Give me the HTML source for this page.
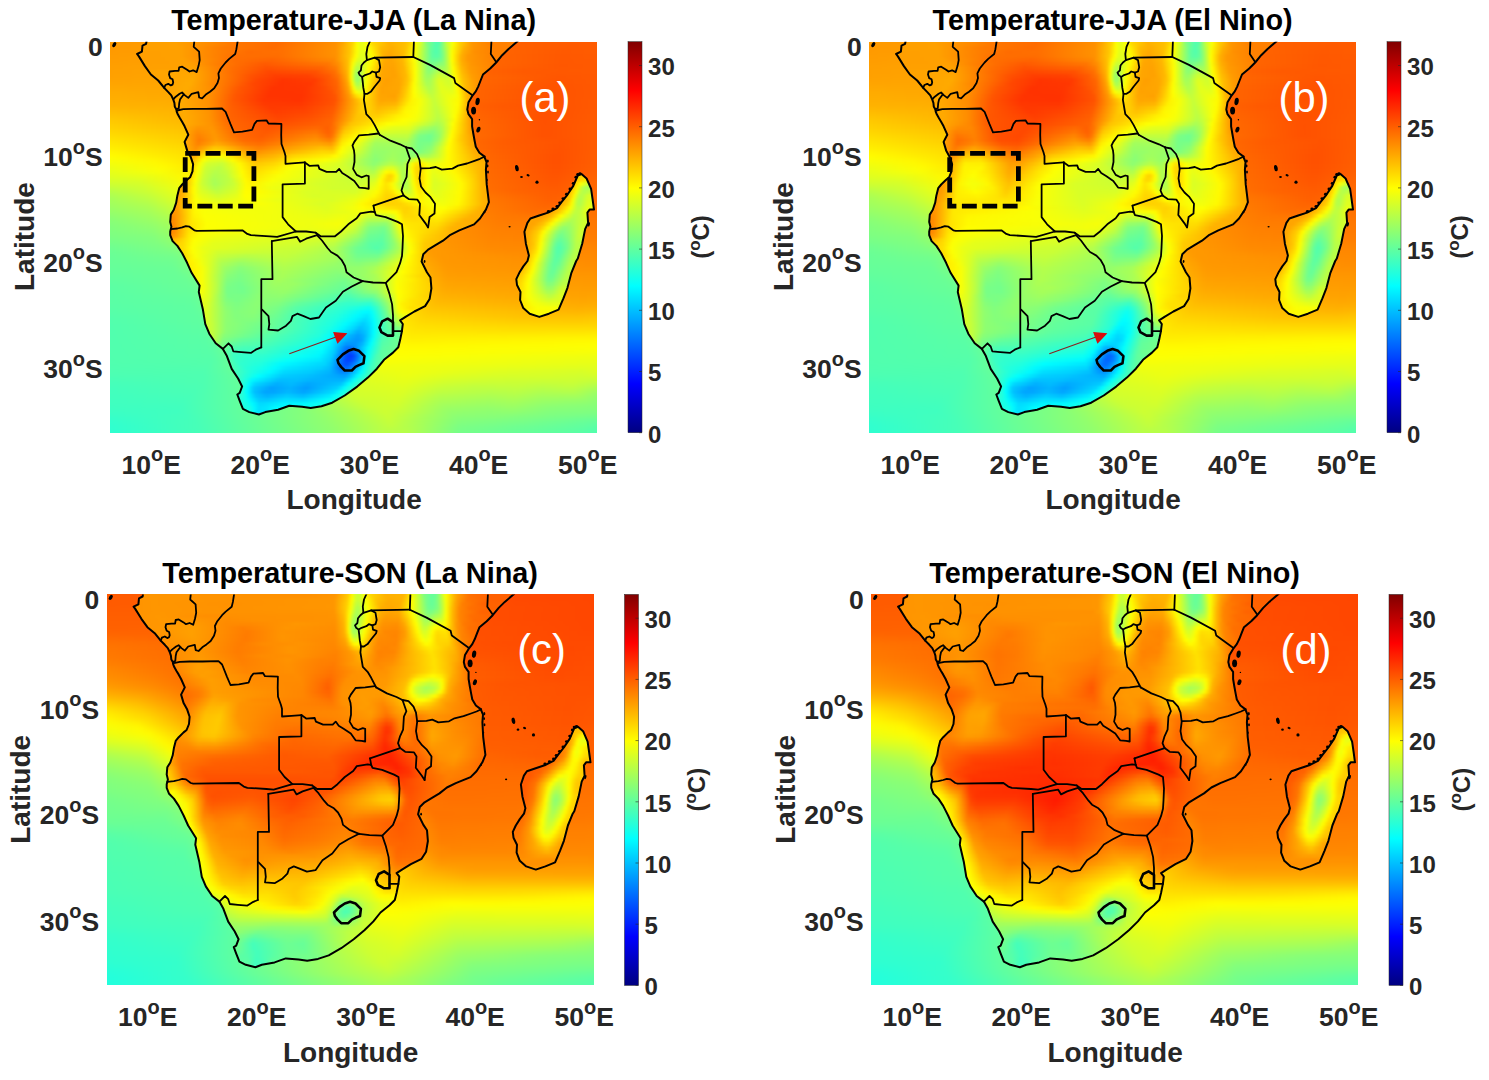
<!DOCTYPE html><html><head><meta charset="utf-8"><style>html,body{margin:0;padding:0;background:#fff}body{width:1489px;height:1080px;position:relative;overflow:hidden;font-family:"Liberation Sans",sans-serif}.p{position:absolute;width:487px;height:391px;overflow:hidden}.o,.l{position:absolute;left:0;top:0;width:487px;height:391px}.o{filter:blur(2px)}.l{filter:blur(0.8px)}.rw{position:absolute;left:-8px;top:-8px;width:503px}.rw i{display:block}svg{position:absolute;left:0;top:0}</style></head><body><div class="p" style="left:110.0px;top:41.7px"><div class="o"><div class="rw"><i style="height:5px;background:linear-gradient(90deg,#ff9900 0px,#ffa400 127px,#ffa600 208px,#ff8c00 219px,#ff6900 231px,#ff5c00 481px,#ff5c00 502px)"></i><i style="height:5px;background:linear-gradient(90deg,#ff9900 0px,#ff9c00 91px,#ff9e00 201px,#ff9100 216px,#ff6f00 232px,#ff5b00 474px,#ff5c00 502px)"></i><i style="height:5px;background:linear-gradient(90deg,#ff9900 0px,#ff9d00 76px,#ff8b00 215px,#ff7600 237px,#ff5a00 469px,#ff5c00 502px)"></i><i style="height:5px;background:linear-gradient(90deg,#ff9a00 0px,#ff9d00 71px,#ff8200 223px,#ff5900 462px,#ff5c00 502px)"></i><i style="height:5px;background:linear-gradient(90deg,#ff9c00 0px,#ff9e00 73px,#ff5800 461px,#ff5b00 502px)"></i><i style="height:5px;background:linear-gradient(90deg,#ff9d00 0px,#ff9f00 76px,#ff5800 460px,#ff5a00 502px)"></i><i style="height:5px;background:linear-gradient(90deg,#ff9f00 0px,#ffa100 78px,#ff5700 459px,#ff5a00 502px)"></i><i style="height:5px;background:linear-gradient(90deg,#ff9f00 0px,#ffa300 78px,#ff5900 421px,#ff5900 502px)"></i><i style="height:5px;background:linear-gradient(90deg,#ffa000 0px,#ffa400 79px,#ff5600 456px,#ff5900 502px)"></i><i style="height:5px;background:linear-gradient(90deg,#ffa300 0px,#ffa500 84px,#ff5500 453px,#ff5900 502px)"></i><i style="height:5px;background:linear-gradient(90deg,#ffa700 0px,#ffa500 95px,#ff5300 450px,#ff5900 502px)"></i><i style="height:5px;background:linear-gradient(90deg,#ffab00 0px,#ffa500 105px,#ff5200 447px,#ff5900 502px)"></i><i style="height:5px;background:linear-gradient(90deg,#ffae00 0px,#ffa600 104px,#ff5200 445px,#ff5900 502px)"></i><i style="height:5px;background:linear-gradient(90deg,#ffb000 0px,#ffab00 94px,#ff5100 443px,#ff5a00 502px)"></i><i style="height:5px;background:linear-gradient(90deg,#ffb400 0px,#ffaf00 88px,#ff5800 401px,#ff5400 465px,#ff5a00 502px)"></i><i style="height:5px;background:linear-gradient(90deg,#ffbb00 0px,#ffb200 93px,#ff6000 385px,#ff5100 448px,#ff5b00 502px)"></i><i style="height:5px;background:linear-gradient(90deg,#ffc400 0px,#ffaf00 123px,#ff6500 374px,#ff5000 444px,#ff5c00 502px)"></i><i style="height:5px;background:linear-gradient(90deg,#ffcb00 0px,#ffa000 205px,#ff5100 442px,#ff5c00 502px)"></i><i style="height:5px;background:linear-gradient(90deg,#ffd100 0px,#ffa900 187px,#ff5100 443px,#ff5d00 502px)"></i><i style="height:5px;background:linear-gradient(90deg,#ffd700 0px,#ffb500 158px,#ff5100 443px,#ff5d00 502px)"></i><i style="height:5px;background:linear-gradient(90deg,#ffdf00 0px,#ffba00 153px,#ff5100 443px,#ff5d00 502px)"></i><i style="height:5px;background:linear-gradient(90deg,#ffe700 0px,#ffc300 132px,#ff5b00 405px,#ff5300 461px,#ff5e00 502px)"></i><i style="height:5px;background:linear-gradient(90deg,#ffee00 0px,#ffd500 90px,#ff5f00 398px,#ff5200 458px,#ff5e00 502px)"></i><i style="height:5px;background:linear-gradient(90deg,#fff600 0px,#ffdf00 79px,#ff6100 395px,#ff5100 457px,#ff5f00 502px)"></i><i style="height:5px;background:linear-gradient(90deg,#ffff00 0px,#ffe700 73px,#ffb700 178px,#ff6500 389px,#ff5000 455px,#ff6000 502px)"></i><i style="height:5px;background:linear-gradient(90deg,#f6ff09 0px,#fff800 52px,#ffc000 158px,#ff6700 387px,#ff5000 454px,#ff6000 502px)"></i><i style="height:5px;background:linear-gradient(90deg,#ecff13 0px,#fffa00 62px,#ffc100 157px,#ff6900 385px,#ff5100 454px,#ff6100 502px)"></i><i style="height:5px;background:linear-gradient(90deg,#e4ff1b 0px,#faff05 57px,#ffbd00 172px,#ff6a00 385px,#ff5200 454px,#ff6300 502px)"></i><i style="height:5px;background:linear-gradient(90deg,#deff21 0px,#e7ff18 42px,#fff900 83px,#ffc000 169px,#ff6b00 385px,#ff5400 453px,#ff6600 502px)"></i><i style="height:5px;background:linear-gradient(90deg,#d4ff2b 0px,#d9ff26 37px,#fff900 91px,#ffbe00 177px,#ff6c00 386px,#ff5600 452px,#ff6900 502px)"></i><i style="height:5px;background:linear-gradient(90deg,#c5ff3a 0px,#d1ff2e 41px,#fffe00 95px,#ffbd00 184px,#ff6b00 391px,#ff5900 452px,#ff6b00 502px)"></i><i style="height:5px;background:linear-gradient(90deg,#b3ff4c 0px,#ccff33 46px,#e6ff19 74px,#fff900 109px,#ffbb00 195px,#ff6400 413px,#ff5c00 456px,#ff6c00 502px)"></i><i style="height:5px;background:linear-gradient(90deg,#a6ff59 0px,#c2ff3d 47px,#ddff22 72px,#fffa00 117px,#ffb900 203px,#ff5e00 449px,#ff6c00 502px)"></i><i style="height:5px;background:linear-gradient(90deg,#a0ff5f 0px,#b8ff47 47px,#d4ff2b 72px,#fffa00 126px,#ffb800 212px,#ff6100 449px,#ff6d00 502px)"></i><i style="height:5px;background:linear-gradient(90deg,#9bff64 0px,#adff52 46px,#ccff33 74px,#fffa00 135px,#ffb500 222px,#ff6600 442px,#ff7000 502px)"></i><i style="height:5px;background:linear-gradient(90deg,#94ff6b 0px,#a6ff59 48px,#c6ff39 78px,#fffa00 144px,#ffb300 232px,#ff6d00 429px,#ff7300 502px)"></i><i style="height:5px;background:linear-gradient(90deg,#8bff74 0px,#a0ff5f 50px,#e5ff1a 121px,#fff900 154px,#ffb000 243px,#ff7900 402px,#ff7300 486px,#ff7600 502px)"></i><i style="height:5px;background:linear-gradient(90deg,#84ff7b 0px,#99ff66 51px,#fffa00 162px,#ffae00 253px,#ff7c00 397px,#ff7800 502px)"></i><i style="height:5px;background:linear-gradient(90deg,#80ff7f 0px,#91ff6e 51px,#fffb00 171px,#ffab00 265px,#ff7f00 395px,#ff7900 502px)"></i><i style="height:5px;background:linear-gradient(90deg,#7eff81 0px,#8aff75 50px,#fffa00 181px,#ffa900 276px,#ff8200 393px,#ff7a00 502px)"></i><i style="height:5px;background:linear-gradient(90deg,#7bff84 0px,#83ff7c 50px,#fffa00 190px,#ffa500 288px,#ff8400 391px,#ff7c00 502px)"></i><i style="height:5px;background:linear-gradient(90deg,#75ff8a 0px,#80ff7f 53px,#d9ff26 154px,#fff900 200px,#ffa200 300px,#ff8700 390px,#ff7f00 502px)"></i><i style="height:5px;background:linear-gradient(90deg,#6eff91 0px,#7dff82 59px,#bcff43 133px,#fffa00 208px,#ff9f00 312px,#ff8900 390px,#ff8400 502px)"></i><i style="height:5px;background:linear-gradient(90deg,#69ff96 0px,#7aff85 68px,#fffa00 217px,#ff9c00 324px,#ff8c00 394px,#ff8700 502px)"></i><i style="height:5px;background:linear-gradient(90deg,#67ff98 0px,#74ff8b 71px,#fffa00 225px,#ff9900 335px,#ff8c00 437px,#ff8900 502px)"></i><i style="height:5px;background:linear-gradient(90deg,#66ff99 0px,#6fff90 71px,#fffa00 231px,#ff9800 341px,#ff8b00 502px)"></i><i style="height:5px;background:linear-gradient(90deg,#65ff9a 0px,#6bff94 70px,#c9ff36 175px,#fffa00 236px,#ff9900 344px,#ff8e00 502px)"></i><i style="height:5px;background:linear-gradient(90deg,#63ff9c 0px,#69ff96 73px,#fffa00 240px,#ff9b00 345px,#ff9200 502px)"></i><i style="height:5px;background:linear-gradient(90deg,#60ff9f 0px,#69ff96 79px,#fffa00 244px,#ff9e00 345px,#ff9600 502px)"></i><i style="height:5px;background:linear-gradient(90deg,#5dffa2 0px,#69ff96 85px,#fffb00 247px,#ffa200 345px,#ff9900 490px,#ff9900 502px)"></i><i style="height:5px;background:linear-gradient(90deg,#5affa5 0px,#68ff97 88px,#fffa00 251px,#ffa600 344px,#ff9c00 486px,#ff9c00 502px)"></i><i style="height:5px;background:linear-gradient(90deg,#5affa5 0px,#66ff99 89px,#fffb00 254px,#ffab00 343px,#ff9f00 484px,#ffa100 502px)"></i><i style="height:5px;background:linear-gradient(90deg,#59ffa6 0px,#63ff9c 89px,#fffa00 258px,#ffb100 341px,#ffa200 482px,#ffa500 502px)"></i><i style="height:5px;background:linear-gradient(90deg,#59ffa6 0px,#61ff9e 89px,#fffb00 261px,#ffb800 337px,#ffa700 481px,#ffa900 502px)"></i><i style="height:5px;background:linear-gradient(90deg,#58ffa7 0px,#5fffa0 90px,#fffa00 265px,#ffc000 333px,#ffad00 478px,#ffb000 502px)"></i><i style="height:5px;background:linear-gradient(90deg,#56ffa9 0px,#5fffa0 93px,#fffb00 268px,#ffc900 328px,#ffb500 475px,#ffba00 502px)"></i><i style="height:5px;background:linear-gradient(90deg,#53ffac 0px,#5fffa0 97px,#fffa00 272px,#ffd100 324px,#ffc200 420px,#ffc100 480px,#ffc600 502px)"></i><i style="height:5px;background:linear-gradient(90deg,#51ffae 0px,#5fffa0 100px,#fffb00 274px,#ffd900 319px,#ffcd00 415px,#ffcb00 478px,#ffcf00 502px)"></i><i style="height:5px;background:linear-gradient(90deg,#50ffaf 0px,#5dffa2 101px,#fffa00 277px,#ffe000 315px,#ffd800 413px,#ffd700 482px,#ffd800 502px)"></i><i style="height:5px;background:linear-gradient(90deg,#50ffaf 0px,#5cffa3 102px,#fffa00 279px,#ffe600 311px,#ffe200 413px,#ffe400 502px)"></i><i style="height:5px;background:linear-gradient(90deg,#50ffaf 0px,#5affa5 102px,#fffb00 280px,#ffec00 309px,#fff100 502px)"></i><i style="height:5px;background:linear-gradient(90deg,#50ffaf 0px,#59ffa6 104px,#fffb00 282px,#fff200 310px,#fffb00 502px)"></i><i style="height:5px;background:linear-gradient(90deg,#50ffaf 0px,#58ffa7 106px,#fffb00 284px,#fffa00 320px,#fdff02 502px)"></i><i style="height:5px;background:linear-gradient(90deg,#50ffaf 0px,#57ffa8 107px,#fffd00 286px,#f8ff07 501px,#f8ff07 502px)"></i><i style="height:5px;background:linear-gradient(90deg,#50ffaf 0px,#56ffa9 109px,#fdff02 286px,#efff10 497px,#f1ff0e 502px)"></i><i style="height:5px;background:linear-gradient(90deg,#50ffaf 0px,#54ffab 109px,#f8ff07 282px,#e9ff16 499px,#eaff15 502px)"></i><i style="height:5px;background:linear-gradient(90deg,#4fffb0 0px,#52ffad 106px,#79ff86 150px,#f2ff0d 277px,#eeff11 332px,#e2ff1d 496px,#e5ff1a 502px)"></i><i style="height:5px;background:linear-gradient(90deg,#4effb1 0px,#4fffb0 102px,#6dff92 143px,#e8ff17 265px,#efff10 309px,#dfff20 399px,#d8ff27 481px,#e2ff1d 502px)"></i><i style="height:5px;background:linear-gradient(90deg,#4bffb4 0px,#4effb1 102px,#6dff92 148px,#e0ff1f 258px,#ebff14 305px,#deff21 347px,#d7ff28 392px,#d5ff2a 447px,#d1ff2e 478px,#d3ff2c 494px,#daff25 502px)"></i><i style="height:5px;background:linear-gradient(90deg,#46ffb9 0px,#4effb1 102px,#70ff8f 155px,#dbff24 254px,#e6ff19 303px,#d4ff2b 342px,#cdff32 389px,#ccff33 420px,#caff35 444px,#cbff34 472px,#c3ff3c 493px,#c8ff37 502px)"></i><i style="height:5px;background:linear-gradient(90deg,#43ffbc 0px,#4cffb3 99px,#72ff8d 161px,#d7ff28 253px,#e0ff1f 302px,#caff35 339px,#c1ff3e 371px,#c4ff3b 416px,#bdff42 440px,#c2ff3d 470px,#adff52 500px,#adff52 502px)"></i><i style="height:5px;background:linear-gradient(90deg,#41ffbe 0px,#4affb5 94px,#74ff8b 168px,#d4ff2b 253px,#dcff23 300px,#c0ff3f 338px,#b7ff48 388px,#bbff44 414px,#b1ff4e 439px,#b5ff4a 471px,#97ff68 502px)"></i><i style="height:5px;background:linear-gradient(90deg,#40ffbf 0px,#47ffb8 88px,#78ff87 176px,#d0ff2f 254px,#d8ff27 298px,#b5ff4a 337px,#acff53 387px,#b1ff4e 413px,#a5ff5a 439px,#a4ff5b 476px,#8bff74 502px)"></i><i style="height:5px;background:linear-gradient(90deg,#3fffc0 0px,#44ffbb 82px,#7cff83 185px,#cbff34 257px,#d5ff2a 295px,#abff54 338px,#a1ff5e 386px,#a6ff59 412px,#99ff66 440px,#92ff6d 484px,#87ff78 502px)"></i><i style="height:5px;background:linear-gradient(90deg,#3effc1 0px,#41ffbe 78px,#82ff7d 195px,#cbff34 266px,#d0ff2f 295px,#a0ff5f 341px,#97ff68 385px,#9cff63 411px,#8dff72 443px,#84ff7b 502px)"></i><i style="height:5px;background:linear-gradient(90deg,#3bffc4 0px,#40ffbf 77px,#87ff78 205px,#ceff31 282px,#c3ff3c 303px,#95ff6a 346px,#8eff71 387px,#91ff6e 411px,#83ff7c 448px,#7fff80 502px)"></i><i style="height:5px;background:linear-gradient(90deg,#36ffc9 0px,#43ffbc 85px,#8dff72 215px,#cbff34 287px,#abff54 319px,#8bff74 354px,#88ff77 392px,#82ff7d 418px,#72ff8d 502px)"></i><i style="height:5px;background:linear-gradient(90deg,#31ffce 0px,#46ffb9 93px,#91ff6e 224px,#c6ff39 288px,#a7ff58 320px,#83ff7c 356px,#78ff87 420px,#62ff9d 502px)"></i><i style="height:5px;background:linear-gradient(90deg,#2effd1 0px,#47ffb8 96px,#92ff6d 229px,#c1ff3e 288px,#acff53 314px,#7cff83 357px,#60ff9f 484px,#55ffaa 502px)"></i><i style="height:5px;background:linear-gradient(90deg,#2dffd2 0px,#47ffb8 98px,#64ff9b 149px,#91ff6e 232px,#b9ff46 280px,#b6ff49 305px,#77ff88 357px,#5bffa4 476px,#4fffb0 502px)"></i><i style="height:5px;background:linear-gradient(90deg,#2dffd2 0px,#45ffba 98px,#5bffa4 122px,#7dff82 202px,#9bff64 244px,#b1ff4e 268px,#b7ff48 303px,#73ff8c 358px,#59ffa6 468px,#4dffb2 502px)"></i><i style="height:2px;background:linear-gradient(90deg,#2dffd2 0px,#42ffbd 97px,#5cffa3 119px,#78ff87 198px,#8aff75 225px,#9cff63 245px,#afff50 264px,#b6ff49 305px,#8dff72 335px,#71ff8e 359px,#59ffa6 466px,#4dffb2 502px)"></i></div></div><div class="l" style="clip-path:path('M36.5 -0.2 L36.1 2.1 L32.5 3.9 L31.9 9.9 L27.1 12.3 L28.9 14.7 L34.9 24.4 L40.9 32.8 L48.2 38.8 L54.2 46.2 L58.3 50.4 L61.3 53.7 L63.3 57.9 L64.4 61.2 L64.8 65.0 L66.3 67.5 L66.7 70.0 L67.9 72.9 L70.0 76.6 L72.1 80.0 L74.6 84.6 L78.3 93.0 L74.6 100.2 L77.1 108.7 L80.7 115.2 L83.1 122.4 L82.5 129.6 L80.1 135.6 L77.1 138.0 L72.2 142.8 L69.2 146.5 L67.4 153.7 L66.2 160.9 L63.8 168.1 L60.8 172.9 L60.2 180.2 L61.4 185.0 L60.2 189.8 L60.2 193.4 L62.6 199.4 L67.4 204.2 L72.2 211.5 L77.1 221.1 L81.6 231.1 L89.6 243.9 L88.8 250.3 L92.9 267.9 L95.3 282.4 L99.3 292.0 L105.7 301.6 L112.9 307.2 L116.9 314.4 L121.7 327.2 L128.1 336.8 L132.1 344.8 L129.7 351.2 L127.3 352.8 L129.7 359.2 L132.9 367.2 L139.3 370.4 L148.9 372.8 L155.3 370.4 L168.1 368.0 L179.3 364.0 L192.1 365.1 L200.7 366.3 L211.5 364.5 L222.2 361.0 L234.7 353.8 L247.2 344.9 L257.9 335.9 L266.9 327.0 L274.0 318.1 L283.0 310.9 L288.3 305.6 L290.1 298.4 L291.9 289.5 L292.8 282.3 L290.1 278.7 L295.5 275.2 L304.4 269.8 L315.1 264.4 L319.6 257.3 L321.4 246.6 L320.5 235.8 L316.9 230.5 L311.6 219.8 L313.3 212.6 L318.1 207.9 L325.5 203.5 L333.0 199.0 L340.4 193.1 L349.3 188.7 L356.7 185.7 L364.1 182.7 L370.0 176.8 L375.9 167.9 L378.9 160.5 L376.7 142.7 L375.9 127.9 L376.5 120.3 L374.2 114.7 L369.4 111.1 L365.8 105.1 L364.6 99.0 L363.3 91.8 L362.1 84.6 L362.1 77.4 L358.5 72.5 L357.3 67.7 L358.5 60.5 L362.1 54.5 L365.8 49.7 L368.2 44.9 L370.6 38.8 L373.0 32.8 L380.2 26.8 L386.2 20.8 L392.2 13.5 L398.3 7.5 L406.7 0.3 L407.5 -0.2 L407.5 -11.7 L36.5 -11.7Z M471.5 132.4 L476.6 136.8 L481.1 147.2 L482.6 157.6 L484.0 167.9 L479.6 167.9 L477.4 170.9 L478.1 181.3 L475.2 187.2 L472.2 202.0 L467.8 216.8 L466.2 219.3 L461.4 231.1 L457.4 246.4 L453.4 256.7 L448.6 268.0 L438.9 272.0 L429.3 275.2 L419.7 272.0 L413.3 266.4 L410.1 258.3 L410.5 250.3 L407.0 243.3 L406.3 237.5 L409.3 231.1 L413.3 224.7 L417.5 219.3 L418.9 213.8 L415.9 202.0 L414.4 190.1 L417.4 181.2 L420.4 176.8 L429.2 173.8 L438.1 170.9 L447.0 166.4 L451.5 160.5 L457.4 153.1 L463.3 144.2 L467.8 133.8Z')"><div class="rw"><i style="height:4px;background:linear-gradient(90deg,#ff9f00 0px,#ffa100 72px,#ff9900 92px,#ff8f00 104px,#ff8600 114px,#ff7900 122px,#ff6a00 176px,#ff7600 190px,#ff8600 223px,#ff9700 239px,#ffbb00 245px,#ffc700 250px,#ffe700 253px,#f9ff06 255px,#e3ff1c 258px,#e5ff1a 262px,#fffd00 265px,#ffd600 269px,#ffc600 279px,#ffb000 285px,#ffb600 297px,#ffc600 307px,#ffed00 311px,#fcff03 313px,#e5ff1a 318px,#b9ff46 321px,#84ff7b 324px,#6dff92 328px,#4affb5 335px,#52ffad 338px,#70ff8f 340px,#c7ff38 344px,#deff21 347px,#f5ff0a 351px,#fffd00 352px,#ffd500 356px,#ffc000 363px,#ff9a00 368px,#ff8900 379px,#ff8000 389px,#ff8000 502px)"></i><i style="height:4px;background:linear-gradient(90deg,#ff9f00 0px,#ffa100 72px,#ff9900 92px,#ff8f00 106px,#ff8300 115px,#ff7900 126px,#ff6a00 175px,#ff7600 191px,#ff8600 223px,#ff9800 239px,#ffbd00 246px,#ffcf00 251px,#faff05 255px,#e3ff1c 258px,#e6ff19 262px,#fffd00 265px,#ffd700 269px,#ffc100 280px,#ffb000 286px,#ffb800 298px,#ffc600 307px,#fcff03 313px,#daff25 319px,#85ff7a 324px,#6dff92 328px,#4bffb4 335px,#54ffab 338px,#71ff8e 340px,#c6ff39 344px,#deff21 347px,#f6ff09 351px,#fffd00 352px,#ffd600 356px,#ffbf00 363px,#ff9b00 368px,#ff8900 379px,#ff8000 390px,#ff8000 502px)"></i><i style="height:4px;background:linear-gradient(90deg,#ff9f00 0px,#ffa100 74px,#ff8700 113px,#ff7700 132px,#ff6b00 175px,#ff9100 234px,#ffab00 242px,#ffd500 251px,#fdff02 255px,#e6ff19 259px,#f0ff0f 263px,#ffff00 265px,#ffd800 271px,#ffb000 287px,#ffbf00 303px,#ffd200 308px,#fffe00 313px,#d2ff2d 319px,#82ff7d 325px,#50ffaf 334px,#55ffaa 337px,#77ff88 340px,#c8ff37 345px,#fbff04 351px,#ffcd00 358px,#ff9700 370px,#ff8000 389px,#ff8000 502px)"></i><i style="height:4px;background:linear-gradient(90deg,#ff9f00 0px,#ffa100 77px,#ff7a00 122px,#ff6b00 171px,#ff9200 234px,#ffc500 248px,#fdff02 255px,#e6ff19 259px,#f3ff0c 264px,#fffb00 267px,#ffbb00 279px,#ffad00 290px,#ffc200 304px,#fffe00 313px,#beff41 320px,#6cff93 328px,#51ffae 334px,#61ff9e 338px,#afff50 344px,#faff05 350px,#ffb000 362px,#ff9200 372px,#ff8000 393px,#ff8000 502px)"></i><i style="height:4px;background:linear-gradient(90deg,#ff9f00 0px,#ffa000 78px,#ff7e00 118px,#ff6c00 147px,#ff7000 180px,#ff9200 234px,#ffc600 248px,#faff05 255px,#e2ff1d 259px,#f0ff0f 265px,#fff900 269px,#ffb500 280px,#ffa900 288px,#ffbc00 302px,#fcff03 313px,#63ff9c 329px,#52ffad 334px,#5fffa0 338px,#8bff74 342px,#f3ff0c 349px,#fff700 351px,#ffac00 361px,#ff9000 372px,#ff8000 393px,#ff8000 502px)"></i><i style="height:4px;background:linear-gradient(90deg,#ff9f00 0px,#ffa000 78px,#ff8100 114px,#ff6e00 135px,#ff6d00 176px,#ff9100 234px,#ffc900 248px,#feff01 254px,#e0ff1f 258px,#e3ff1c 263px,#fffb00 270px,#ffac00 282px,#ffa600 289px,#ffb900 301px,#ffff00 312px,#a5ff5a 322px,#5effa1 330px,#58ffa7 335px,#67ff98 339px,#97ff68 343px,#f4ff0b 349px,#fffe00 350px,#ffb000 359px,#ff9800 366px,#ff8100 391px,#ff8000 502px)"></i><i style="height:4px;background:linear-gradient(90deg,#ff9f00 0px,#ffa000 81px,#ff8600 110px,#ff6e00 132px,#ff6400 170px,#ff8800 232px,#ffbe00 246px,#fffb00 252px,#d9ff26 257px,#dfff20 262px,#fffc00 270px,#ffaa00 282px,#ffa400 289px,#ffb800 301px,#ffff00 312px,#91ff6e 324px,#69ff96 329px,#68ff97 335px,#78ff87 340px,#a5ff5a 344px,#ffff00 350px,#ffaf00 359px,#ff9800 366px,#ff8200 391px,#ff8200 410px,#ff8000 502px)"></i><i style="height:4px;background:linear-gradient(90deg,#ff9f00 0px,#ffa000 88px,#ff7e00 115px,#ff6c00 136px,#ff5a00 163px,#ff7600 226px,#ff8d00 236px,#ffbe00 246px,#fbff04 251px,#cdff32 255px,#c9ff36 258px,#fffc00 269px,#ffa600 282px,#ffa400 291px,#ffb500 301px,#fbff04 313px,#7bff84 327px,#75ff8a 331px,#92ff6d 342px,#c2ff3d 346px,#faff05 350px,#ffae00 360px,#ff9600 369px,#ff8300 391px,#ff8600 410px,#ff8000 448px,#ff8000 502px)"></i><i style="height:4px;background:linear-gradient(90deg,#ff9f00 0px,#ffa100 92px,#ff6e00 130px,#ff5100 165px,#ff6400 220px,#ff7c00 234px,#ffbd00 246px,#ffeb00 249px,#feff01 250px,#c8ff37 253px,#b4ff4b 256px,#cfff30 260px,#fdff02 267px,#ffa600 281px,#ffa200 291px,#ffb500 302px,#fdff02 313px,#87ff78 326px,#83ff7c 330px,#9eff61 337px,#a4ff5b 343px,#cdff32 347px,#ffff00 351px,#ffba00 359px,#ff9c00 367px,#ff8400 390px,#ff8700 412px,#ff8000 430px,#ff8000 502px)"></i><i style="height:4px;background:linear-gradient(90deg,#ff9f00 0px,#ffa700 79px,#ffa000 96px,#ff6e00 129px,#ff4700 167px,#ff5100 213px,#ff6f00 233px,#ffb100 245px,#ffdb00 248px,#f5ff0a 250px,#b5ff4a 253px,#a3ff5c 255px,#b2ff4d 258px,#f0ff0f 264px,#fffb00 267px,#ffa600 280px,#ffa100 292px,#ffb700 303px,#ffee00 311px,#feff01 313px,#92ff6d 325px,#8dff72 328px,#b8ff47 337px,#b4ff4b 344px,#d6ff29 348px,#fffc00 352px,#ffba00 360px,#ff9b00 369px,#ff8500 388px,#ff8900 414px,#ff8000 427px,#ff8400 497px,#ff9000 502px)"></i><i style="height:4px;background:linear-gradient(90deg,#ff9f00 0px,#ffa500 66px,#ffa800 91px,#ff5000 150px,#ff3e00 173px,#ff4100 206px,#ff5a00 227px,#ff7300 236px,#ffac00 245px,#ffdb00 248px,#fff300 249px,#f0ff0f 250px,#a8ff57 253px,#96ff69 255px,#9eff61 257px,#f2ff0d 264px,#fff400 267px,#ffa600 279px,#ffa100 293px,#ffb800 304px,#ffed00 311px,#feff01 313px,#9eff61 324px,#9bff64 328px,#cfff30 337px,#c4ff3b 345px,#ddff22 349px,#fffa00 353px,#ffc100 360px,#ff9d00 370px,#ff8600 387px,#ff8d00 415px,#ff8000 426px,#ff8500 491px,#ffac00 499px,#ffbc00 502px)"></i><i style="height:4px;background:linear-gradient(90deg,#ff9f00 0px,#ffa400 63px,#ffaa00 90px,#ff4600 155px,#ff3400 181px,#ff3d00 213px,#ff6700 235px,#ffa600 245px,#ffd500 248px,#f6ff09 250px,#abff54 253px,#96ff69 255px,#9cff63 257px,#fffe00 265px,#ffaa00 277px,#ff9f00 285px,#ffa900 299px,#ffc400 306px,#fcff03 313px,#a5ff5a 324px,#a6ff59 328px,#ddff22 337px,#d8ff27 342px,#cfff30 347px,#f3ff0c 352px,#fff800 354px,#ffc100 361px,#ff9e00 371px,#ff8700 385px,#ff9000 417px,#ff8000 427px,#ff8500 484px,#ffb100 493px,#ffcc00 500px,#ffce00 502px)"></i><i style="height:4px;background:linear-gradient(90deg,#ff9f00 0px,#ffa200 59px,#ffab00 88px,#ff7f00 117px,#ff4700 151px,#ff3300 178px,#ff3800 209px,#ff6400 235px,#ff9f00 245px,#ffc700 248px,#fff500 250px,#f0ff0f 251px,#b3ff4c 254px,#a8ff57 256px,#bcff43 259px,#fcff03 264px,#ffb000 275px,#ffa000 282px,#ffa700 298px,#ffc200 305px,#fffd00 312px,#aaff55 325px,#afff50 329px,#e3ff1c 338px,#d7ff28 344px,#d4ff2b 348px,#f5ff0a 353px,#fff600 355px,#ffbe00 362px,#ff9e00 372px,#ff8800 383px,#ff9200 419px,#ff8000 429px,#ff8500 477px,#ffb100 486px,#ffcc00 493px,#ffcf00 502px)"></i><i style="height:4px;background:linear-gradient(90deg,#ff9f00 0px,#ffa200 59px,#ffab00 85px,#ff8e00 109px,#ff5700 137px,#ff3300 171px,#ff3500 202px,#ff4800 221px,#ff6100 235px,#ffa000 246px,#ffca00 249px,#fff400 251px,#f5ff0a 252px,#cbff34 255px,#c8ff37 258px,#fffa00 264px,#ffbd00 272px,#ffa200 279px,#ffa600 297px,#ffc900 305px,#feff01 312px,#c8ff37 322px,#b0ff4f 327px,#c0ff3f 332px,#e4ff1b 339px,#dbff24 349px,#fffe00 355px,#ffbb00 363px,#ff8b00 379px,#ff9300 422px,#ff8000 431px,#ff8500 470px,#ffb100 479px,#ffcc00 486px,#ffcf00 502px)"></i><i style="height:4px;background:linear-gradient(90deg,#ff9f00 0px,#ffa100 59px,#ffab00 82px,#ff9200 107px,#ff5900 134px,#ff3300 168px,#ff3400 201px,#ff5200 230px,#ff6c00 238px,#ffa000 247px,#fff700 253px,#f3ff0c 255px,#e8ff17 259px,#fffb00 263px,#ffc500 270px,#ffa200 279px,#ffa500 296px,#ffca00 304px,#feff01 312px,#d4ff2b 322px,#b9ff46 328px,#c6ff39 333px,#e4ff1b 340px,#e6ff19 351px,#fffb00 356px,#ffb800 364px,#ff8a00 379px,#ff9500 424px,#ff8000 433px,#ff8500 463px,#ffa400 470px,#ffc800 477px,#ffcf00 500px,#ffcf00 502px)"></i><i style="height:4px;background:linear-gradient(90deg,#ff9f00 0px,#ffa100 59px,#ffac00 79px,#ff9100 107px,#ff5700 133px,#ff3300 166px,#ff3300 200px,#ff5400 233px,#ff9700 247px,#ffe100 255px,#fff400 260px,#ffe000 265px,#ffa600 277px,#ffa100 293px,#ffba00 300px,#fffd00 312px,#e0ff1f 322px,#c1ff3e 330px,#d7ff28 337px,#e8ff17 344px,#f5ff0a 354px,#fff800 357px,#ffb500 365px,#ff8c00 377px,#ff9800 426px,#ff8000 435px,#ff8600 457px,#ffca00 471px,#ffcf00 502px)"></i><i style="height:4px;background:linear-gradient(90deg,#ff9f00 0px,#ffa100 60px,#ffab00 78px,#ff9000 107px,#ff5900 131px,#ff3600 162px,#ff3300 198px,#ff5200 233px,#ff9d00 249px,#ffd800 260px,#ffd800 265px,#ffa600 278px,#ffa800 294px,#fff500 310px,#f5ff0a 318px,#c6ff39 332px,#f1ff0e 348px,#fff900 357px,#ffab00 367px,#ff8d00 376px,#ff9a00 428px,#ff8000 437px,#ff8600 451px,#ffc700 463px,#ffcf00 480px,#ffcf00 502px)"></i><i style="height:4px;background:linear-gradient(90deg,#ff9f00 0px,#ffa000 52px,#ffa200 62px,#ffab00 79px,#ff9000 107px,#ff5e00 129px,#ff3900 163px,#ff3700 198px,#ff5300 232px,#ffa300 250px,#ffd600 262px,#ffcd00 268px,#ffae00 277px,#ffb500 294px,#fff100 307px,#f8ff07 317px,#c4ff3b 333px,#ddff22 341px,#f5ff0a 350px,#fffc00 356px,#ffd100 362px,#ffa300 368px,#ff8d00 376px,#ff9d00 430px,#ff8200 439px,#ff8b00 447px,#ffc700 457px,#ffcf00 473px,#ffcf00 502px)"></i><i style="height:4px;background:linear-gradient(90deg,#ff9f00 0px,#ffa500 43px,#ffa900 50px,#ff9c00 57px,#ffab00 80px,#ff9100 107px,#ff6100 128px,#ff3a00 169px,#ff3f00 201px,#ff5900 232px,#ffd100 260px,#ffd100 267px,#ffb800 276px,#ffc700 294px,#fff200 304px,#fbff04 315px,#c1ff3e 334px,#d6ff29 341px,#f4ff0b 350px,#fffa00 356px,#ffbd00 364px,#ff9700 370px,#ff8f00 379px,#ff9f00 433px,#ff8c00 441px,#ffa500 446px,#ffc900 452px,#ffcf00 482px,#ffcf00 502px)"></i><i style="height:4px;background:linear-gradient(90deg,#ff9f00 0px,#ffa500 38px,#ffad00 49px,#ff9c00 58px,#ffab00 81px,#ff9300 107px,#ff6200 128px,#ff3e00 174px,#ff4600 204px,#ff5c00 231px,#ffcc00 258px,#ffd000 267px,#ffc100 275px,#ffd900 294px,#fff700 303px,#f9ff06 315px,#beff41 335px,#d5ff2a 342px,#f6ff09 351px,#fffa00 355px,#ffc400 363px,#ff9900 369px,#ff8f00 377px,#ffa300 435px,#ff9c00 440px,#ffcb00 448px,#ffcf00 502px)"></i><i style="height:4px;background:linear-gradient(90deg,#ff9f00 0px,#ffa500 34px,#ffaf00 48px,#ff9b00 58px,#ffab00 83px,#ff9400 107px,#ff6300 128px,#ff4300 176px,#ff4d00 206px,#ff5f00 230px,#ffc500 255px,#ffce00 268px,#ffce00 276px,#fff000 296px,#fffc00 307px,#f6ff09 315px,#bbff44 336px,#cfff30 342px,#ffff00 353px,#ffc100 363px,#ff9800 369px,#ff9100 378px,#ffab00 439px,#ffce00 447px,#ffcf00 502px)"></i><i style="height:4px;background:linear-gradient(90deg,#ff9f00 0px,#ffa500 30px,#ffaf00 46px,#ffa300 54px,#ff9c00 60px,#ffac00 83px,#ff9300 108px,#ff6500 128px,#ff4800 177px,#ff5600 209px,#ff6400 230px,#ffc300 253px,#ffe100 278px,#feff01 301px,#f5ff0a 313px,#b6ff49 336px,#c8ff37 342px,#fffa00 353px,#ff9400 370px,#ffae00 439px,#ffce00 448px,#ffcf00 502px)"></i><i style="height:4px;background:linear-gradient(90deg,#ff9f00 0px,#ffa600 26px,#ffaf00 45px,#ffa600 54px,#ff9b00 60px,#ffac00 82px,#ff9200 110px,#ff6600 130px,#ff4f00 173px,#ff5b00 205px,#ff6400 229px,#ff8e00 238px,#ffc300 249px,#ffe800 272px,#fdff02 286px,#f4ff0b 305px,#e2ff1d 313px,#a9ff56 335px,#bbff44 341px,#feff01 351px,#ff9600 370px,#ffb000 441px,#ffce00 450px,#ffcf00 502px)"></i><i style="height:4px;background:linear-gradient(90deg,#ff9f00 0px,#ffa600 22px,#ffaf00 40px,#ffa800 54px,#ff9a00 60px,#ffab00 82px,#ff9400 96px,#ff9600 110px,#ff6700 132px,#ff5400 167px,#ff6400 203px,#ff6900 215px,#ff5f00 226px,#ff7500 233px,#ffbc00 243px,#ffd900 253px,#ffef00 267px,#fbff04 273px,#e3ff1c 292px,#e0ff1f 308px,#adff52 320px,#95ff6a 333px,#aeff51 340px,#fffb00 351px,#ff9800 370px,#ffb000 442px,#ffcf00 453px,#ffcf00 502px)"></i><i style="height:4px;background:linear-gradient(90deg,#ff9f00 0px,#ffa900 19px,#ffaf00 51px,#ff9a00 61px,#ffaa00 83px,#ff8b00 95px,#ff9100 104px,#ff9800 111px,#ff6900 134px,#ff5900 164px,#ff7300 205px,#ff7700 214px,#ff6100 226px,#ff6f00 231px,#ffc800 242px,#ffe600 253px,#fcff03 266px,#dbff24 276px,#d3ff2c 297px,#d0ff2f 307px,#94ff6b 318px,#82ff7d 331px,#a2ff5d 339px,#fffc00 350px,#ff9e00 369px,#ff9c00 391px,#ffb500 446px,#ffce00 455px,#ffcf00 502px)"></i><i style="height:4px;background:linear-gradient(90deg,#ff9f00 0px,#ffaf00 30px,#ffa900 55px,#ff9900 61px,#ffab00 83px,#ff8200 96px,#ff8e00 105px,#ff9800 113px,#ff6a00 137px,#ff5c00 160px,#ff8000 205px,#ff8500 214px,#ff6900 227px,#ff7900 231px,#ffd400 241px,#fff200 252px,#faff05 261px,#c4ff3b 275px,#c2ff3d 297px,#c1ff3e 306px,#7eff81 317px,#70ff8f 328px,#93ff6c 337px,#daff25 345px,#fffe00 349px,#ffca00 359px,#ff9e00 371px,#ffb400 446px,#ffcf00 458px,#ffcf00 502px)"></i><i style="height:4px;background:linear-gradient(90deg,#ffa100 0px,#ffaf00 22px,#ffab00 55px,#ff9900 62px,#ffaa00 84px,#ff7c00 97px,#ff9b00 114px,#ff6b00 141px,#ff6200 158px,#ff8b00 203px,#ff9300 214px,#ff7e00 228px,#ff9400 232px,#ffdf00 240px,#fffa00 249px,#edff12 259px,#afff50 274px,#b2ff4d 297px,#b3ff4c 305px,#76ff89 317px,#71ff8e 328px,#96ff69 336px,#ffff00 348px,#ffd100 357px,#ffa100 371px,#ffb200 439px,#ffc000 453px,#ffcf00 461px,#ffcf00 502px)"></i><i style="height:4px;background:linear-gradient(90deg,#ffaa00 0px,#ffae00 54px,#ff9900 63px,#ffab00 84px,#ff8200 96px,#ffab00 115px,#ff7600 144px,#ff6e00 158px,#ffa100 207px,#ffa400 218px,#ff9b00 229px,#ffbb00 234px,#ffee00 240px,#fcff03 247px,#dcff23 259px,#a1ff5e 273px,#a6ff59 297px,#a5ff5a 306px,#77ff88 317px,#7fff80 329px,#b1ff4e 337px,#fffe00 347px,#ffac00 368px,#ffa200 380px,#ffbc00 453px,#ffcf00 463px,#ffcf00 502px)"></i><i style="height:4px;background:linear-gradient(90deg,#ffaf00 0px,#ffac00 56px,#ff9800 63px,#ffaa00 85px,#ff8e00 94px,#ffc600 112px,#ffbf00 121px,#ff9100 142px,#ff7f00 157px,#ffbf00 219px,#ffb800 230px,#ffd900 235px,#fffd00 240px,#d4ff2b 258px,#9bff64 272px,#9cff63 286px,#a0ff5f 305px,#78ff87 317px,#8dff72 329px,#ffff00 346px,#ffaa00 371px,#ffa900 397px,#ffbf00 456px,#ffcf00 466px,#ffcf00 502px)"></i><i style="height:4px;background:linear-gradient(90deg,#ffaf00 0px,#ffab00 57px,#ff9800 64px,#ffaa00 85px,#ff9c00 93px,#ffd500 105px,#ffe600 116px,#ffc500 131px,#ff9100 154px,#ffa500 173px,#ffd700 220px,#ffd500 231px,#fdff02 238px,#c3ff3c 259px,#94ff6b 272px,#97ff68 283px,#a0ff5f 291px,#98ff67 305px,#7eff81 316px,#97ff68 328px,#fffd00 346px,#ffab00 373px,#ffbc00 454px,#ffcf00 470px,#ffcf00 502px)"></i><i style="height:4px;background:linear-gradient(90deg,#ffac00 0px,#ffac00 57px,#ff9800 64px,#ffaa00 86px,#ffab00 92px,#fff300 104px,#fcff03 113px,#fff800 124px,#ffc800 140px,#ffa500 154px,#ffb700 173px,#ffd400 192px,#ffef00 228px,#fffb00 234px,#d8ff27 247px,#b4ff4b 260px,#8dff72 273px,#99ff66 283px,#a2ff5d 291px,#90ff6f 309px,#a5ff5a 317px,#aaff55 326px,#ccff33 336px,#fffc00 346px,#ffab00 376px,#ffc200 460px,#ffcf00 473px,#ffcf00 502px)"></i><i style="height:4px;background:linear-gradient(90deg,#ffa700 0px,#ffac00 58px,#ff9800 65px,#ffb600 90px,#fbff04 101px,#e4ff1b 108px,#deff21 120px,#fffb00 131px,#ffb800 153px,#ffc700 172px,#ffec00 193px,#faff05 223px,#ecff13 235px,#9eff61 264px,#89ff76 274px,#a8ff57 290px,#96ff69 301px,#a5ff5a 306px,#e6ff19 314px,#e6ff19 318px,#d0ff2f 325px,#e3ff1c 338px,#fffb00 346px,#ffae00 377px,#ffc500 463px,#ffcf00 478px,#ffcf00 502px)"></i><i style="height:4px;background:linear-gradient(90deg,#ffa600 0px,#ffaa00 59px,#ff9800 66px,#ffb600 87px,#faff05 98px,#d3ff2c 105px,#c8ff37 120px,#fffa00 137px,#ffc800 153px,#ffd900 173px,#ffff00 194px,#daff25 238px,#8eff71 272px,#b9ff46 289px,#a0ff5f 300px,#b6ff49 304px,#faff05 310px,#ffdf00 315px,#fff000 320px,#f8ff07 324px,#eaff15 330px,#fffa00 347px,#ffbd00 372px,#ffb000 382px,#ffc900 467px,#ffcf00 502px)"></i><i style="height:4px;background:linear-gradient(90deg,#ffa600 0px,#ffa500 60px,#ff9700 66px,#ffb200 85px,#feff01 96px,#ccff33 104px,#bbff44 118px,#dbff24 129px,#fffa00 139px,#ffd300 152px,#ffe700 173px,#fcff03 187px,#d1ff2e 243px,#9fff60 272px,#daff25 285px,#ddff22 291px,#bcff43 297px,#a9ff56 301px,#bcff43 304px,#fffb00 310px,#ffd600 314px,#ffd800 318px,#fdff02 325px,#ecff13 331px,#fffa00 349px,#ffc200 372px,#ffb100 381px,#ffcd00 471px,#ffcf00 502px)"></i><i style="height:4px;background:linear-gradient(90deg,#ffa500 0px,#ffa100 61px,#ff9700 67px,#ffb000 84px,#feff01 95px,#caff35 103px,#b5ff4a 114px,#c4ff3b 125px,#fffc00 140px,#ffdb00 151px,#fff700 175px,#f7ff08 185px,#ccff33 247px,#bdff42 259px,#b1ff4e 272px,#d6ff29 278px,#ffff00 284px,#fff300 289px,#fffe00 292px,#afff50 300px,#afff50 303px,#fdff02 310px,#ffd900 314px,#ffd400 317px,#feff01 325px,#e7ff18 331px,#fff900 352px,#ffc700 372px,#ffb100 380px,#ffcf00 497px,#ffcf00 502px)"></i><i style="height:4px;background:linear-gradient(90deg,#ffa100 0px,#ffa300 61px,#ff9700 68px,#ffae00 83px,#fff000 92px,#feff01 94px,#caff35 102px,#b0ff4f 112px,#bcff43 124px,#f2ff0d 138px,#fff900 142px,#ffe300 150px,#faff05 176px,#deff21 220px,#c7ff38 251px,#c3ff3c 260px,#c6ff39 273px,#fffb00 281px,#ffd400 287px,#ffd900 290px,#feff01 294px,#b3ff4c 300px,#acff53 303px,#d1ff2e 307px,#fffb00 311px,#ffd700 315px,#ffdb00 319px,#ffff00 325px,#e2ff1d 331px,#ecff13 342px,#fff900 355px,#ffcf00 371px,#ffb200 380px,#ffda00 502px)"></i><i style="height:4px;background:linear-gradient(90deg,#ff9f00 0px,#ffa200 62px,#ff9700 69px,#ffb100 83px,#ffff00 93px,#caff35 101px,#aaff55 112px,#c1ff3e 128px,#fffb00 143px,#ffeb00 150px,#faff05 170px,#dbff24 213px,#c7ff38 260px,#d7ff28 273px,#fffd00 279px,#ffd700 285px,#ffdc00 289px,#f9ff06 294px,#afff50 301px,#aeff51 304px,#f0ff0f 310px,#fff600 312px,#ffd700 316px,#ffe000 320px,#ffff00 325px,#dcff23 332px,#ebff14 344px,#fffa00 357px,#ffd600 370px,#ffb200 380px,#ffd100 475px,#fff000 490px,#fbff04 495px,#e1ff1e 502px)"></i><i style="height:4px;background:linear-gradient(90deg,#ff9f00 0px,#ffa100 63px,#ff9600 69px,#ffaf00 82px,#faff05 93px,#cdff32 100px,#a8ff57 113px,#cbff34 132px,#fffb00 144px,#fff300 151px,#f6ff09 166px,#d7ff28 215px,#ccff33 259px,#e5ff1a 273px,#fffd00 278px,#ffe300 284px,#fff500 289px,#f4ff0b 292px,#aaff55 302px,#b1ff4e 305px,#fffd00 312px,#ffdb00 316px,#ffe100 320px,#ffff00 325px,#daff25 332px,#e2ff1d 341px,#fffa00 359px,#ffd400 371px,#ffb100 381px,#ffca00 471px,#ffe000 475px,#fffe00 478px,#cfff30 485px,#b4ff4b 495px,#bcff43 502px)"></i><i style="height:4px;background:linear-gradient(90deg,#ff9f00 0px,#ffa000 64px,#ff9600 70px,#ffb100 82px,#fffe00 92px,#d7ff28 99px,#b2ff4d 113px,#d2ff2d 133px,#fffc00 144px,#fff800 152px,#efff10 170px,#d2ff2d 231px,#d2ff2d 257px,#f3ff0c 274px,#fff700 278px,#ffe100 284px,#fff000 289px,#faff05 292px,#b7ff48 302px,#baff45 306px,#fffc00 313px,#ffdf00 317px,#ffea00 321px,#fbff04 325px,#dbff24 332px,#e7ff18 343px,#fffa00 359px,#ffd400 371px,#ffb100 381px,#ffc300 468px,#ffd400 472px,#fff900 475px,#b6ff49 481px,#a6ff59 485px,#b5ff4a 493px,#d7ff28 502px)"></i><i style="height:4px;background:linear-gradient(90deg,#ff9f00 0px,#ff9c00 65px,#ff9700 71px,#ffb400 82px,#fffd00 92px,#e1ff1e 98px,#c1ff3e 115px,#dcff23 134px,#fffe00 143px,#fffc00 154px,#dbff24 205px,#d6ff29 253px,#fffc00 275px,#ffda00 284px,#ffe200 290px,#feff01 295px,#cdff32 303px,#cdff32 308px,#fffd00 314px,#ffe800 317px,#ffef00 321px,#f8ff07 325px,#dfff20 333px,#fffb00 358px,#ffcf00 372px,#ffb000 382px,#ffb300 431px,#ffc200 468px,#ffe300 472px,#fcff03 474px,#c2ff3d 478px,#b3ff4c 482px,#c6ff39 489px,#ddff22 498px,#dfff20 502px)"></i><i style="height:4px;background:linear-gradient(90deg,#ff9f00 0px,#ff9c00 65px,#ff9500 71px,#ffb200 81px,#fbff04 93px,#e7ff18 99px,#d1ff2e 116px,#e6ff19 135px,#ffff00 143px,#f9ff06 160px,#d9ff26 211px,#dbff24 237px,#e2ff1d 254px,#fffa00 272px,#ffd500 284px,#ffda00 292px,#feff01 299px,#e2ff1d 306px,#e6ff19 311px,#fffd00 315px,#ffee00 319px,#fbff04 324px,#e4ff1b 335px,#fffa00 358px,#ffb000 382px,#ffad00 429px,#ffbc00 466px,#ffde00 470px,#fffb00 472px,#bbff44 477px,#b7ff48 480px,#d9ff26 487px,#dfff20 502px)"></i><i style="height:4px;background:linear-gradient(90deg,#ff9f00 0px,#ff9b00 66px,#ff9600 72px,#ffbc00 82px,#feff01 93px,#edff12 101px,#dfff20 117px,#efff10 136px,#fdff02 146px,#ebff14 176px,#d9ff26 230px,#ebff14 253px,#fffa00 265px,#ffd100 285px,#ffd500 295px,#fffe00 306px,#faff05 313px,#fff500 320px,#f7ff08 327px,#ecff13 339px,#fffa00 357px,#ffb100 382px,#ffa900 435px,#ffb400 463px,#ffcb00 467px,#fbff04 471px,#bfff40 475px,#aeff51 478px,#dcff23 486px,#dfff20 502px)"></i><i style="height:4px;background:linear-gradient(90deg,#ff9500 0px,#ff9f00 61px,#ff9700 73px,#ffcc00 84px,#fdff02 94px,#ebff14 119px,#f9ff06 157px,#daff25 220px,#eeff11 250px,#fffa00 260px,#ffd200 285px,#ffd300 299px,#fff200 316px,#f9ff06 330px,#f2ff0d 341px,#fff900 356px,#ffb000 383px,#ffa700 446px,#ffb100 460px,#ffd300 466px,#fcff03 470px,#baff45 475px,#b2ff4d 478px,#e0ff1f 486px,#e3ff1c 502px)"></i><i style="height:4px;background:linear-gradient(90deg,#ff8800 0px,#ff9f00 62px,#ff9600 73px,#ffe500 88px,#ffff00 95px,#f1ff0e 121px,#f4ff0b 165px,#deff21 225px,#f3ff0c 251px,#fffd00 261px,#ffe400 286px,#ffd700 298px,#ffd200 305px,#fdff02 332px,#fdff02 342px,#ffeb00 357px,#ffb200 379px,#ffa300 449px,#ffb300 457px,#ffef00 466px,#feff01 468px,#bdff42 475px,#bdff42 478px,#e9ff16 486px,#edff12 502px)"></i><i style="height:4px;background:linear-gradient(90deg,#ff8600 0px,#ff9300 48px,#ff9900 68px,#ff9700 74px,#fff600 92px,#faff05 102px,#f5ff0a 128px,#f3ff0c 169px,#e3ff1c 225px,#eaff15 245px,#f6ff09 259px,#eaff15 266px,#f6ff09 280px,#fffb00 294px,#ffd300 302px,#ffdd00 312px,#fffb00 337px,#ffd700 358px,#ffb100 375px,#ffa400 448px,#ffbf00 455px,#faff05 465px,#bfff40 473px,#c0ff3f 477px,#ecff13 486px,#efff10 502px)"></i><i style="height:4px;background:linear-gradient(90deg,#ff8600 0px,#ff8e00 71px,#ffa400 77px,#fff000 91px,#fcff03 102px,#f7ff08 134px,#f2ff0d 173px,#e8ff17 223px,#efff10 242px,#ebff14 251px,#ecff13 257px,#ceff31 266px,#d2ff2d 280px,#daff25 290px,#ffff00 296px,#ffda00 302px,#ffda00 311px,#fff200 336px,#ffb000 370px,#ffa300 442px,#ffbd00 450px,#ffff00 459px,#b6ff49 472px,#c1ff3e 477px,#e6ff19 486px,#efff10 502px)"></i><i style="height:4px;background:linear-gradient(90deg,#ff8600 0px,#ff8c00 72px,#ffea00 90px,#fcff03 104px,#eeff11 200px,#eeff11 224px,#f3ff0c 240px,#e0ff1f 256px,#b3ff4c 266px,#b1ff4e 286px,#d2ff2d 292px,#ffff00 297px,#ffe200 302px,#ffdd00 313px,#ffe700 336px,#ffb000 363px,#ffa400 437px,#ffc200 446px,#fffe00 454px,#c6ff39 463px,#aeff51 470px,#c2ff3d 477px,#d4ff2b 484px,#edff12 502px)"></i><i style="height:4px;background:linear-gradient(90deg,#ff8600 0px,#ff8b00 72px,#ffe500 89px,#fdff02 105px,#eeff11 207px,#f6ff09 238px,#d3ff2c 255px,#98ff67 267px,#8dff72 283px,#a5ff5a 288px,#ffff00 298px,#ffe800 303px,#ffe100 320px,#ffdc00 336px,#ffb200 355px,#ffa400 432px,#ffc100 441px,#fdff02 450px,#b2ff4d 460px,#a0ff5f 467px,#d0ff2f 481px,#dbff24 499px,#dfff20 502px)"></i><i style="height:4px;background:linear-gradient(90deg,#ff8600 0px,#ff8b00 72px,#ffe200 88px,#fdff02 104px,#edff12 208px,#f2ff0d 236px,#ccff33 253px,#83ff7c 267px,#75ff8a 282px,#8fff70 287px,#fdff02 299px,#ffea00 306px,#ffd400 335px,#ffb200 350px,#ffa400 428px,#ffc700 438px,#fbff04 446px,#9cff63 458px,#8dff72 463px,#a3ff5c 470px,#ceff31 479px,#d1ff2e 502px)"></i><i style="height:4px;background:linear-gradient(90deg,#ff8600 0px,#ff8b00 72px,#ffe400 87px,#fbff04 101px,#f0ff0f 160px,#e5ff1a 209px,#e7ff18 234px,#b7ff48 254px,#77ff88 267px,#6cff93 282px,#8cff73 288px,#feff01 301px,#ffeb00 310px,#ffd900 324px,#ffca00 335px,#ffb300 349px,#ffa400 425px,#ffce00 436px,#fffe00 442px,#92ff6d 455px,#7dff82 460px,#91ff6e 467px,#ccff33 478px,#cfff30 502px)"></i><i style="height:4px;background:linear-gradient(90deg,#ff8600 0px,#ff8b00 67px,#ffa000 74px,#ffed00 88px,#fbff04 97px,#edff12 122px,#e0ff1f 203px,#dcff23 226px,#d5ff2a 235px,#99ff66 257px,#6dff92 267px,#64ff9b 281px,#82ff7d 288px,#f8ff07 302px,#fff200 308px,#ffd400 323px,#ffb500 347px,#ffa400 424px,#ffd100 435px,#fffc00 440px,#7eff81 455px,#6fff90 459px,#8cff73 467px,#c9ff36 477px,#cfff30 502px)"></i><i style="height:4px;background:linear-gradient(90deg,#ff8600 0px,#ff8c00 55px,#ffc800 77px,#feff01 92px,#e9ff16 113px,#d8ff27 202px,#caff35 233px,#80ff7f 259px,#65ff9a 267px,#5dffa2 280px,#87ff78 290px,#f7ff08 304px,#fff800 308px,#ffcf00 323px,#ffb600 347px,#ffae00 375px,#ffa500 424px,#ffd500 435px,#fffb00 439px,#74ff8b 454px,#63ff9c 458px,#7bff84 465px,#bfff40 475px,#cdff32 488px,#cfff30 502px)"></i><i style="height:4px;background:linear-gradient(90deg,#ff8600 0px,#ff8c00 42px,#ffd100 67px,#ffda00 81px,#fcff03 91px,#e4ff1b 111px,#d1ff2e 200px,#bdff42 232px,#7cff83 255px,#5bffa4 268px,#58ffa7 280px,#8dff72 292px,#fbff04 307px,#ffca00 323px,#ffb900 351px,#ffb200 378px,#ffa200 422px,#ffc600 432px,#fcff03 439px,#65ff9a 454px,#58ffa7 458px,#7bff84 466px,#b8ff47 474px,#c5ff3a 490px,#caff35 502px)"></i><i style="height:4px;background:linear-gradient(90deg,#ff8600 0px,#ff8d00 30px,#ffcf00 53px,#ffdd00 81px,#fdff02 90px,#e6ff19 103px,#d9ff26 135px,#c9ff36 199px,#b1ff4e 232px,#6eff91 255px,#53ffac 275px,#65ff9a 283px,#a5ff5a 296px,#fcff03 308px,#ffc800 323px,#ffbb00 353px,#ffb500 382px,#ffa200 417px,#ffab00 425px,#ffd800 434px,#ffff00 438px,#62ff9d 453px,#51ffae 457px,#6dff92 464px,#b9ff46 474px,#c1ff3e 502px)"></i><i style="height:4px;background:linear-gradient(90deg,#ff8600 0px,#ff8f00 18px,#ffcf00 40px,#ffdb00 81px,#fcff03 91px,#d2ff2d 116px,#cbff34 150px,#c5ff3a 193px,#a8ff57 234px,#6dff92 255px,#61ff9e 277px,#b4ff4b 297px,#ffff00 308px,#ffca00 323px,#ffbd00 351px,#ffb800 387px,#ffa300 416px,#ffad00 424px,#ffe400 434px,#fdff02 437px,#78ff87 450px,#54ffab 455px,#5effa1 460px,#8dff72 467px,#b9ff46 473px,#bfff40 497px,#bfff40 502px)"></i><i style="height:4px;background:linear-gradient(90deg,#ff8900 0px,#ffa400 13px,#ffcd00 26px,#ffd600 52px,#ffdc00 82px,#faff05 93px,#d9ff26 109px,#c7ff38 117px,#b8ff47 143px,#c3ff3c 184px,#a1ff5e 237px,#72ff8d 255px,#73ff8c 276px,#c9ff36 298px,#fdff02 306px,#ffcc00 323px,#ffbf00 348px,#ffbb00 392px,#ffa400 418px,#ffb300 424px,#fff200 434px,#f9ff06 436px,#8cff73 447px,#59ffa6 454px,#5dffa2 458px,#91ff6e 466px,#baff45 472px,#bfff40 502px)"></i><i style="height:4px;background:linear-gradient(90deg,#ffaa00 0px,#ffd100 16px,#ffdc00 79px,#fff700 91px,#f1ff0e 99px,#d7ff28 109px,#bcff43 117px,#a6ff59 139px,#bdff42 182px,#a0ff5f 234px,#8bff74 245px,#7cff83 256px,#86ff79 275px,#d8ff27 298px,#fffe00 305px,#ffce00 323px,#ffc100 346px,#ffbe00 397px,#ffa700 419px,#ffbf00 425px,#fcff03 434px,#8aff75 446px,#5cffa3 453px,#61ff9e 457px,#96ff69 465px,#bbff44 471px,#bfff40 502px)"></i><i style="height:4px;background:linear-gradient(90deg,#ffd000 0px,#ffdc00 71px,#fff200 91px,#f7ff08 98px,#d5ff2a 109px,#afff50 119px,#96ff69 138px,#b6ff49 182px,#99ff66 232px,#8dff72 245px,#88ff77 256px,#99ff66 274px,#f1ff0e 300px,#fffc00 304px,#ffcd00 325px,#ffc300 345px,#ffc000 402px,#ffae00 420px,#ffce00 426px,#fffc00 432px,#7aff85 447px,#5fffa0 452px,#6aff95 457px,#baff45 469px,#bfff40 502px)"></i><i style="height:4px;background:linear-gradient(90deg,#ffd500 0px,#ffdb00 63px,#ffe900 82px,#fff600 94px,#f4ff0b 101px,#9fff60 122px,#88ff77 138px,#b0ff4f 182px,#91ff6e 233px,#93ff6c 257px,#a5ff5a 272px,#fffa00 303px,#ffcd00 326px,#ffc500 349px,#ffc300 407px,#ffb900 420px,#ffe000 427px,#fffe00 431px,#74ff8b 447px,#62ff9d 452px,#81ff7e 459px,#b7ff48 467px,#bfff40 480px,#bfff40 502px)"></i><i style="height:4px;background:linear-gradient(90deg,#ffd600 0px,#ffdc00 56px,#ffe900 76px,#fff300 93px,#f9ff06 100px,#92ff6d 124px,#80ff7f 138px,#abff54 181px,#88ff77 235px,#9bff64 264px,#beff41 279px,#ffff00 300px,#ffcc00 327px,#ffca00 394px,#ffc400 420px,#fdff02 430px,#a0ff5f 441px,#6aff95 448px,#68ff97 452px,#a2ff5d 462px,#bcff43 467px,#bfff40 502px)"></i><i style="height:4px;background:linear-gradient(90deg,#ffd600 0px,#ffdc00 48px,#ffe900 68px,#fff000 90px,#f9ff06 100px,#acff53 117px,#89ff76 125px,#7bff84 138px,#a8ff57 180px,#7fff80 238px,#8dff72 251px,#a8ff57 273px,#fbff04 297px,#ffd700 319px,#ffc900 337px,#ffcd00 419px,#ffff00 428px,#a5ff5a 440px,#6eff91 447px,#6eff91 451px,#bbff44 465px,#bfff40 502px)"></i><i style="height:4px;background:linear-gradient(90deg,#ffd600 0px,#ffdc00 40px,#ffe900 60px,#ffef00 88px,#f9ff06 100px,#b1ff4e 116px,#82ff7d 125px,#78ff87 138px,#a5ff5a 177px,#85ff7a 219px,#77ff88 243px,#96ff69 263px,#b0ff4f 277px,#f9ff06 295px,#ffed00 310px,#ffcb00 329px,#ffd300 418px,#fcff03 427px,#a4ff5b 440px,#76ff89 446px,#75ff8a 450px,#baff45 463px,#bfff40 502px)"></i><i style="height:4px;background:linear-gradient(90deg,#ffd600 0px,#ffdc00 33px,#ffe900 51px,#fff100 81px,#f9ff06 100px,#bcff43 114px,#7dff82 125px,#74ff8b 138px,#9fff60 173px,#9bff64 192px,#6eff91 241px,#7eff81 251px,#98ff67 267px,#b0ff4f 278px,#fbff04 295px,#ffe300 315px,#ffcd00 330px,#ffd800 418px,#ffff00 426px,#b2ff4d 439px,#83ff7c 446px,#89ff76 451px,#bdff42 461px,#bfff40 502px)"></i><i style="height:4px;background:linear-gradient(90deg,#ffd600 0px,#ffdd00 26px,#ffe900 47px,#fff200 72px,#feff01 93px,#f2ff0d 102px,#bbff44 114px,#79ff86 125px,#72ff8d 140px,#98ff67 168px,#9bff64 186px,#7aff85 218px,#67ff98 245px,#92ff6d 265px,#a7ff58 277px,#fcff03 295px,#ffe000 317px,#ffcf00 330px,#ffdc00 418px,#fdff02 426px,#c2ff3d 438px,#98ff67 445px,#97ff68 450px,#cbff34 460px,#bfff40 494px,#bfff40 502px)"></i><i style="height:4px;background:linear-gradient(90deg,#ffd600 0px,#ffe100 21px,#fff200 63px,#ffff00 84px,#f3ff0c 101px,#b9ff46 114px,#78ff87 125px,#74ff8b 141px,#90ff6f 162px,#97ff68 182px,#74ff8b 216px,#5dffa2 247px,#80ff7f 263px,#92ff6d 275px,#feff01 296px,#ffd200 327px,#ffe000 418px,#fbff04 426px,#a9ff56 446px,#aeff51 451px,#d9ff26 460px,#d0ff2f 473px,#bfff40 493px,#bfff40 502px)"></i><i style="height:4px;background:linear-gradient(90deg,#ffd600 0px,#ffe900 29px,#fff200 53px,#ffff00 74px,#f9ff06 96px,#daff25 107px,#98ff67 119px,#78ff87 126px,#7aff85 143px,#8dff72 158px,#90ff6f 179px,#4dffb2 246px,#65ff9a 261px,#6fff90 272px,#cfff30 290px,#fdff02 296px,#ffd500 323px,#ffe300 418px,#fbff04 426px,#bbff44 448px,#deff21 460px,#d6ff29 481px,#c0ff3f 500px,#c0ff3f 502px)"></i><i style="height:4px;background:linear-gradient(90deg,#ffda00 0px,#ffe900 20px,#fff300 44px,#ffff00 66px,#f5ff0a 95px,#dbff24 106px,#81ff7e 124px,#78ff87 135px,#8cff73 157px,#88ff77 178px,#70ff8f 198px,#40ffbf 249px,#4cffb3 259px,#4affb5 269px,#6fff90 277px,#bbff44 289px,#fbff04 296px,#ffe500 309px,#ffd800 323px,#ffe800 420px,#f9ff06 428px,#d1ff2e 446px,#d7ff28 452px,#dfff20 464px,#d6ff29 492px,#c9ff36 502px)"></i><i style="height:4px;background:linear-gradient(90deg,#ffe500 0px,#fff200 34px,#ffff00 55px,#ecff13 87px,#dfff20 104px,#86ff79 124px,#7cff83 135px,#8cff73 155px,#80ff7f 177px,#64ff9b 195px,#34ffcb 244px,#34ffcb 253px,#2bffd4 268px,#53ffac 276px,#9eff61 287px,#f9ff06 296px,#fff100 300px,#ffdb00 317px,#ffed00 423px,#f8ff07 431px,#e4ff1b 449px,#e8ff17 457px,#dfff20 477px,#dbff24 502px)"></i><i style="height:4px;background:linear-gradient(90deg,#ffe900 0px,#fff300 25px,#fdff02 46px,#e0ff1f 92px,#dcff23 104px,#8bff74 124px,#7fff80 134px,#8bff74 154px,#78ff87 176px,#57ffa8 195px,#2dffd2 241px,#0efff1 267px,#30ffcf 274px,#81ff7e 285px,#f5ff0a 296px,#fff700 299px,#ffe000 309px,#fff000 425px,#faff05 435px,#f7ff08 450px,#f7ff08 458px,#e0ff1f 472px,#dfff20 502px)"></i><i style="height:4px;background:linear-gradient(90deg,#ffe900 0px,#faff05 33px,#e0ff1f 72px,#daff25 104px,#91ff6e 123px,#82ff7d 133px,#8aff75 152px,#72ff8d 175px,#4effb1 195px,#27ffd8 238px,#00fbff 261px,#00f8ff 267px,#06fff9 270px,#6bff94 284px,#eaff15 296px,#fffd00 300px,#ffed00 309px,#fffb00 428px,#f9ff06 464px,#e0ff1f 479px,#dfff20 502px)"></i><i style="height:4px;background:linear-gradient(90deg,#ffee00 0px,#faff05 16px,#e0ff1f 50px,#daff25 104px,#91ff6e 123px,#82ff7d 134px,#87ff78 151px,#6cff93 175px,#4bffb4 194px,#23ffdc 235px,#00faff 255px,#00e8ff 265px,#04fffb 271px,#7aff85 287px,#d5ff2a 296px,#efff10 303px,#eeff11 393px,#f9ff06 420px,#fbff04 470px,#e0ff1f 486px,#dfff20 502px)"></i><i style="height:4px;background:linear-gradient(90deg,#fbff04 0px,#e1ff1e 25px,#d9ff26 104px,#8eff71 124px,#83ff7c 136px,#81ff7e 153px,#63ff9c 177px,#49ffb6 195px,#1fffe0 233px,#00faff 250px,#00daff 263px,#00f0ff 269px,#04fffb 272px,#52ffad 283px,#7cff83 289px,#bcff43 296px,#cdff32 303px,#cdff32 368px,#edff12 407px,#f2ff0d 422px,#fffa00 431px,#faff05 478px,#e0ff1f 494px,#dfff20 502px)"></i><i style="height:4px;background:linear-gradient(90deg,#e4ff1b 0px,#d7ff28 96px,#c9ff36 109px,#8dff72 124px,#83ff7c 138px,#6cff93 169px,#49ffb6 193px,#1effe1 230px,#00fbff 244px,#00deff 255px,#00cbff 261px,#00e4ff 268px,#00ffff 272px,#4cffb3 282px,#6cff93 289px,#a0ff5f 296px,#a8ff57 307px,#b0ff4f 348px,#e1ff1e 395px,#e7ff18 411px,#fffb00 421px,#fff200 431px,#ffff00 442px,#f9ff06 486px,#e0ff1f 501px,#e0ff1f 502px)"></i><i style="height:4px;background:linear-gradient(90deg,#dfff20 0px,#d8ff27 80px,#c9ff36 109px,#8dff72 124px,#66ff99 169px,#46ffb9 195px,#18ffe7 229px,#00f9ff 240px,#00d7ff 252px,#00bdff 258px,#00d4ff 266px,#00fdff 272px,#4cffb3 282px,#6cff93 291px,#84ff7b 297px,#99ff66 333px,#d5ff2a 383px,#dbff24 400px,#fffa00 413px,#ffef00 428px,#ffff00 442px,#f9ff06 493px,#e7ff18 502px)"></i><i style="height:4px;background:linear-gradient(90deg,#dfff20 0px,#d8ff27 64px,#c9ff36 109px,#8bff74 124px,#5cffa3 171px,#24ffdb 220px,#00faff 235px,#00cbff 249px,#00acff 256px,#00c4ff 264px,#00feff 272px,#48ffb7 281px,#70ff8f 299px,#c9ff36 372px,#cfff30 390px,#fffd00 403px,#ffef00 416px,#fff600 433px,#ffff00 445px,#f9ff06 501px,#f8ff07 502px)"></i><i style="height:4px;background:linear-gradient(90deg,#dfff20 0px,#d6ff29 52px,#caff35 109px,#87ff78 122px,#70ff8f 143px,#50ffaf 173px,#22ffdd 217px,#03fffc 228px,#00afff 249px,#009dff 256px,#00b2ff 262px,#05fffa 272px,#4dffb2 281px,#77ff88 306px,#bdff42 361px,#c5ff3a 380px,#fffe00 394px,#ffef00 405px,#fff300 432px,#ffff00 442px,#ffff00 502px)"></i><i style="height:4px;background:linear-gradient(90deg,#dfff20 0px,#d2ff2d 43px,#cbff34 109px,#acff53 114px,#80ff7f 121px,#63ff9c 139px,#54ffab 163px,#2effd1 201px,#0dfff2 223px,#00f9ff 228px,#00acff 245px,#0097ff 255px,#00a5ff 260px,#00fdff 270px,#4effb1 280px,#68ff97 293px,#b0ff4f 350px,#bbff44 370px,#f4ff0b 382px,#fff800 387px,#ffef00 408px,#fff300 432px,#ffff00 442px,#ffff00 502px)"></i><i style="height:4px;background:linear-gradient(90deg,#dfff20 0px,#cfff30 56px,#caff35 106px,#adff52 111px,#88ff77 117px,#68ff97 126px,#55ffaa 140px,#4effb1 160px,#25ffda 201px,#07fff8 222px,#00f1ff 228px,#00b9ff 238px,#0097ff 244px,#0096ff 253px,#00b3ff 260px,#02fffd 269px,#54ffab 280px,#89ff76 314px,#a7ff58 348px,#b1ff4e 360px,#fffd00 376px,#ffef00 388px,#fff300 432px,#ffff00 442px,#ffff00 502px)"></i><i style="height:4px;background:linear-gradient(90deg,#daff25 0px,#cfff30 45px,#caff35 100px,#adff52 105px,#6fff90 111px,#68ff97 114px,#75ff8a 119px,#50ffaf 131px,#46ffb9 142px,#44ffbb 160px,#04fffb 220px,#00dcff 231px,#00a8ff 238px,#0078ff 244px,#0072ff 248px,#008eff 253px,#00fdff 267px,#5affa5 280px,#93ff6c 324px,#a0ff5f 349px,#c4ff3b 356px,#feff01 364px,#ffef00 378px,#fff300 432px,#ffff00 442px,#ffff00 502px)"></i><i style="height:4px;background:linear-gradient(90deg,#d1ff2e 0px,#cbff34 94px,#b0ff4f 99px,#66ff99 106px,#53ffac 111px,#5dffa2 116px,#6bff94 120px,#43ffbc 131px,#39ffc6 142px,#39ffc6 161px,#00faff 220px,#00ccff 232px,#0058ff 245px,#0050ff 249px,#006eff 253px,#00f8ff 265px,#12ffed 268px,#5bffa4 279px,#8dff72 322px,#90ff6f 347px,#adff52 350px,#f5ff0a 355px,#fff700 357px,#ffe400 362px,#ffef00 379px,#fff300 432px,#ffff00 442px,#ffff00 502px)"></i><i style="height:4px;background:linear-gradient(90deg,#cfff30 0px,#cbff34 88px,#b1ff4e 93px,#61ff9e 101px,#50ffaf 107px,#56ffa9 117px,#64ff9b 122px,#3cffc3 132px,#31ffce 143px,#2fffd0 161px,#0afff5 197px,#00f6ff 217px,#00ceff 230px,#009aff 236px,#004cff 244px,#003aff 248px,#004cff 252px,#0087ff 257px,#00f4ff 264px,#01fffe 265px,#4effb1 275px,#63ff9c 282px,#85ff7a 321px,#82ff7d 337px,#6eff91 347px,#80ff7f 350px,#f8ff07 358px,#ffed00 361px,#ffe700 366px,#ffef00 381px,#fff300 432px,#ffff00 442px,#ffff00 502px)"></i><i style="height:4px;background:linear-gradient(90deg,#cfff30 0px,#cbff34 82px,#b1ff4e 87px,#62ff9d 95px,#51ffae 101px,#55ffaa 119px,#5effa1 124px,#38ffc7 134px,#2dffd2 145px,#29ffd6 159px,#05fffa 187px,#00e8ff 218px,#00caff 229px,#0097ff 235px,#004bff 243px,#003fff 247px,#005bff 252px,#0093ff 257px,#00f4ff 263px,#02fffd 264px,#49ffb6 273px,#60ff9f 280px,#7cff83 316px,#77ff88 330px,#60ff9f 346px,#6aff95 353px,#8cff73 357px,#fbff04 365px,#ffef00 371px,#fff300 432px,#ffff00 442px,#ffff00 502px)"></i><i style="height:4px;background:linear-gradient(90deg,#cfff30 0px,#cbff34 76px,#b1ff4e 81px,#62ff9d 89px,#51ffae 95px,#55ffaa 122px,#55ffaa 127px,#31ffce 138px,#20ffdf 159px,#00faff 179px,#00d5ff 223px,#00baff 230px,#005aff 241px,#004fff 245px,#006bff 250px,#00aeff 257px,#00f8ff 262px,#19ffe6 265px,#53ffac 274px,#6dff92 297px,#72ff8d 320px,#60ff9f 339px,#65ff9a 358px,#7eff81 362px,#afff50 365px,#eeff11 368px,#fcff03 369px,#fff000 373px,#fff300 432px,#ffff00 442px,#ffff00 502px)"></i><i style="height:4px;background:linear-gradient(90deg,#cfff30 0px,#cbff34 70px,#b1ff4e 75px,#62ff9d 83px,#51ffae 89px,#4cffb3 124px,#4effb1 129px,#28ffd7 144px,#15ffea 160px,#00fbff 173px,#00e7ff 184px,#00ceff 219px,#00bcff 228px,#0072ff 239px,#0068ff 244px,#0082ff 249px,#00d7ff 258px,#00fdff 261px,#3fffc0 269px,#58ffa7 276px,#6cff93 311px,#60ff9f 336px,#64ff9b 362px,#75ff8a 364px,#9cff63 366px,#e8ff17 369px,#f9ff06 370px,#fff000 374px,#fff300 432px,#ffff00 442px,#ffff00 502px)"></i><i style="height:4px;background:linear-gradient(90deg,#cfff30 0px,#cbff34 64px,#b1ff4e 69px,#62ff9d 77px,#51ffae 83px,#47ffb8 113px,#44ffbb 125px,#49ffb6 131px,#1fffe0 149px,#00f9ff 168px,#00d9ff 182px,#00cbff 208px,#00b3ff 228px,#0089ff 239px,#0088ff 245px,#00bbff 252px,#00fdff 259px,#41ffbe 268px,#56ffa9 276px,#63ff9c 308px,#62ff9d 362px,#78ff87 365px,#bfff40 368px,#eeff11 370px,#feff01 371px,#ffef00 375px,#fff300 432px,#ffff00 442px,#ffff00 502px)"></i><i style="height:4px;background:linear-gradient(90deg,#cfff30 0px,#cbff34 58px,#b1ff4e 63px,#62ff9d 71px,#51ffae 77px,#47ffb8 105px,#42ffbd 126px,#44ffbb 133px,#00ffff 157px,#00ccff 180px,#00c2ff 203px,#00a8ff 234px,#009fff 243px,#00bbff 248px,#01fffe 256px,#3dffc2 265px,#51ffae 274px,#58ffa7 294px,#62ff9d 363px,#6fff90 365px,#93ff6c 367px,#e1ff1e 370px,#fffc00 372px,#ffef00 376px,#fff300 432px,#ffff00 442px,#ffff00 502px)"></i><i style="height:4px;background:linear-gradient(90deg,#cfff30 0px,#cbff34 52px,#b1ff4e 57px,#62ff9d 65px,#51ffae 71px,#47ffb8 98px,#41ffbe 129px,#3bffc4 136px,#19ffe6 145px,#00f9ff 150px,#00beff 177px,#00bfff 194px,#00b3ff 210px,#00b2ff 235px,#00b2ff 241px,#00d9ff 247px,#05fffa 252px,#37ffc8 260px,#4fffb0 273px,#51ffae 293px,#60ff9f 343px,#64ff9b 364px,#75ff8a 366px,#9eff61 368px,#ebff14 371px,#fbff04 372px,#ffef00 376px,#fff300 432px,#ffff00 442px,#ffff00 502px)"></i><i style="height:4px;background:linear-gradient(90deg,#cfff30 0px,#cbff34 46px,#b1ff4e 51px,#62ff9d 59px,#51ffae 65px,#45ffba 92px,#38ffc7 137px,#16ffe9 144px,#00fbff 147px,#00d7ff 153px,#00aeff 174px,#00baff 189px,#00a6ff 206px,#00b3ff 222px,#00c5ff 239px,#01fffe 247px,#33ffcc 255px,#50ffaf 275px,#56ffa9 321px,#60ff9f 354px,#66ff99 365px,#7bff84 367px,#f1ff0e 372px,#fffe00 373px,#fff000 376px,#fff300 432px,#ffff00 442px,#ffff00 502px)"></i><i style="height:4px;background:linear-gradient(90deg,#cfff30 0px,#caff35 41px,#a9ff56 46px,#62ff9d 53px,#51ffae 59px,#44ffbb 85px,#34ffcb 134px,#2fffd0 139px,#01fffe 145px,#00c7ff 152px,#00a1ff 169px,#00b2ff 188px,#009dff 204px,#00d0ff 235px,#05fffa 243px,#2fffd0 250px,#3cffc3 259px,#43ffbc 265px,#50ffaf 273px,#56ffa9 330px,#60ff9f 359px,#68ff97 366px,#81ff7e 368px,#e4ff1b 372px,#f7ff08 373px,#fff400 375px,#fff200 431px,#ffff00 442px,#ffff00 502px)"></i><i style="height:4px;background:linear-gradient(90deg,#cfff30 0px,#caff35 35px,#adff52 40px,#64ff9b 47px,#52ffad 52px,#43ffbc 78px,#31ffce 134px,#28ffd7 140px,#00fdff 145px,#00c2ff 152px,#00a5ff 163px,#00a5ff 172px,#00b8ff 186px,#00a4ff 202px,#00dbff 231px,#05fffa 238px,#2fffd0 246px,#35ffca 257px,#34ffcb 263px,#4fffb0 270px,#56ffa9 340px,#65ff9a 366px,#78ff87 368px,#beff41 371px,#eeff11 373px,#fdff02 374px,#ffef00 378px,#fff300 432px,#ffff00 442px,#ffff00 502px)"></i><i style="height:4px;background:linear-gradient(90deg,#cfff30 0px,#caff35 29px,#adff52 34px,#66ff99 41px,#51ffae 47px,#30ffcf 121px,#2cffd3 139px,#0efff1 144px,#00f3ff 147px,#00c6ff 154px,#00b2ff 165px,#00ccff 185px,#00bdff 201px,#00eeff 228px,#07fff8 233px,#30ffcf 244px,#36ffc9 264px,#4fffb0 272px,#56ffa9 349px,#67ff98 367px,#7dff82 369px,#f4ff0b 374px,#fffd00 375px,#ffef00 379px,#fff300 432px,#ffff00 442px,#ffff00 502px)"></i><i style="height:4px;background:linear-gradient(90deg,#cfff30 0px,#caff35 23px,#adff52 28px,#66ff99 35px,#51ffae 41px,#30ffcf 107px,#25ffda 139px,#0efff1 145px,#00f7ff 148px,#00ccff 157px,#00c8ff 165px,#00e1ff 183px,#00dbff 201px,#03fffc 225px,#14ffeb 231px,#03fffc 237px,#2effd1 244px,#35ffca 266px,#4fffb0 275px,#56ffa9 359px,#61ff9e 367px,#71ff8e 369px,#98ff67 371px,#e5ff1a 374px,#f7ff08 375px,#fff400 377px,#fff200 431px,#ffff00 442px,#ffff00 502px)"></i><i style="height:4px;background:linear-gradient(90deg,#cfff30 0px,#caff35 17px,#adff52 22px,#66ff99 29px,#51ffae 35px,#30ffcf 94px,#26ffd9 127px,#1affe5 144px,#00fcff 150px,#00d9ff 158px,#00e2ff 167px,#00f3ff 181px,#00f8ff 201px,#0dfff2 218px,#1cffe3 230px,#00fbff 236px,#05fffa 239px,#29ffd6 243px,#30ffcf 258px,#36ffc9 269px,#4fffb0 277px,#56ffa9 367px,#6aff95 370px,#92ff6d 372px,#e1ff1e 375px,#fffd00 377px,#ffef00 381px,#fff300 432px,#ffff00 442px,#ffff00 502px)"></i><i style="height:4px;background:linear-gradient(90deg,#cfff30 0px,#c7ff38 12px,#a3ff5c 17px,#66ff99 23px,#51ffae 29px,#30ffcf 80px,#26ffd9 116px,#1affe5 147px,#00f9ff 152px,#00e1ff 157px,#00e7ff 165px,#00fcff 173px,#05fffa 198px,#20ffdf 227px,#1affe5 239px,#2fffd0 246px,#34ffcb 271px,#4fffb0 280px,#54ffab 369px,#62ff9d 371px,#86ff79 373px,#edff12 377px,#fcff03 378px,#fff000 382px,#fff300 432px,#ffff00 442px,#ffff00 502px)"></i><i style="height:4px;background:linear-gradient(90deg,#cfff30 0px,#c2ff3d 7px,#98ff67 12px,#5fffa0 18px,#50ffaf 25px,#30ffcf 67px,#27ffd8 103px,#1bffe4 148px,#00faff 152px,#00e1ff 156px,#00e4ff 164px,#00feff 171px,#04fffb 197px,#10ffef 208px,#20ffdf 224px,#27ffd8 242px,#30ffcf 256px,#35ffca 274px,#4fffb0 283px,#52ffad 370px,#67ff98 373px,#91ff6e 375px,#e1ff1e 378px,#fffd00 380px,#ffef00 384px,#fff300 432px,#ffff00 442px,#ffff00 502px)"></i><i style="height:4px;background:linear-gradient(90deg,#c5ff3a 0px,#a3ff5c 5px,#66ff99 11px,#51ffae 17px,#31ffce 52px,#27ffd8 91px,#1bffe4 148px,#00faff 152px,#00e1ff 156px,#00e4ff 164px,#00feff 171px,#04fffb 197px,#10ffef 207px,#20ffdf 225px,#26ffd9 244px,#30ffcf 257px,#36ffc9 277px,#4fffb0 285px,#53ffac 372px,#60ff9f 374px,#82ff7d 376px,#e9ff16 380px,#faff05 381px,#fff000 385px,#fff300 432px,#ffff00 442px,#ffff00 502px)"></i><i style="height:4px;background:linear-gradient(90deg,#8dff72 0px,#5affa5 7px,#32ffcd 36px,#27ffd8 80px,#1bffe4 148px,#00faff 152px,#00e1ff 156px,#00e4ff 164px,#00feff 171px,#04fffb 197px,#10ffef 207px,#20ffdf 225px,#27ffd8 247px,#30ffcf 262px,#34ffcb 279px,#4fffb0 288px,#54ffab 374px,#65ff9a 376px,#8cff73 378px,#f1ff0e 382px,#ffff00 383px,#ffef00 387px,#fff300 432px,#ffff00 442px,#ffff00 502px)"></i><i style="height:4px;background:linear-gradient(90deg,#56ffa9 0px,#31ffce 26px,#27ffd8 68px,#20ffdf 132px,#1bffe4 148px,#00faff 152px,#00e1ff 156px,#00e4ff 164px,#00feff 171px,#04fffb 197px,#10ffef 207px,#20ffdf 225px,#25ffda 249px,#30ffcf 262px,#35ffca 282px,#4fffb0 291px,#52ffad 375px,#6bff94 378px,#b2ff4d 381px,#e5ff1a 383px,#fffb00 385px,#ffef00 389px,#fff300 432px,#ffff00 442px,#ffff00 502px)"></i><i style="height:4px;background:linear-gradient(90deg,#46ffb9 0px,#30ffcf 19px,#27ffd8 57px,#20ffdf 121px,#1bffe4 148px,#00faff 152px,#00e1ff 156px,#00e4ff 164px,#00feff 171px,#04fffb 197px,#10ffef 207px,#20ffdf 225px,#26ffd9 252px,#30ffcf 266px,#36ffc9 285px,#4fffb0 293px,#54ffab 377px,#62ff9d 379px,#87ff78 381px,#edff12 385px,#fdff02 386px,#fff000 390px,#fff300 432px,#ffff00 442px,#ffff00 502px)"></i><i style="height:4px;background:linear-gradient(90deg,#34ffcb 0px,#26ffd9 46px,#1bffe4 148px,#00faff 152px,#00e1ff 156px,#00e4ff 164px,#00feff 171px,#04fffb 197px,#10ffef 207px,#20ffdf 225px,#25ffda 254px,#30ffcf 267px,#35ffca 287px,#4fffb0 296px,#52ffad 378px,#67ff98 381px,#91ff6e 383px,#e1ff1e 386px,#fffd00 388px,#ffef00 392px,#fff300 432px,#ffff00 442px,#ffff00 502px)"></i><i style="height:4px;background:linear-gradient(90deg,#30ffcf 0px,#27ffd8 34px,#20ffdf 101px,#1bffe4 148px,#00faff 152px,#00e1ff 156px,#00e4ff 164px,#00feff 171px,#04fffb 197px,#10ffef 207px,#20ffdf 225px,#25ffda 257px,#30ffcf 270px,#36ffc9 290px,#4fffb0 298px,#53ffac 380px,#60ff9f 382px,#82ff7d 384px,#eaff15 388px,#faff05 389px,#fff000 393px,#fff300 432px,#ffff00 442px,#ffff00 502px)"></i><i style="height:3px;background:linear-gradient(90deg,#30ffcf 0px,#2affd5 21px,#20ffdf 48px,#1bffe4 148px,#00faff 152px,#00e1ff 156px,#00e4ff 164px,#00feff 171px,#04fffb 197px,#10ffef 207px,#20ffdf 225px,#25ffda 259px,#30ffcf 270px,#35ffca 292px,#4fffb0 300px,#55ffaa 382px,#67ff98 384px,#92ff6d 386px,#e5ff1a 389px,#f8ff07 390px,#fff100 393px,#fff300 432px,#ffff00 442px,#ffff00 502px)"></i></div></div></div><div class="p" style="left:869.0px;top:41.7px"><div class="o"><div class="rw"><i style="height:5px;background:linear-gradient(90deg,#ff9900 0px,#ffa400 127px,#ffa600 208px,#ff8c00 219px,#ff6900 231px,#ff5c00 481px,#ff5c00 502px)"></i><i style="height:5px;background:linear-gradient(90deg,#ff9900 0px,#ff9c00 91px,#ff9e00 201px,#ff9100 216px,#ff6f00 232px,#ff5b00 474px,#ff5c00 502px)"></i><i style="height:5px;background:linear-gradient(90deg,#ff9900 0px,#ff9d00 76px,#ff8b00 215px,#ff7600 237px,#ff5a00 469px,#ff5c00 502px)"></i><i style="height:5px;background:linear-gradient(90deg,#ff9a00 0px,#ff9d00 71px,#ff8200 223px,#ff5900 462px,#ff5c00 502px)"></i><i style="height:5px;background:linear-gradient(90deg,#ff9c00 0px,#ff9e00 73px,#ff5800 461px,#ff5b00 502px)"></i><i style="height:5px;background:linear-gradient(90deg,#ff9d00 0px,#ff9f00 76px,#ff5800 460px,#ff5a00 502px)"></i><i style="height:5px;background:linear-gradient(90deg,#ff9f00 0px,#ffa100 78px,#ff5700 459px,#ff5a00 502px)"></i><i style="height:5px;background:linear-gradient(90deg,#ff9f00 0px,#ffa300 78px,#ff5900 421px,#ff5900 502px)"></i><i style="height:5px;background:linear-gradient(90deg,#ffa000 0px,#ffa400 79px,#ff5600 456px,#ff5900 502px)"></i><i style="height:5px;background:linear-gradient(90deg,#ffa300 0px,#ffa500 84px,#ff5500 453px,#ff5900 502px)"></i><i style="height:5px;background:linear-gradient(90deg,#ffa700 0px,#ffa500 95px,#ff5300 450px,#ff5900 502px)"></i><i style="height:5px;background:linear-gradient(90deg,#ffab00 0px,#ffa500 105px,#ff5200 447px,#ff5900 502px)"></i><i style="height:5px;background:linear-gradient(90deg,#ffae00 0px,#ffa600 104px,#ff5200 445px,#ff5900 502px)"></i><i style="height:5px;background:linear-gradient(90deg,#ffb000 0px,#ffab00 94px,#ff5100 443px,#ff5a00 502px)"></i><i style="height:5px;background:linear-gradient(90deg,#ffb400 0px,#ffaf00 88px,#ff5800 401px,#ff5400 465px,#ff5a00 502px)"></i><i style="height:5px;background:linear-gradient(90deg,#ffbb00 0px,#ffb200 93px,#ff6000 385px,#ff5100 448px,#ff5b00 502px)"></i><i style="height:5px;background:linear-gradient(90deg,#ffc400 0px,#ffaf00 123px,#ff6500 374px,#ff5000 444px,#ff5c00 502px)"></i><i style="height:5px;background:linear-gradient(90deg,#ffcb00 0px,#ffa000 205px,#ff5100 442px,#ff5c00 502px)"></i><i style="height:5px;background:linear-gradient(90deg,#ffd100 0px,#ffa900 187px,#ff5100 443px,#ff5d00 502px)"></i><i style="height:5px;background:linear-gradient(90deg,#ffd700 0px,#ffb500 158px,#ff5100 443px,#ff5d00 502px)"></i><i style="height:5px;background:linear-gradient(90deg,#ffdf00 0px,#ffba00 153px,#ff5100 443px,#ff5d00 502px)"></i><i style="height:5px;background:linear-gradient(90deg,#ffe700 0px,#ffc300 132px,#ff5b00 405px,#ff5300 461px,#ff5e00 502px)"></i><i style="height:5px;background:linear-gradient(90deg,#ffee00 0px,#ffd500 90px,#ff5f00 398px,#ff5200 458px,#ff5e00 502px)"></i><i style="height:5px;background:linear-gradient(90deg,#fff600 0px,#ffdf00 79px,#ff6100 395px,#ff5100 457px,#ff5f00 502px)"></i><i style="height:5px;background:linear-gradient(90deg,#ffff00 0px,#ffe700 73px,#ffb700 178px,#ff6500 389px,#ff5000 455px,#ff6000 502px)"></i><i style="height:5px;background:linear-gradient(90deg,#f6ff09 0px,#fff800 52px,#ffc000 158px,#ff6700 387px,#ff5000 454px,#ff6000 502px)"></i><i style="height:5px;background:linear-gradient(90deg,#ecff13 0px,#fffa00 62px,#ffc100 157px,#ff6900 385px,#ff5100 454px,#ff6100 502px)"></i><i style="height:5px;background:linear-gradient(90deg,#e4ff1b 0px,#faff05 57px,#ffbd00 172px,#ff6a00 385px,#ff5200 454px,#ff6300 502px)"></i><i style="height:5px;background:linear-gradient(90deg,#deff21 0px,#e7ff18 42px,#fff900 83px,#ffc000 169px,#ff6b00 385px,#ff5400 453px,#ff6600 502px)"></i><i style="height:5px;background:linear-gradient(90deg,#d4ff2b 0px,#d9ff26 37px,#fff900 91px,#ffbe00 177px,#ff6c00 386px,#ff5600 452px,#ff6900 502px)"></i><i style="height:5px;background:linear-gradient(90deg,#c5ff3a 0px,#d1ff2e 41px,#fffe00 95px,#ffbd00 184px,#ff6b00 391px,#ff5900 452px,#ff6b00 502px)"></i><i style="height:5px;background:linear-gradient(90deg,#b3ff4c 0px,#ccff33 46px,#e6ff19 74px,#fff900 109px,#ffbb00 195px,#ff6400 413px,#ff5c00 456px,#ff6c00 502px)"></i><i style="height:5px;background:linear-gradient(90deg,#a6ff59 0px,#c2ff3d 47px,#ddff22 72px,#fffa00 117px,#ffb900 203px,#ff5e00 449px,#ff6c00 502px)"></i><i style="height:5px;background:linear-gradient(90deg,#a0ff5f 0px,#b8ff47 47px,#d4ff2b 72px,#fffa00 126px,#ffb800 212px,#ff6100 449px,#ff6d00 502px)"></i><i style="height:5px;background:linear-gradient(90deg,#9bff64 0px,#adff52 46px,#ccff33 74px,#fffa00 135px,#ffb500 222px,#ff6600 442px,#ff7000 502px)"></i><i style="height:5px;background:linear-gradient(90deg,#94ff6b 0px,#a6ff59 48px,#c6ff39 78px,#fffa00 144px,#ffb300 232px,#ff6d00 429px,#ff7300 502px)"></i><i style="height:5px;background:linear-gradient(90deg,#8bff74 0px,#a0ff5f 50px,#e5ff1a 121px,#fff900 154px,#ffb000 243px,#ff7900 402px,#ff7300 486px,#ff7600 502px)"></i><i style="height:5px;background:linear-gradient(90deg,#84ff7b 0px,#99ff66 51px,#fffa00 162px,#ffae00 253px,#ff7c00 397px,#ff7800 502px)"></i><i style="height:5px;background:linear-gradient(90deg,#80ff7f 0px,#91ff6e 51px,#fffb00 171px,#ffab00 265px,#ff7f00 395px,#ff7900 502px)"></i><i style="height:5px;background:linear-gradient(90deg,#7eff81 0px,#8aff75 50px,#fffa00 181px,#ffa900 276px,#ff8200 393px,#ff7a00 502px)"></i><i style="height:5px;background:linear-gradient(90deg,#7bff84 0px,#83ff7c 50px,#fffa00 190px,#ffa500 288px,#ff8400 391px,#ff7c00 502px)"></i><i style="height:5px;background:linear-gradient(90deg,#75ff8a 0px,#80ff7f 53px,#d9ff26 154px,#fff900 200px,#ffa200 300px,#ff8700 390px,#ff7f00 502px)"></i><i style="height:5px;background:linear-gradient(90deg,#6eff91 0px,#7dff82 59px,#bcff43 133px,#fffa00 208px,#ff9f00 312px,#ff8900 390px,#ff8400 502px)"></i><i style="height:5px;background:linear-gradient(90deg,#69ff96 0px,#7aff85 68px,#fffa00 217px,#ff9c00 324px,#ff8c00 394px,#ff8700 502px)"></i><i style="height:5px;background:linear-gradient(90deg,#67ff98 0px,#74ff8b 71px,#fffa00 225px,#ff9900 335px,#ff8c00 437px,#ff8900 502px)"></i><i style="height:5px;background:linear-gradient(90deg,#66ff99 0px,#6fff90 71px,#fffa00 231px,#ff9800 341px,#ff8b00 502px)"></i><i style="height:5px;background:linear-gradient(90deg,#65ff9a 0px,#6bff94 70px,#c9ff36 175px,#fffa00 236px,#ff9900 344px,#ff8e00 502px)"></i><i style="height:5px;background:linear-gradient(90deg,#63ff9c 0px,#69ff96 73px,#fffa00 240px,#ff9b00 345px,#ff9200 502px)"></i><i style="height:5px;background:linear-gradient(90deg,#60ff9f 0px,#69ff96 79px,#fffa00 244px,#ff9e00 345px,#ff9600 502px)"></i><i style="height:5px;background:linear-gradient(90deg,#5dffa2 0px,#69ff96 85px,#fffb00 247px,#ffa200 345px,#ff9900 490px,#ff9900 502px)"></i><i style="height:5px;background:linear-gradient(90deg,#5affa5 0px,#68ff97 88px,#fffa00 251px,#ffa600 344px,#ff9c00 486px,#ff9c00 502px)"></i><i style="height:5px;background:linear-gradient(90deg,#5affa5 0px,#66ff99 89px,#fffb00 254px,#ffab00 343px,#ff9f00 484px,#ffa100 502px)"></i><i style="height:5px;background:linear-gradient(90deg,#59ffa6 0px,#63ff9c 89px,#fffa00 258px,#ffb100 341px,#ffa200 482px,#ffa500 502px)"></i><i style="height:5px;background:linear-gradient(90deg,#59ffa6 0px,#61ff9e 89px,#fffb00 261px,#ffb800 337px,#ffa700 481px,#ffa900 502px)"></i><i style="height:5px;background:linear-gradient(90deg,#58ffa7 0px,#5fffa0 90px,#fffa00 265px,#ffc000 333px,#ffad00 478px,#ffb000 502px)"></i><i style="height:5px;background:linear-gradient(90deg,#56ffa9 0px,#5fffa0 93px,#fffb00 268px,#ffc900 328px,#ffb500 475px,#ffba00 502px)"></i><i style="height:5px;background:linear-gradient(90deg,#53ffac 0px,#5fffa0 97px,#fffa00 272px,#ffd100 324px,#ffc200 420px,#ffc100 480px,#ffc600 502px)"></i><i style="height:5px;background:linear-gradient(90deg,#51ffae 0px,#5fffa0 100px,#fffb00 274px,#ffd900 319px,#ffcd00 415px,#ffcb00 478px,#ffcf00 502px)"></i><i style="height:5px;background:linear-gradient(90deg,#50ffaf 0px,#5dffa2 101px,#fffa00 277px,#ffe000 315px,#ffd800 413px,#ffd700 482px,#ffd800 502px)"></i><i style="height:5px;background:linear-gradient(90deg,#50ffaf 0px,#5cffa3 102px,#fffa00 279px,#ffe600 311px,#ffe200 413px,#ffe400 502px)"></i><i style="height:5px;background:linear-gradient(90deg,#50ffaf 0px,#5affa5 102px,#fffb00 280px,#ffec00 309px,#fff100 502px)"></i><i style="height:5px;background:linear-gradient(90deg,#50ffaf 0px,#59ffa6 104px,#fffb00 282px,#fff200 310px,#fffb00 502px)"></i><i style="height:5px;background:linear-gradient(90deg,#50ffaf 0px,#58ffa7 106px,#fffb00 284px,#fffa00 320px,#fdff02 502px)"></i><i style="height:5px;background:linear-gradient(90deg,#50ffaf 0px,#57ffa8 107px,#fffd00 286px,#f8ff07 501px,#f8ff07 502px)"></i><i style="height:5px;background:linear-gradient(90deg,#50ffaf 0px,#56ffa9 109px,#fdff02 286px,#efff10 497px,#f1ff0e 502px)"></i><i style="height:5px;background:linear-gradient(90deg,#50ffaf 0px,#54ffab 109px,#f8ff07 282px,#e9ff16 499px,#eaff15 502px)"></i><i style="height:5px;background:linear-gradient(90deg,#4fffb0 0px,#52ffad 106px,#79ff86 150px,#f2ff0d 277px,#eeff11 332px,#e2ff1d 496px,#e5ff1a 502px)"></i><i style="height:5px;background:linear-gradient(90deg,#4effb1 0px,#4fffb0 102px,#6dff92 143px,#e8ff17 265px,#efff10 309px,#dfff20 399px,#d8ff27 481px,#e2ff1d 502px)"></i><i style="height:5px;background:linear-gradient(90deg,#4bffb4 0px,#4effb1 102px,#6dff92 148px,#e0ff1f 258px,#ebff14 305px,#deff21 347px,#d7ff28 392px,#d5ff2a 447px,#d1ff2e 478px,#d3ff2c 494px,#daff25 502px)"></i><i style="height:5px;background:linear-gradient(90deg,#46ffb9 0px,#4effb1 102px,#70ff8f 155px,#dbff24 254px,#e6ff19 303px,#d4ff2b 342px,#cdff32 389px,#ccff33 420px,#caff35 444px,#cbff34 472px,#c3ff3c 493px,#c8ff37 502px)"></i><i style="height:5px;background:linear-gradient(90deg,#43ffbc 0px,#4cffb3 99px,#72ff8d 161px,#d7ff28 253px,#e0ff1f 302px,#caff35 339px,#c1ff3e 371px,#c4ff3b 416px,#bdff42 440px,#c2ff3d 470px,#adff52 500px,#adff52 502px)"></i><i style="height:5px;background:linear-gradient(90deg,#41ffbe 0px,#4affb5 94px,#74ff8b 168px,#d4ff2b 253px,#dcff23 300px,#c0ff3f 338px,#b7ff48 388px,#bbff44 414px,#b1ff4e 439px,#b5ff4a 471px,#97ff68 502px)"></i><i style="height:5px;background:linear-gradient(90deg,#40ffbf 0px,#47ffb8 88px,#78ff87 176px,#d0ff2f 254px,#d8ff27 298px,#b5ff4a 337px,#acff53 387px,#b1ff4e 413px,#a5ff5a 439px,#a4ff5b 476px,#8bff74 502px)"></i><i style="height:5px;background:linear-gradient(90deg,#3fffc0 0px,#44ffbb 82px,#7cff83 185px,#cbff34 257px,#d5ff2a 295px,#abff54 338px,#a1ff5e 386px,#a6ff59 412px,#99ff66 440px,#92ff6d 484px,#87ff78 502px)"></i><i style="height:5px;background:linear-gradient(90deg,#3effc1 0px,#41ffbe 78px,#82ff7d 195px,#cbff34 266px,#d0ff2f 295px,#a0ff5f 341px,#97ff68 385px,#9cff63 411px,#8dff72 443px,#84ff7b 502px)"></i><i style="height:5px;background:linear-gradient(90deg,#3bffc4 0px,#40ffbf 77px,#87ff78 205px,#ceff31 282px,#c3ff3c 303px,#95ff6a 346px,#8eff71 387px,#91ff6e 411px,#83ff7c 448px,#7fff80 502px)"></i><i style="height:5px;background:linear-gradient(90deg,#36ffc9 0px,#43ffbc 85px,#8dff72 215px,#cbff34 287px,#abff54 319px,#8bff74 354px,#88ff77 392px,#82ff7d 418px,#72ff8d 502px)"></i><i style="height:5px;background:linear-gradient(90deg,#31ffce 0px,#46ffb9 93px,#91ff6e 224px,#c6ff39 288px,#a7ff58 320px,#83ff7c 356px,#78ff87 420px,#62ff9d 502px)"></i><i style="height:5px;background:linear-gradient(90deg,#2effd1 0px,#47ffb8 96px,#92ff6d 229px,#c1ff3e 288px,#acff53 314px,#7cff83 357px,#60ff9f 484px,#55ffaa 502px)"></i><i style="height:5px;background:linear-gradient(90deg,#2dffd2 0px,#47ffb8 98px,#64ff9b 149px,#91ff6e 232px,#b9ff46 280px,#b6ff49 305px,#77ff88 357px,#5bffa4 476px,#4fffb0 502px)"></i><i style="height:5px;background:linear-gradient(90deg,#2dffd2 0px,#45ffba 98px,#5bffa4 122px,#7dff82 202px,#9bff64 244px,#b1ff4e 268px,#b7ff48 303px,#73ff8c 358px,#59ffa6 468px,#4dffb2 502px)"></i><i style="height:2px;background:linear-gradient(90deg,#2dffd2 0px,#42ffbd 97px,#5cffa3 119px,#78ff87 198px,#8aff75 225px,#9cff63 245px,#afff50 264px,#b6ff49 305px,#8dff72 335px,#71ff8e 359px,#59ffa6 466px,#4dffb2 502px)"></i></div></div><div class="l" style="clip-path:path('M36.5 -0.2 L36.1 2.1 L32.5 3.9 L31.9 9.9 L27.1 12.3 L28.9 14.7 L34.9 24.4 L40.9 32.8 L48.2 38.8 L54.2 46.2 L58.3 50.4 L61.3 53.7 L63.3 57.9 L64.4 61.2 L64.8 65.0 L66.3 67.5 L66.7 70.0 L67.9 72.9 L70.0 76.6 L72.1 80.0 L74.6 84.6 L78.3 93.0 L74.6 100.2 L77.1 108.7 L80.7 115.2 L83.1 122.4 L82.5 129.6 L80.1 135.6 L77.1 138.0 L72.2 142.8 L69.2 146.5 L67.4 153.7 L66.2 160.9 L63.8 168.1 L60.8 172.9 L60.2 180.2 L61.4 185.0 L60.2 189.8 L60.2 193.4 L62.6 199.4 L67.4 204.2 L72.2 211.5 L77.1 221.1 L81.6 231.1 L89.6 243.9 L88.8 250.3 L92.9 267.9 L95.3 282.4 L99.3 292.0 L105.7 301.6 L112.9 307.2 L116.9 314.4 L121.7 327.2 L128.1 336.8 L132.1 344.8 L129.7 351.2 L127.3 352.8 L129.7 359.2 L132.9 367.2 L139.3 370.4 L148.9 372.8 L155.3 370.4 L168.1 368.0 L179.3 364.0 L192.1 365.1 L200.7 366.3 L211.5 364.5 L222.2 361.0 L234.7 353.8 L247.2 344.9 L257.9 335.9 L266.9 327.0 L274.0 318.1 L283.0 310.9 L288.3 305.6 L290.1 298.4 L291.9 289.5 L292.8 282.3 L290.1 278.7 L295.5 275.2 L304.4 269.8 L315.1 264.4 L319.6 257.3 L321.4 246.6 L320.5 235.8 L316.9 230.5 L311.6 219.8 L313.3 212.6 L318.1 207.9 L325.5 203.5 L333.0 199.0 L340.4 193.1 L349.3 188.7 L356.7 185.7 L364.1 182.7 L370.0 176.8 L375.9 167.9 L378.9 160.5 L376.7 142.7 L375.9 127.9 L376.5 120.3 L374.2 114.7 L369.4 111.1 L365.8 105.1 L364.6 99.0 L363.3 91.8 L362.1 84.6 L362.1 77.4 L358.5 72.5 L357.3 67.7 L358.5 60.5 L362.1 54.5 L365.8 49.7 L368.2 44.9 L370.6 38.8 L373.0 32.8 L380.2 26.8 L386.2 20.8 L392.2 13.5 L398.3 7.5 L406.7 0.3 L407.5 -0.2 L407.5 -11.7 L36.5 -11.7Z M471.5 132.4 L476.6 136.8 L481.1 147.2 L482.6 157.6 L484.0 167.9 L479.6 167.9 L477.4 170.9 L478.1 181.3 L475.2 187.2 L472.2 202.0 L467.8 216.8 L466.2 219.3 L461.4 231.1 L457.4 246.4 L453.4 256.7 L448.6 268.0 L438.9 272.0 L429.3 275.2 L419.7 272.0 L413.3 266.4 L410.1 258.3 L410.5 250.3 L407.0 243.3 L406.3 237.5 L409.3 231.1 L413.3 224.7 L417.5 219.3 L418.9 213.8 L415.9 202.0 L414.4 190.1 L417.4 181.2 L420.4 176.8 L429.2 173.8 L438.1 170.9 L447.0 166.4 L451.5 160.5 L457.4 153.1 L463.3 144.2 L467.8 133.8Z')"><div class="rw"><i style="height:4px;background:linear-gradient(90deg,#ff9f00 0px,#ffa100 72px,#ff9900 92px,#ff8f00 104px,#ff8600 114px,#ff7900 122px,#ff6a00 176px,#ff7600 190px,#ff8600 223px,#ff9700 239px,#ffbb00 245px,#ffc700 250px,#ffe700 253px,#f9ff06 255px,#e3ff1c 258px,#e5ff1a 262px,#fffd00 265px,#ffd600 269px,#ffc600 279px,#ffb000 285px,#ffb600 297px,#ffc600 307px,#ffed00 311px,#fcff03 313px,#e5ff1a 318px,#b9ff46 321px,#84ff7b 324px,#6dff92 328px,#4affb5 335px,#52ffad 338px,#70ff8f 340px,#c7ff38 344px,#deff21 347px,#f5ff0a 351px,#fffd00 352px,#ffd500 356px,#ffc000 363px,#ff9a00 368px,#ff8900 379px,#ff8000 389px,#ff8000 502px)"></i><i style="height:4px;background:linear-gradient(90deg,#ff9f00 0px,#ffa100 72px,#ff9900 92px,#ff8f00 106px,#ff8300 115px,#ff7900 126px,#ff6a00 175px,#ff7600 191px,#ff8600 223px,#ff9800 239px,#ffbd00 246px,#ffcf00 251px,#faff05 255px,#e3ff1c 258px,#e6ff19 262px,#fffd00 265px,#ffd700 269px,#ffc100 280px,#ffb000 286px,#ffb800 298px,#ffc600 307px,#fcff03 313px,#daff25 319px,#85ff7a 324px,#6dff92 328px,#4bffb4 335px,#54ffab 338px,#71ff8e 340px,#c6ff39 344px,#deff21 347px,#f6ff09 351px,#fffd00 352px,#ffd600 356px,#ffbf00 363px,#ff9b00 368px,#ff8900 379px,#ff8000 390px,#ff8000 502px)"></i><i style="height:4px;background:linear-gradient(90deg,#ff9f00 0px,#ffa100 74px,#ff8700 113px,#ff7700 132px,#ff6b00 175px,#ff9100 234px,#ffab00 242px,#ffd500 251px,#fdff02 255px,#e6ff19 259px,#f0ff0f 263px,#ffff00 265px,#ffd800 271px,#ffb000 287px,#ffbf00 303px,#ffd200 308px,#fffe00 313px,#d2ff2d 319px,#82ff7d 325px,#50ffaf 334px,#55ffaa 337px,#77ff88 340px,#c8ff37 345px,#fbff04 351px,#ffcd00 358px,#ff9700 370px,#ff8000 389px,#ff8000 502px)"></i><i style="height:4px;background:linear-gradient(90deg,#ff9f00 0px,#ffa100 77px,#ff7a00 122px,#ff6b00 171px,#ff9200 234px,#ffc500 248px,#fdff02 255px,#e6ff19 259px,#f3ff0c 264px,#fffb00 267px,#ffbb00 279px,#ffad00 290px,#ffc200 304px,#fffe00 313px,#beff41 320px,#6cff93 328px,#51ffae 334px,#61ff9e 338px,#afff50 344px,#faff05 350px,#ffb000 362px,#ff9200 372px,#ff8000 393px,#ff8000 502px)"></i><i style="height:4px;background:linear-gradient(90deg,#ff9f00 0px,#ffa000 78px,#ff7e00 118px,#ff6c00 147px,#ff7000 180px,#ff9200 234px,#ffc600 248px,#faff05 255px,#e2ff1d 259px,#f0ff0f 265px,#fff900 269px,#ffb500 280px,#ffa900 288px,#ffbc00 302px,#fcff03 313px,#63ff9c 329px,#52ffad 334px,#5fffa0 338px,#8bff74 342px,#f3ff0c 349px,#fff700 351px,#ffac00 361px,#ff9000 372px,#ff8000 393px,#ff8000 502px)"></i><i style="height:4px;background:linear-gradient(90deg,#ff9f00 0px,#ffa000 78px,#ff8100 114px,#ff6e00 135px,#ff6d00 176px,#ff9100 234px,#ffc900 248px,#feff01 254px,#e0ff1f 258px,#e3ff1c 263px,#fffb00 270px,#ffac00 282px,#ffa600 289px,#ffb900 301px,#ffff00 312px,#a5ff5a 322px,#5effa1 330px,#58ffa7 335px,#67ff98 339px,#97ff68 343px,#f4ff0b 349px,#fffe00 350px,#ffb000 359px,#ff9800 366px,#ff8100 391px,#ff8000 502px)"></i><i style="height:4px;background:linear-gradient(90deg,#ff9f00 0px,#ffa000 81px,#ff8600 110px,#ff6e00 132px,#ff6400 170px,#ff8800 232px,#ffbe00 246px,#fffb00 252px,#d9ff26 257px,#dfff20 262px,#fffc00 270px,#ffaa00 282px,#ffa400 289px,#ffb800 301px,#ffff00 312px,#91ff6e 324px,#69ff96 329px,#68ff97 335px,#78ff87 340px,#a5ff5a 344px,#ffff00 350px,#ffaf00 359px,#ff9800 366px,#ff8200 391px,#ff8200 410px,#ff8000 502px)"></i><i style="height:4px;background:linear-gradient(90deg,#ff9f00 0px,#ffa000 88px,#ff7e00 115px,#ff6c00 136px,#ff5a00 163px,#ff7600 226px,#ff8d00 236px,#ffbe00 246px,#fbff04 251px,#cdff32 255px,#c9ff36 258px,#fffc00 269px,#ffa600 282px,#ffa400 291px,#ffb500 301px,#fbff04 313px,#7bff84 327px,#75ff8a 331px,#92ff6d 342px,#c2ff3d 346px,#faff05 350px,#ffae00 360px,#ff9600 369px,#ff8300 391px,#ff8600 410px,#ff8000 448px,#ff8000 502px)"></i><i style="height:4px;background:linear-gradient(90deg,#ff9f00 0px,#ffa100 92px,#ff6e00 130px,#ff5100 164px,#ff6400 220px,#ff7c00 234px,#ffbd00 246px,#ffeb00 249px,#feff01 250px,#c8ff37 253px,#b4ff4b 256px,#cfff30 260px,#fdff02 267px,#ffa600 281px,#ffa200 291px,#ffb500 302px,#fdff02 313px,#87ff78 326px,#83ff7c 330px,#9eff61 337px,#a4ff5b 343px,#cdff32 347px,#ffff00 351px,#ffba00 359px,#ff9c00 367px,#ff8400 390px,#ff8700 412px,#ff8000 430px,#ff8000 502px)"></i><i style="height:4px;background:linear-gradient(90deg,#ff9f00 0px,#ffa600 79px,#ff9f00 96px,#ff6d00 129px,#ff4700 166px,#ff5100 213px,#ff6f00 233px,#ffb100 245px,#ffdb00 248px,#f5ff0a 250px,#b5ff4a 253px,#a3ff5c 255px,#b2ff4d 258px,#f0ff0f 264px,#fffb00 267px,#ffa600 280px,#ffa100 292px,#ffb700 303px,#ffee00 311px,#feff01 313px,#92ff6d 325px,#8dff72 328px,#b8ff47 337px,#b4ff4b 344px,#d6ff29 348px,#fffc00 352px,#ffba00 360px,#ff9b00 369px,#ff8500 388px,#ff8900 414px,#ff8000 427px,#ff8400 497px,#ff9000 502px)"></i><i style="height:4px;background:linear-gradient(90deg,#ff9f00 0px,#ffa400 66px,#ffa800 91px,#ff5100 148px,#ff3e00 172px,#ff4100 206px,#ff5a00 227px,#ff7300 236px,#ffac00 245px,#ffdb00 248px,#fff300 249px,#f0ff0f 250px,#a8ff57 253px,#96ff69 255px,#9eff61 257px,#f2ff0d 264px,#fff400 267px,#ffa600 279px,#ffa100 293px,#ffb800 304px,#ffed00 311px,#feff01 313px,#9eff61 324px,#9bff64 328px,#cfff30 337px,#c4ff3b 345px,#ddff22 349px,#fffa00 353px,#ffc100 360px,#ff9d00 370px,#ff8600 387px,#ff8d00 415px,#ff8000 426px,#ff8500 491px,#ffac00 499px,#ffbc00 502px)"></i><i style="height:4px;background:linear-gradient(90deg,#ff9f00 0px,#ffa400 63px,#ffaa00 90px,#ff4700 153px,#ff3400 179px,#ff3b00 211px,#ff6700 235px,#ffa600 245px,#ffd500 248px,#f6ff09 250px,#abff54 253px,#96ff69 255px,#9cff63 257px,#fffe00 265px,#ffaa00 277px,#ff9f00 285px,#ffa900 299px,#ffc400 306px,#fcff03 313px,#a5ff5a 324px,#a6ff59 328px,#ddff22 337px,#d8ff27 342px,#cfff30 347px,#f3ff0c 352px,#fff800 354px,#ffc100 361px,#ff9e00 371px,#ff8700 385px,#ff9000 417px,#ff8000 427px,#ff8500 484px,#ffb100 493px,#ffcc00 500px,#ffce00 502px)"></i><i style="height:4px;background:linear-gradient(90deg,#ff9f00 0px,#ffa200 59px,#ffaa00 88px,#ff7d00 117px,#ff4800 149px,#ff3300 177px,#ff3700 208px,#ff6400 235px,#ff9f00 245px,#ffc700 248px,#fff500 250px,#f0ff0f 251px,#b3ff4c 254px,#a8ff57 256px,#bcff43 259px,#fcff03 264px,#ffb000 275px,#ffa000 282px,#ffa700 298px,#ffc200 305px,#fffd00 312px,#aaff55 325px,#afff50 329px,#e3ff1c 338px,#d7ff28 344px,#d4ff2b 348px,#f5ff0a 353px,#fff600 355px,#ffbe00 362px,#ff9e00 372px,#ff8800 383px,#ff9200 419px,#ff8000 429px,#ff8500 477px,#ffb100 486px,#ffcc00 493px,#ffcf00 502px)"></i><i style="height:4px;background:linear-gradient(90deg,#ff9f00 0px,#ffa200 59px,#ffaa00 85px,#ff8c00 109px,#ff5500 137px,#ff3200 171px,#ff3500 202px,#ff4800 221px,#ff6100 235px,#ffa000 246px,#ffca00 249px,#fff400 251px,#f5ff0a 252px,#cbff34 255px,#c8ff37 258px,#fffa00 264px,#ffbd00 272px,#ffa200 279px,#ffa600 297px,#ffc900 305px,#feff01 312px,#c8ff37 322px,#b0ff4f 327px,#c0ff3f 332px,#e4ff1b 339px,#dbff24 349px,#fffe00 355px,#ffbb00 363px,#ff8b00 379px,#ff9300 422px,#ff8000 431px,#ff8500 470px,#ffb100 479px,#ffcc00 486px,#ffcf00 502px)"></i><i style="height:4px;background:linear-gradient(90deg,#ff9f00 0px,#ffa100 59px,#ffaa00 82px,#ff9000 107px,#ff5600 134px,#ff3200 168px,#ff3400 201px,#ff5200 230px,#ff6c00 238px,#ffa000 247px,#fff700 253px,#f3ff0c 255px,#e8ff17 259px,#fffb00 263px,#ffc500 270px,#ffa200 279px,#ffa500 296px,#ffca00 304px,#feff01 312px,#d4ff2b 322px,#b9ff46 328px,#c6ff39 333px,#e4ff1b 340px,#e6ff19 351px,#fffb00 356px,#ffb800 364px,#ff8a00 379px,#ff9500 424px,#ff8000 433px,#ff8500 463px,#ffa400 470px,#ffc800 477px,#ffcf00 500px,#ffcf00 502px)"></i><i style="height:4px;background:linear-gradient(90deg,#ff9f00 0px,#ffa000 59px,#ffab00 79px,#ff8e00 107px,#ff5500 132px,#ff3300 163px,#ff3200 199px,#ff5400 233px,#ff9700 247px,#ffe100 255px,#fff400 260px,#ffe000 265px,#ffa600 277px,#ffa100 293px,#ffba00 300px,#fffd00 312px,#e0ff1f 322px,#c1ff3e 330px,#d7ff28 337px,#e8ff17 344px,#f5ff0a 354px,#fff800 357px,#ffb500 365px,#ff8c00 377px,#ff9800 426px,#ff8000 435px,#ff8600 457px,#ffca00 471px,#ffcf00 502px)"></i><i style="height:4px;background:linear-gradient(90deg,#ff9f00 0px,#ffa100 60px,#ffaa00 78px,#ff8c00 107px,#ff5400 131px,#ff3400 160px,#ff3200 198px,#ff5200 233px,#ff9d00 249px,#ffd800 260px,#ffd800 265px,#ffa600 278px,#ffa800 294px,#fff500 310px,#f5ff0a 318px,#c6ff39 332px,#f1ff0e 348px,#fff900 357px,#ffab00 367px,#ff8d00 376px,#ff9a00 428px,#ff8000 437px,#ff8600 451px,#ffc700 463px,#ffcf00 480px,#ffcf00 502px)"></i><i style="height:4px;background:linear-gradient(90deg,#ff9f00 0px,#ffa000 52px,#ffa300 63px,#ffa900 79px,#ff8c00 107px,#ff5700 129px,#ff3700 160px,#ff3600 198px,#ff5600 233px,#ffd600 262px,#ffcd00 268px,#ffae00 277px,#ffb500 294px,#fff100 307px,#f8ff07 317px,#c4ff3b 333px,#ddff22 341px,#f5ff0a 350px,#fffc00 356px,#ffd100 362px,#ffa300 368px,#ff8d00 376px,#ff9d00 430px,#ff8200 439px,#ff8b00 447px,#ffc700 457px,#ffcf00 473px,#ffcf00 502px)"></i><i style="height:4px;background:linear-gradient(90deg,#ff9f00 0px,#ffa500 43px,#ffa900 50px,#ff9c00 57px,#ffaa00 80px,#ff8c00 107px,#ff5800 128px,#ff3800 165px,#ff3d00 200px,#ff5900 232px,#ffd100 260px,#ffd100 267px,#ffb800 276px,#ffc700 294px,#fff200 304px,#fbff04 315px,#c1ff3e 334px,#d6ff29 341px,#f4ff0b 350px,#fffa00 356px,#ffbd00 364px,#ff9700 370px,#ff8f00 379px,#ff9f00 433px,#ff8c00 441px,#ffa500 446px,#ffc900 452px,#ffcf00 482px,#ffcf00 502px)"></i><i style="height:4px;background:linear-gradient(90deg,#ff9f00 0px,#ffa500 38px,#ffad00 49px,#ff9b00 58px,#ffaa00 81px,#ff8c00 107px,#ff5800 128px,#ff3a00 170px,#ff4600 204px,#ff5c00 231px,#ffcc00 258px,#ffd000 267px,#ffc100 275px,#ffd900 294px,#fff700 303px,#f9ff06 315px,#beff41 335px,#d5ff2a 342px,#f6ff09 351px,#fffa00 355px,#ffc400 363px,#ff9900 369px,#ff8f00 377px,#ffa300 435px,#ff9c00 440px,#ffcb00 448px,#ffcf00 502px)"></i><i style="height:4px;background:linear-gradient(90deg,#ff9f00 0px,#ffa500 34px,#ffaf00 48px,#ff9b00 58px,#ffaa00 82px,#ff8c00 107px,#ff5700 128px,#ff3e00 174px,#ff4f00 209px,#ff5f00 230px,#ffc500 255px,#ffce00 268px,#ffce00 276px,#fff000 296px,#fffc00 307px,#f6ff09 315px,#bbff44 336px,#cfff30 342px,#ffff00 353px,#ffc100 363px,#ff9800 369px,#ff9100 378px,#ffab00 439px,#ffce00 447px,#ffcf00 502px)"></i><i style="height:4px;background:linear-gradient(90deg,#ff9f00 0px,#ffa500 30px,#ffaf00 46px,#ffa300 54px,#ff9b00 60px,#ffa900 83px,#ff8c00 107px,#ff5700 128px,#ff4300 175px,#ff6100 229px,#ffc300 253px,#ffe100 278px,#feff01 301px,#f5ff0a 313px,#b6ff49 336px,#c8ff37 342px,#fffa00 353px,#ff9400 370px,#ffae00 439px,#ffce00 448px,#ffcf00 502px)"></i><i style="height:4px;background:linear-gradient(90deg,#ff9f00 0px,#ffa600 26px,#ffaf00 45px,#ffa500 54px,#ff9a00 60px,#ffa800 82px,#ff8500 110px,#ff5600 129px,#ff4600 170px,#ff5d00 216px,#ff6400 229px,#ff8e00 238px,#ffc300 249px,#ffe800 272px,#fdff02 286px,#f4ff0b 305px,#e2ff1d 313px,#a9ff56 335px,#bbff44 341px,#feff01 351px,#ff9600 370px,#ffb000 441px,#ffce00 450px,#ffcf00 502px)"></i><i style="height:4px;background:linear-gradient(90deg,#ff9f00 0px,#ffa600 22px,#ffaf00 40px,#ffa800 54px,#ff9900 60px,#ffa700 82px,#ff8a00 97px,#ff8800 110px,#ff5500 131px,#ff4800 166px,#ff6a00 214px,#ff5f00 226px,#ff7500 233px,#ffbc00 243px,#ffd900 253px,#ffef00 267px,#fbff04 273px,#e3ff1c 292px,#e0ff1f 308px,#adff52 320px,#95ff6a 333px,#aeff51 340px,#fffb00 351px,#ff9800 370px,#ffb000 442px,#ffcf00 453px,#ffcf00 502px)"></i><i style="height:4px;background:linear-gradient(90deg,#ff9f00 0px,#ffa900 19px,#ffaf00 50px,#ff9900 61px,#ffa700 82px,#ff8100 95px,#ff8300 104px,#ff8400 112px,#ff5300 133px,#ff4800 162px,#ff7600 214px,#ff6100 226px,#ff6f00 231px,#ffc800 242px,#ffe600 253px,#fcff03 266px,#dbff24 276px,#d3ff2c 297px,#d0ff2f 307px,#94ff6b 318px,#82ff7d 331px,#a2ff5d 339px,#fffc00 350px,#ff9e00 369px,#ff9c00 391px,#ffb500 446px,#ffce00 455px,#ffcf00 502px)"></i><i style="height:4px;background:linear-gradient(90deg,#ff9f00 0px,#ffaf00 30px,#ffab00 54px,#ff9800 61px,#ffa500 83px,#ff7500 96px,#ff7c00 105px,#ff8200 113px,#ff5000 136px,#ff4800 159px,#ff8500 213px,#ff6900 227px,#ff7900 231px,#ffd400 241px,#fff200 252px,#faff05 261px,#c4ff3b 275px,#c2ff3d 297px,#c1ff3e 306px,#7eff81 317px,#70ff8f 328px,#93ff6c 337px,#daff25 345px,#fffe00 349px,#ffca00 359px,#ff9e00 371px,#ffb400 446px,#ffcf00 458px,#ffcf00 502px)"></i><i style="height:4px;background:linear-gradient(90deg,#ffa100 0px,#ffaf00 22px,#ffaa00 55px,#ff9800 62px,#ffa400 83px,#ff6c00 97px,#ff8000 114px,#ff4f00 138px,#ff4a00 157px,#ff9300 213px,#ff7e00 228px,#ff9400 232px,#ffde00 240px,#fffa00 249px,#edff12 259px,#afff50 274px,#b2ff4d 297px,#b3ff4c 305px,#76ff89 317px,#71ff8e 328px,#96ff69 336px,#ffff00 348px,#ffd100 357px,#ffa100 371px,#ffb200 439px,#ffc000 453px,#ffcf00 461px,#ffcf00 502px)"></i><i style="height:4px;background:linear-gradient(90deg,#ffaa00 0px,#ffad00 54px,#ff9700 63px,#ffa100 84px,#ff6f00 96px,#ff8a00 115px,#ff5700 141px,#ff5300 157px,#ffa600 215px,#ff9a00 229px,#ffbb00 234px,#ffee00 240px,#fcff03 247px,#dcff23 259px,#a1ff5e 273px,#a6ff59 297px,#a5ff5a 306px,#77ff88 317px,#7fff80 329px,#b1ff4e 337px,#fffe00 347px,#ffac00 368px,#ffa200 380px,#ffbc00 453px,#ffcf00 463px,#ffcf00 502px)"></i><i style="height:4px;background:linear-gradient(90deg,#ffaf00 0px,#ffab00 56px,#ff9600 63px,#ff9f00 84px,#ff7a00 94px,#ffa100 113px,#ff8300 129px,#ff6b00 141px,#ff6000 156px,#ff9d00 193px,#ffbe00 218px,#ffb800 230px,#ffd900 235px,#fffc00 240px,#d4ff2b 258px,#9bff64 272px,#9cff63 286px,#a0ff5f 305px,#78ff87 317px,#8dff72 329px,#ffff00 346px,#ffaa00 371px,#ffa900 397px,#ffbf00 456px,#ffcf00 466px,#ffcf00 502px)"></i><i style="height:4px;background:linear-gradient(90deg,#ffaf00 0px,#ffaa00 57px,#ff9600 64px,#ff9d00 84px,#ff8400 93px,#ffb000 105px,#ffb700 117px,#ff8100 140px,#ff6f00 155px,#ff9600 175px,#ffd400 216px,#ffd500 231px,#fdff02 238px,#c3ff3c 259px,#94ff6b 272px,#97ff68 283px,#a0ff5f 291px,#98ff67 305px,#7eff81 316px,#97ff68 328px,#fffd00 346px,#ffab00 373px,#ffbc00 454px,#ffcf00 470px,#ffcf00 502px)"></i><i style="height:4px;background:linear-gradient(90deg,#ffac00 0px,#ffab00 57px,#ff9500 64px,#ff9b00 84px,#ff9000 92px,#ffc800 104px,#ffcc00 119px,#ff9800 139px,#ff7e00 154px,#ffa000 173px,#ffc900 191px,#ffef00 225px,#fff500 233px,#f9ff06 236px,#d6ff29 248px,#afff50 261px,#8cff73 274px,#9eff61 285px,#a0ff5f 292px,#90ff6f 309px,#a5ff5a 317px,#aaff55 326px,#ccff33 336px,#fffc00 346px,#ffab00 376px,#ffc200 460px,#ffcf00 473px,#ffcf00 502px)"></i><i style="height:4px;background:linear-gradient(90deg,#ffa700 0px,#ffac00 57px,#ff9400 65px,#ff9800 84px,#ff9e00 91px,#ffde00 103px,#ffe300 119px,#ffa000 144px,#ff8e00 154px,#ffb100 173px,#ffe100 192px,#fbff04 222px,#ecff13 235px,#9bff64 265px,#89ff76 274px,#a8ff57 290px,#96ff69 301px,#a5ff5a 306px,#e6ff19 314px,#e6ff19 318px,#d0ff2f 325px,#e3ff1c 338px,#fffb00 346px,#ffae00 377px,#ffc500 463px,#ffcf00 478px,#ffcf00 502px)"></i><i style="height:4px;background:linear-gradient(90deg,#ffa600 0px,#ffa800 59px,#ff9300 66px,#ff9b00 87px,#fff100 104px,#ffef00 121px,#ff9f00 149px,#ffa100 158px,#ffc600 175px,#fff500 194px,#f6ff09 210px,#d8ff27 239px,#8eff71 272px,#b9ff46 289px,#a0ff5f 300px,#b6ff49 304px,#faff05 310px,#ffdf00 315px,#fff000 320px,#f8ff07 324px,#eaff15 330px,#fffa00 347px,#ffbd00 372px,#ffb000 382px,#ffc900 467px,#ffcf00 502px)"></i><i style="height:4px;background:linear-gradient(90deg,#ffa600 0px,#ffa200 60px,#ff9200 67px,#ff9b00 86px,#fff400 103px,#fff600 120px,#ffa400 149px,#ffb200 161px,#ffdb00 178px,#fffe00 194px,#cfff30 244px,#9fff60 272px,#daff25 285px,#ddff22 291px,#bcff43 297px,#a9ff56 301px,#bcff43 304px,#fffb00 310px,#ffd600 314px,#ffd800 318px,#fdff02 325px,#ecff13 331px,#fffa00 349px,#ffc200 372px,#ffb100 381px,#ffcd00 471px,#ffcf00 502px)"></i><i style="height:4px;background:linear-gradient(90deg,#ffa500 0px,#ffa000 60px,#ff9000 67px,#ff9900 85px,#fff300 102px,#fffc00 114px,#ffe400 128px,#ffaa00 148px,#ffb500 157px,#ffe700 178px,#fbff04 193px,#caff35 248px,#bdff42 259px,#b1ff4e 272px,#d6ff29 278px,#ffff00 284px,#fff300 289px,#fffe00 292px,#afff50 300px,#afff50 303px,#fdff02 310px,#ffd900 314px,#ffd400 317px,#feff01 325px,#e7ff18 331px,#fff900 352px,#ffc700 372px,#ffb100 380px,#ffcf00 497px,#ffcf00 502px)"></i><i style="height:4px;background:linear-gradient(90deg,#ffa100 0px,#ffa100 60px,#ff9000 68px,#ff9800 84px,#fff300 101px,#fdff02 112px,#ffec00 127px,#ffaf00 148px,#ffde00 171px,#feff01 187px,#dfff20 220px,#c6ff39 252px,#c4ff3b 261px,#c6ff39 273px,#fffb00 281px,#ffd400 287px,#ffd900 290px,#feff01 294px,#b3ff4c 300px,#acff53 303px,#d1ff2e 307px,#fffb00 311px,#ffd700 315px,#ffdb00 319px,#ffff00 325px,#e2ff1d 331px,#ecff13 342px,#fff900 355px,#ffcf00 371px,#ffb200 380px,#ffda00 502px)"></i><i style="height:4px;background:linear-gradient(90deg,#ff9f00 0px,#ffa200 60px,#ff8f00 69px,#ff9900 83px,#fff500 100px,#f7ff08 110px,#fff700 124px,#ffd500 137px,#ffb700 148px,#fdff02 183px,#dcff23 217px,#c7ff38 260px,#d7ff28 273px,#fffd00 279px,#ffd700 285px,#ffdc00 289px,#f9ff06 294px,#afff50 301px,#aeff51 304px,#f0ff0f 310px,#fff600 312px,#ffd700 316px,#ffe000 320px,#ffff00 325px,#dcff23 332px,#ebff14 344px,#fffa00 357px,#ffd600 370px,#ffb200 380px,#ffd100 475px,#fff000 490px,#fbff04 495px,#e1ff1e 502px)"></i><i style="height:4px;background:linear-gradient(90deg,#ff9f00 0px,#ffa000 62px,#ff8e00 69px,#ff9900 82px,#fff300 98px,#f9ff06 107px,#f5ff0a 115px,#fff700 127px,#ffd200 140px,#ffc000 148px,#fdff02 179px,#d9ff26 214px,#ccff33 259px,#e5ff1a 273px,#fffd00 278px,#ffe300 284px,#fff500 289px,#f4ff0b 292px,#aaff55 302px,#b1ff4e 305px,#fffd00 312px,#ffdb00 316px,#ffe100 320px,#ffff00 325px,#daff25 332px,#e2ff1d 341px,#fffa00 359px,#ffd400 371px,#ffb100 381px,#ffca00 471px,#ffe000 475px,#fffe00 478px,#cfff30 485px,#b4ff4b 495px,#bcff43 502px)"></i><i style="height:4px;background:linear-gradient(90deg,#ff9f00 0px,#ff9e00 63px,#ff8e00 70px,#ff9c00 82px,#fff000 97px,#f8ff07 112px,#ffef00 132px,#ffc600 146px,#fdff02 177px,#d9ff26 214px,#d1ff2e 256px,#f3ff0c 274px,#fff700 278px,#ffe100 284px,#fff000 289px,#faff05 292px,#b7ff48 302px,#baff45 306px,#fffc00 313px,#ffdf00 317px,#ffea00 321px,#fbff04 325px,#dbff24 332px,#e7ff18 343px,#fffa00 359px,#ffd400 371px,#ffb100 381px,#ffc300 468px,#ffd400 472px,#fff900 475px,#b6ff49 481px,#a6ff59 485px,#b5ff4a 493px,#d7ff28 502px)"></i><i style="height:4px;background:linear-gradient(90deg,#ff9f00 0px,#ff9a00 64px,#ff8f00 71px,#ffa100 82px,#ffed00 96px,#fffd00 115px,#ffe700 135px,#ffcd00 145px,#ffe800 161px,#faff05 178px,#d8ff27 218px,#d9ff26 255px,#fffc00 275px,#ffda00 284px,#ffe200 290px,#feff01 295px,#cdff32 303px,#cdff32 308px,#fffd00 314px,#ffe800 317px,#ffef00 321px,#f8ff07 325px,#dfff20 333px,#fffb00 358px,#ffcf00 372px,#ffb000 382px,#ffb300 431px,#ffc200 468px,#ffe300 472px,#fcff03 474px,#c2ff3d 478px,#b3ff4c 482px,#c6ff39 489px,#ddff22 498px,#dfff20 502px)"></i><i style="height:4px;background:linear-gradient(90deg,#ff9f00 0px,#ff9800 65px,#ff9000 72px,#ffa700 82px,#ffed00 96px,#fff400 117px,#ffe400 136px,#ffd500 144px,#ffec00 161px,#faff05 177px,#d8ff27 219px,#e0ff1f 253px,#fffa00 272px,#ffd500 284px,#ffda00 292px,#feff01 299px,#e2ff1d 306px,#e6ff19 311px,#fffd00 315px,#ffee00 319px,#fbff04 324px,#e4ff1b 335px,#fffa00 358px,#ffb000 382px,#ffad00 429px,#ffbc00 466px,#ffde00 470px,#fffb00 472px,#bbff44 477px,#b7ff48 480px,#d9ff26 487px,#dfff20 502px)"></i><i style="height:4px;background:linear-gradient(90deg,#ff9f00 0px,#ff9a00 65px,#ff9000 72px,#ffae00 82px,#ffeb00 95px,#ffec00 120px,#ffe400 137px,#ffe100 149px,#f9ff06 176px,#d9ff26 220px,#e9ff16 252px,#fffa00 265px,#ffd100 285px,#ffd500 295px,#fffe00 306px,#faff05 313px,#fff500 320px,#f7ff08 327px,#ecff13 339px,#fffa00 357px,#ffb100 382px,#ffa900 435px,#ffb400 463px,#ffcb00 467px,#fbff04 471px,#bfff40 475px,#aeff51 478px,#dcff23 486px,#dfff20 502px)"></i><i style="height:4px;background:linear-gradient(90deg,#ff9500 0px,#ff9f00 55px,#ff9500 68px,#ff9400 74px,#ffea00 94px,#ffec00 153px,#f9ff06 175px,#daff25 222px,#f0ff0f 251px,#fff800 261px,#ffd200 285px,#ffd300 299px,#fff200 316px,#f9ff06 330px,#f2ff0d 341px,#fff900 356px,#ffb000 383px,#ffa700 446px,#ffb100 460px,#ffd300 466px,#fcff03 470px,#baff45 475px,#b2ff4d 478px,#e0ff1f 486px,#e3ff1c 502px)"></i><i style="height:4px;background:linear-gradient(90deg,#ff8800 0px,#ff9e00 59px,#ff9200 70px,#ff9700 75px,#ffe800 92px,#ffed00 129px,#fffc00 166px,#ddff22 222px,#f3ff0c 251px,#fffc00 261px,#ffe400 286px,#ffd700 298px,#ffd200 305px,#fdff02 332px,#fdff02 342px,#ffeb00 357px,#ffb200 379px,#ffa300 449px,#ffb300 457px,#ffef00 466px,#feff01 468px,#bdff42 475px,#bdff42 478px,#e9ff16 486px,#edff12 502px)"></i><i style="height:4px;background:linear-gradient(90deg,#ff8600 0px,#ff9300 49px,#ff9700 68px,#ff9400 74px,#ffe900 92px,#fff300 121px,#faff05 172px,#e2ff1d 223px,#ebff14 245px,#f6ff09 259px,#eaff15 266px,#f6ff09 280px,#fffb00 294px,#ffd300 302px,#ffdd00 312px,#fffb00 337px,#ffd700 358px,#ffb100 375px,#ffa400 448px,#ffbf00 455px,#faff05 465px,#bfff40 473px,#c0ff3f 477px,#ecff13 486px,#efff10 502px)"></i><i style="height:4px;background:linear-gradient(90deg,#ff8600 0px,#ff8f00 73px,#ffe700 91px,#fff700 109px,#faff05 172px,#e7ff18 222px,#efff10 242px,#ecff13 251px,#ecff13 257px,#ceff31 266px,#d2ff2d 280px,#daff25 290px,#ffff00 296px,#ffda00 302px,#ffda00 311px,#fff200 336px,#ffb000 370px,#ffa300 442px,#ffbd00 450px,#ffff00 459px,#b6ff49 472px,#c1ff3e 477px,#e6ff19 486px,#efff10 502px)"></i><i style="height:4px;background:linear-gradient(90deg,#ff8600 0px,#ff8a00 72px,#ffe400 90px,#fff900 107px,#f9ff06 174px,#ecff13 221px,#f3ff0c 240px,#e0ff1f 256px,#b4ff4b 266px,#b1ff4e 286px,#d2ff2d 292px,#ffff00 297px,#ffe200 302px,#ffdd00 313px,#ffe700 336px,#ffb000 363px,#ffa400 437px,#ffc200 446px,#fffe00 454px,#c6ff39 463px,#aeff51 470px,#c2ff3d 477px,#d4ff2b 484px,#edff12 502px)"></i><i style="height:4px;background:linear-gradient(90deg,#ff8600 0px,#ff8a00 72px,#ffe100 89px,#fffa00 107px,#f6ff09 194px,#f1ff0e 220px,#f6ff09 238px,#d3ff2c 255px,#98ff67 267px,#8dff72 283px,#a5ff5a 288px,#ffff00 298px,#ffe800 303px,#ffe100 320px,#ffdc00 336px,#ffb200 355px,#ffa400 432px,#ffc100 441px,#fdff02 450px,#b2ff4d 460px,#a0ff5f 467px,#d0ff2f 481px,#dbff24 499px,#dfff20 502px)"></i><i style="height:4px;background:linear-gradient(90deg,#ff8600 0px,#ff8a00 72px,#ffe000 88px,#fffd00 106px,#f0ff0f 205px,#f3ff0c 226px,#f1ff0e 237px,#ccff33 253px,#83ff7c 267px,#75ff8a 282px,#8fff70 287px,#fdff02 299px,#ffea00 306px,#ffd400 335px,#ffb200 350px,#ffa400 428px,#ffc700 438px,#fbff04 446px,#9cff63 458px,#8dff72 463px,#a3ff5c 470px,#ceff31 479px,#d1ff2e 502px)"></i><i style="height:4px;background:linear-gradient(90deg,#ff8600 0px,#ff8a00 72px,#ffe200 87px,#fdff02 102px,#e8ff17 206px,#e9ff16 226px,#e3ff1c 236px,#b7ff48 254px,#77ff88 267px,#6cff93 282px,#8cff73 288px,#feff01 301px,#ffeb00 310px,#ffd900 324px,#ffca00 335px,#ffb300 349px,#ffa400 425px,#ffce00 436px,#fffe00 442px,#92ff6d 455px,#7dff82 460px,#91ff6e 467px,#ccff33 478px,#cfff30 502px)"></i><i style="height:4px;background:linear-gradient(90deg,#ff8600 0px,#ff8b00 67px,#ff9f00 74px,#ffec00 88px,#fbff04 98px,#f0ff0f 128px,#e1ff1e 204px,#ddff22 226px,#d6ff29 235px,#9aff65 257px,#6eff91 267px,#64ff9b 281px,#82ff7d 288px,#f8ff07 302px,#fff200 308px,#ffd400 323px,#ffb500 347px,#ffa400 424px,#ffd100 435px,#fffc00 440px,#7eff81 455px,#6fff90 459px,#8cff73 467px,#c9ff36 477px,#cfff30 502px)"></i><i style="height:4px;background:linear-gradient(90deg,#ff8600 0px,#ff8c00 55px,#ffc800 77px,#fdff02 93px,#eaff15 115px,#dbff24 201px,#cbff34 233px,#81ff7e 259px,#65ff9a 267px,#5dffa2 280px,#88ff77 290px,#f7ff08 304px,#fff500 309px,#ffcf00 323px,#ffb600 347px,#ffae00 375px,#ffa500 424px,#ffd500 435px,#fffb00 439px,#74ff8b 454px,#63ff9c 458px,#7bff84 465px,#bfff40 475px,#cdff32 488px,#cfff30 502px)"></i><i style="height:4px;background:linear-gradient(90deg,#ff8600 0px,#ff8c00 42px,#ffd100 67px,#ffd900 81px,#fcff03 91px,#e5ff1a 111px,#d3ff2c 200px,#bfff40 232px,#7dff82 255px,#5cffa3 268px,#58ffa7 280px,#8dff72 292px,#fbff04 307px,#ffca00 323px,#ffb900 351px,#ffb200 378px,#ffa200 422px,#ffc600 432px,#fcff03 439px,#65ff9a 454px,#58ffa7 458px,#7bff84 466px,#b8ff47 474px,#c5ff3a 490px,#caff35 502px)"></i><i style="height:4px;background:linear-gradient(90deg,#ff8600 0px,#ff8d00 30px,#ffcf00 53px,#ffdd00 81px,#fdff02 90px,#e7ff18 103px,#daff25 135px,#cbff34 200px,#b4ff4b 232px,#6fff90 255px,#54ffab 275px,#62ff9d 282px,#a5ff5a 296px,#fcff03 308px,#ffc800 323px,#ffbb00 353px,#ffb500 382px,#ffa200 417px,#ffab00 425px,#ffd800 434px,#ffff00 438px,#62ff9d 453px,#51ffae 457px,#6dff92 464px,#b9ff46 474px,#c1ff3e 502px)"></i><i style="height:4px;background:linear-gradient(90deg,#ff8600 0px,#ff8f00 18px,#ffcf00 40px,#ffdb00 81px,#fcff03 91px,#d3ff2c 116px,#cbff34 149px,#caff35 192px,#acff53 234px,#6fff90 255px,#62ff9d 277px,#b5ff4a 297px,#ffff00 308px,#ffca00 323px,#ffbd00 351px,#ffb800 387px,#ffa300 416px,#ffad00 424px,#ffe400 434px,#fdff02 437px,#78ff87 450px,#54ffab 455px,#5effa1 460px,#8dff72 467px,#b9ff46 473px,#bfff40 497px,#bfff40 502px)"></i><i style="height:4px;background:linear-gradient(90deg,#ff8900 0px,#ffa400 13px,#ffcd00 26px,#ffd600 52px,#ffdc00 82px,#fbff04 93px,#d9ff26 109px,#c7ff38 117px,#b8ff47 143px,#c7ff38 184px,#a4ff5b 237px,#75ff8a 255px,#74ff8b 276px,#c9ff36 298px,#fdff02 306px,#ffcc00 323px,#ffbf00 348px,#ffbb00 392px,#ffa400 418px,#ffb300 424px,#fff200 434px,#f9ff06 436px,#8cff73 447px,#59ffa6 454px,#5dffa2 458px,#91ff6e 466px,#baff45 472px,#bfff40 502px)"></i><i style="height:4px;background:linear-gradient(90deg,#ffaa00 0px,#ffd100 16px,#ffdc00 79px,#fff700 91px,#f1ff0e 99px,#d7ff28 109px,#bcff43 117px,#a7ff58 139px,#c1ff3e 183px,#9eff61 240px,#7fff80 253px,#87ff78 275px,#d8ff27 298px,#fffe00 305px,#ffce00 323px,#ffc100 346px,#ffbe00 397px,#ffa700 419px,#ffbf00 425px,#fcff03 434px,#8aff75 446px,#5cffa3 453px,#61ff9e 457px,#96ff69 465px,#bbff44 471px,#bfff40 502px)"></i><i style="height:4px;background:linear-gradient(90deg,#ffd000 0px,#ffdc00 71px,#fff200 91px,#f8ff07 98px,#d5ff2a 109px,#b0ff4f 119px,#96ff69 138px,#bcff43 182px,#97ff68 243px,#8aff75 254px,#98ff67 273px,#f1ff0e 300px,#fffc00 304px,#ffcd00 325px,#ffc300 345px,#ffc000 402px,#ffae00 420px,#ffce00 426px,#fffc00 432px,#7aff85 447px,#5fffa0 452px,#6aff95 457px,#baff45 469px,#bfff40 502px)"></i><i style="height:4px;background:linear-gradient(90deg,#ffd500 0px,#ffdb00 63px,#ffe900 82px,#fff600 94px,#f4ff0b 101px,#9fff60 122px,#88ff77 138px,#b6ff49 182px,#93ff6c 248px,#a5ff5a 271px,#fffa00 303px,#ffcd00 326px,#ffc500 349px,#ffc300 407px,#ffb900 420px,#ffe000 427px,#fffe00 431px,#74ff8b 447px,#62ff9d 452px,#81ff7e 459px,#b7ff48 467px,#bfff40 480px,#bfff40 502px)"></i><i style="height:4px;background:linear-gradient(90deg,#ffd600 0px,#ffdc00 56px,#ffe900 76px,#fff300 93px,#f9ff06 100px,#92ff6d 124px,#80ff7f 137px,#b3ff4c 182px,#91ff6e 242px,#a9ff56 271px,#fffe00 300px,#ffcb00 328px,#ffc500 413px,#ffc400 420px,#fdff02 430px,#a0ff5f 441px,#6aff95 448px,#68ff97 452px,#a2ff5d 462px,#bcff43 467px,#bfff40 502px)"></i><i style="height:4px;background:linear-gradient(90deg,#ffd600 0px,#ffdc00 48px,#ffe900 68px,#fff000 90px,#f9ff06 100px,#acff53 117px,#89ff76 125px,#7cff83 137px,#b1ff4e 181px,#95ff6a 222px,#8bff74 245px,#abff54 273px,#feff01 298px,#ffca00 330px,#ffcd00 419px,#ffff00 428px,#a5ff5a 440px,#6eff91 447px,#6eff91 451px,#bbff44 465px,#bfff40 502px)"></i><i style="height:4px;background:linear-gradient(90deg,#ffd600 0px,#ffdc00 40px,#ffe900 60px,#ffef00 88px,#f9ff06 100px,#b1ff4e 116px,#83ff7c 125px,#79ff86 137px,#b0ff4f 180px,#98ff67 217px,#82ff7d 243px,#9cff63 263px,#b2ff4d 277px,#f9ff06 295px,#ffe600 313px,#ffcb00 330px,#ffd300 418px,#fcff03 427px,#a4ff5b 440px,#76ff89 446px,#75ff8a 450px,#baff45 463px,#bfff40 502px)"></i><i style="height:4px;background:linear-gradient(90deg,#ffd600 0px,#ffdc00 33px,#ffe900 51px,#fff100 81px,#f9ff06 100px,#bcff43 114px,#7dff82 125px,#76ff89 138px,#acff53 177px,#9dff62 211px,#7bff84 243px,#9bff64 264px,#afff50 277px,#fcff03 295px,#ffe300 315px,#ffcd00 330px,#ffd800 418px,#ffff00 426px,#b2ff4d 439px,#83ff7c 446px,#89ff76 451px,#bdff42 461px,#bfff40 502px)"></i><i style="height:4px;background:linear-gradient(90deg,#ffd600 0px,#ffdd00 26px,#ffe900 47px,#fff200 72px,#feff01 93px,#f2ff0d 102px,#bbff44 114px,#79ff86 125px,#74ff8b 139px,#a5ff5a 172px,#a9ff56 190px,#94ff6b 215px,#76ff89 245px,#99ff66 265px,#abff54 277px,#ffff00 296px,#ffdd00 318px,#ffcf00 331px,#ffdc00 418px,#fdff02 426px,#c2ff3d 438px,#98ff67 445px,#97ff68 450px,#cbff34 460px,#bfff40 494px,#bfff40 502px)"></i><i style="height:4px;background:linear-gradient(90deg,#ffd600 0px,#ffe100 21px,#fff200 63px,#ffff00 84px,#f3ff0c 101px,#baff45 114px,#79ff86 125px,#75ff8a 140px,#9bff64 165px,#a6ff59 182px,#93ff6c 211px,#6eff91 247px,#89ff76 263px,#97ff68 275px,#ffff00 296px,#ffd200 327px,#ffe000 418px,#fbff04 426px,#a9ff56 446px,#aeff51 451px,#d9ff26 460px,#d0ff2f 473px,#bfff40 493px,#bfff40 502px)"></i><i style="height:4px;background:linear-gradient(90deg,#ffd600 0px,#ffe900 29px,#fff200 53px,#ffff00 74px,#f9ff06 96px,#daff25 107px,#98ff67 119px,#79ff86 126px,#7cff83 143px,#94ff6b 159px,#a0ff5f 179px,#86ff79 214px,#64ff9b 249px,#73ff8c 260px,#74ff8b 271px,#a9ff56 283px,#e1ff1e 292px,#feff01 296px,#ffd500 321px,#ffe300 418px,#fbff04 426px,#bbff44 448px,#deff21 460px,#d6ff29 481px,#c0ff3f 500px,#c0ff3f 502px)"></i><i style="height:4px;background:linear-gradient(90deg,#ffda00 0px,#ffe900 20px,#fff300 44px,#ffff00 66px,#f5ff0a 95px,#dcff23 106px,#82ff7d 124px,#79ff86 135px,#93ff6c 157px,#98ff67 178px,#89ff76 201px,#5dffa2 243px,#59ffa6 251px,#5dffa2 259px,#55ffaa 269px,#76ff89 277px,#bdff42 289px,#fdff02 296px,#ffe900 306px,#ffd800 322px,#ffe800 420px,#f9ff06 428px,#d1ff2e 446px,#d7ff28 452px,#dfff20 464px,#d6ff29 492px,#c9ff36 502px)"></i><i style="height:4px;background:linear-gradient(90deg,#ffe500 0px,#fff200 34px,#ffff00 55px,#ecff13 87px,#e0ff1f 104px,#87ff78 124px,#7dff82 134px,#92ff6d 156px,#90ff6f 177px,#7eff81 196px,#5cffa3 240px,#4cffb3 251px,#43ffbc 260px,#38ffc7 268px,#55ffaa 275px,#a1ff5e 287px,#faff05 296px,#ffe300 307px,#ffdb00 324px,#ffed00 423px,#f8ff07 431px,#e4ff1b 449px,#e8ff17 457px,#dfff20 477px,#dbff24 502px)"></i><i style="height:4px;background:linear-gradient(90deg,#ffe900 0px,#fff300 25px,#fdff02 46px,#e0ff1f 92px,#dcff23 104px,#8eff71 123px,#81ff7e 133px,#91ff6e 155px,#87ff78 177px,#72ff8d 196px,#59ffa6 238px,#1fffe0 267px,#3bffc4 274px,#86ff79 285px,#f7ff08 296px,#fff200 300px,#ffdf00 311px,#fff200 426px,#faff05 435px,#f7ff08 450px,#f7ff08 458px,#e0ff1f 472px,#dfff20 502px)"></i><i style="height:4px;background:linear-gradient(90deg,#ffe900 0px,#faff05 33px,#e0ff1f 72px,#daff25 104px,#91ff6e 123px,#83ff7c 133px,#90ff6f 153px,#81ff7e 176px,#6aff95 196px,#58ffa7 236px,#0dfff2 266px,#22ffdd 272px,#71ff8e 284px,#ecff13 296px,#fffc00 300px,#ffed00 309px,#fffb00 428px,#f9ff06 464px,#e0ff1f 479px,#dfff20 502px)"></i><i style="height:4px;background:linear-gradient(90deg,#ffee00 0px,#faff05 16px,#e0ff1f 50px,#daff25 104px,#91ff6e 123px,#84ff7b 134px,#8cff73 152px,#7bff84 176px,#68ff97 195px,#59ffa6 234px,#19ffe6 258px,#04fffb 265px,#17ffe8 271px,#76ff89 286px,#d7ff28 296px,#f0ff0f 303px,#eeff11 393px,#f9ff06 420px,#fbff04 470px,#e0ff1f 486px,#dfff20 502px)"></i><i style="height:4px;background:linear-gradient(90deg,#fbff04 0px,#e1ff1e 25px,#d9ff26 104px,#8eff71 124px,#84ff7b 135px,#87ff78 154px,#72ff8d 179px,#66ff99 198px,#5affa5 232px,#1fffe0 255px,#00feff 262px,#06fff9 268px,#78ff87 288px,#beff41 296px,#ceff31 303px,#cdff32 367px,#edff12 407px,#f2ff0d 422px,#fffa00 431px,#faff05 478px,#e0ff1f 494px,#dfff20 502px)"></i><i style="height:4px;background:linear-gradient(90deg,#e4ff1b 0px,#d8ff27 96px,#c9ff36 109px,#8eff71 124px,#85ff7a 137px,#76ff89 172px,#64ff9b 193px,#59ffa6 231px,#24ffdb 252px,#00fcff 259px,#00f9ff 265px,#0cfff3 270px,#57ffa8 282px,#72ff8d 289px,#a3ff5c 296px,#a9ff56 308px,#afff50 347px,#e1ff1e 395px,#e7ff18 411px,#fffb00 421px,#fff200 431px,#ffff00 442px,#f9ff06 486px,#e0ff1f 501px,#e0ff1f 502px)"></i><i style="height:4px;background:linear-gradient(90deg,#dfff20 0px,#d8ff27 80px,#c9ff36 109px,#8eff71 124px,#7eff81 152px,#62ff9d 193px,#55ffaa 230px,#27ffd8 249px,#00f9ff 256px,#00efff 261px,#06fff9 269px,#58ffa7 282px,#71ff8e 291px,#87ff78 297px,#96ff69 330px,#d5ff2a 383px,#dbff24 400px,#fffa00 413px,#ffef00 428px,#ffff00 442px,#f9ff06 493px,#e7ff18 502px)"></i><i style="height:4px;background:linear-gradient(90deg,#dfff20 0px,#d8ff27 64px,#c9ff36 109px,#8cff73 124px,#5effa1 191px,#51ffae 227px,#22ffdd 246px,#00fbff 252px,#00e5ff 257px,#00f6ff 266px,#06fff9 269px,#56ffa9 281px,#75ff8a 303px,#c9ff36 372px,#cfff30 390px,#fffd00 403px,#ffef00 416px,#fff600 433px,#ffff00 445px,#f9ff06 501px,#f8ff07 502px)"></i><i style="height:4px;background:linear-gradient(90deg,#dfff20 0px,#d6ff29 52px,#caff35 109px,#88ff77 122px,#73ff8c 142px,#55ffaa 192px,#4affb5 225px,#0cfff3 245px,#00fbff 248px,#00d9ff 256px,#00e2ff 262px,#00ffff 267px,#5bffa4 281px,#bdff42 362px,#c5ff3a 380px,#fffe00 394px,#ffef00 405px,#fff300 432px,#ffff00 442px,#ffff00 502px)"></i><i style="height:4px;background:linear-gradient(90deg,#dfff20 0px,#d2ff2d 43px,#ccff33 109px,#acff53 114px,#80ff7f 121px,#65ff9a 139px,#58ffa7 166px,#4affb5 198px,#3fffc0 225px,#00fbff 243px,#00d2ff 256px,#00ddff 261px,#02fffd 266px,#5dffa2 280px,#b1ff4e 353px,#bbff44 370px,#f4ff0b 382px,#fff800 387px,#ffef00 408px,#fff300 432px,#ffff00 442px,#ffff00 502px)"></i><i style="height:4px;background:linear-gradient(90deg,#dfff20 0px,#cfff30 56px,#caff35 106px,#adff52 111px,#88ff77 117px,#68ff97 126px,#57ffa8 140px,#53ffac 161px,#3fffc0 194px,#34ffcb 224px,#0ffff0 235px,#00fcff 238px,#00dbff 244px,#00d5ff 255px,#00efff 262px,#06fff9 265px,#62ff9d 280px,#a6ff59 345px,#afff50 359px,#e3ff1c 370px,#fffd00 376px,#ffef00 388px,#fff300 432px,#ffff00 442px,#ffff00 502px)"></i><i style="height:4px;background:linear-gradient(90deg,#daff25 0px,#cfff30 45px,#caff35 100px,#adff52 105px,#70ff8f 111px,#68ff97 114px,#75ff8a 119px,#51ffae 131px,#48ffb7 141px,#48ffb7 161px,#33ffcc 197px,#29ffd6 222px,#0afff5 233px,#00f5ff 236px,#00b5ff 244px,#00b0ff 249px,#03fffc 263px,#63ff9c 279px,#9bff64 337px,#a4ff5b 350px,#d4ff2b 358px,#feff01 364px,#ffef00 378px,#fff300 432px,#ffff00 442px,#ffff00 502px)"></i><i style="height:4px;background:linear-gradient(90deg,#d1ff2e 0px,#cbff34 94px,#b0ff4f 99px,#66ff99 106px,#53ffac 111px,#5dffa2 116px,#6cff93 120px,#44ffbb 131px,#3affc5 141px,#3dffc2 161px,#26ffd9 199px,#1bffe4 222px,#00fcff 232px,#008dff 245px,#0083ff 249px,#00a8ff 254px,#00fcff 262px,#56ffa9 275px,#6cff93 282px,#90ff6f 332px,#90ff6f 347px,#adff52 350px,#f5ff0a 355px,#fff700 357px,#ffe400 362px,#ffef00 379px,#fff300 432px,#ffff00 442px,#ffff00 502px)"></i><i style="height:4px;background:linear-gradient(90deg,#cfff30 0px,#cbff34 88px,#b1ff4e 93px,#61ff9e 101px,#51ffae 107px,#57ffa8 117px,#64ff9b 122px,#3cffc3 132px,#32ffcd 143px,#33ffcc 161px,#1affe5 194px,#0cfff3 222px,#00f9ff 229px,#00d9ff 234px,#0072ff 245px,#0066ff 249px,#007dff 253px,#00c7ff 259px,#04fffb 263px,#32ffcd 268px,#63ff9c 277px,#86ff79 324px,#80ff7f 338px,#6eff91 347px,#80ff7f 350px,#f8ff07 358px,#ffed00 361px,#ffe700 366px,#ffef00 381px,#fff300 432px,#ffff00 442px,#ffff00 502px)"></i><i style="height:4px;background:linear-gradient(90deg,#cfff30 0px,#cbff34 82px,#b1ff4e 87px,#62ff9d 95px,#51ffae 101px,#56ffa9 119px,#5fffa0 124px,#39ffc6 134px,#2fffd0 145px,#2cffd3 159px,#0efff1 186px,#00faff 223px,#00ddff 231px,#0070ff 243px,#0063ff 247px,#007cff 252px,#00afff 257px,#00fdff 262px,#31ffce 267px,#61ff9e 276px,#7eff81 322px,#60ff9f 347px,#6aff95 353px,#8cff73 357px,#fbff04 365px,#ffef00 371px,#fff300 432px,#ffff00 442px,#ffff00 502px)"></i><i style="height:4px;background:linear-gradient(90deg,#cfff30 0px,#cbff34 76px,#b1ff4e 81px,#62ff9d 89px,#51ffae 95px,#55ffaa 122px,#55ffaa 127px,#32ffcd 138px,#21ffde 160px,#00feff 183px,#00e6ff 225px,#00ccff 231px,#0076ff 241px,#006bff 245px,#0085ff 250px,#00c5ff 257px,#00fdff 261px,#30ffcf 266px,#5fffa0 275px,#74ff8b 318px,#60ff9f 339px,#65ff9a 358px,#7eff81 362px,#afff50 365px,#eeff11 368px,#fcff03 369px,#fff000 373px,#fff300 432px,#ffff00 442px,#ffff00 502px)"></i><i style="height:4px;background:linear-gradient(90deg,#cfff30 0px,#cbff34 70px,#b1ff4e 75px,#62ff9d 83px,#51ffae 89px,#4cffb3 124px,#4effb1 129px,#28ffd7 144px,#16ffe9 161px,#00f9ff 175px,#00edff 185px,#00d5ff 226px,#00b4ff 232px,#0087ff 239px,#007dff 244px,#0096ff 249px,#00e7ff 258px,#01fffe 260px,#30ffcf 265px,#59ffa6 273px,#6cff93 311px,#60ff9f 336px,#64ff9b 362px,#75ff8a 364px,#9cff63 366px,#e8ff17 369px,#f9ff06 370px,#fff000 374px,#fff300 432px,#ffff00 442px,#ffff00 502px)"></i><i style="height:4px;background:linear-gradient(90deg,#cfff30 0px,#cbff34 64px,#b1ff4e 69px,#62ff9d 77px,#51ffae 83px,#47ffb8 113px,#44ffbb 125px,#49ffb6 131px,#20ffdf 149px,#00f9ff 169px,#00deff 182px,#00d2ff 210px,#00c1ff 228px,#0098ff 239px,#0097ff 245px,#00c9ff 252px,#00feff 258px,#3dffc2 266px,#58ffa7 273px,#63ff9c 309px,#62ff9d 362px,#78ff87 365px,#bfff40 368px,#eeff11 370px,#feff01 371px,#ffef00 375px,#fff300 432px,#ffff00 442px,#ffff00 502px)"></i><i style="height:4px;background:linear-gradient(90deg,#cfff30 0px,#cbff34 58px,#b1ff4e 63px,#62ff9d 71px,#51ffae 77px,#47ffb8 105px,#42ffbd 126px,#44ffbb 133px,#01fffe 157px,#00d0ff 180px,#00c8ff 203px,#00b3ff 234px,#00a9ff 243px,#00cdff 249px,#02fffd 255px,#3effc1 264px,#54ffab 273px,#59ffa6 294px,#62ff9d 363px,#6fff90 365px,#93ff6c 367px,#e1ff1e 370px,#fffc00 372px,#ffef00 376px,#fff300 432px,#ffff00 442px,#ffff00 502px)"></i><i style="height:4px;background:linear-gradient(90deg,#cfff30 0px,#cbff34 52px,#b1ff4e 57px,#62ff9d 65px,#51ffae 71px,#47ffb8 98px,#42ffbd 129px,#3cffc3 136px,#19ffe6 145px,#00ffff 149px,#00c2ff 174px,#00c2ff 195px,#00b8ff 210px,#00baff 235px,#00baff 241px,#00e0ff 247px,#03fffc 251px,#38ffc7 259px,#4effb1 269px,#53ffac 289px,#57ffa8 312px,#60ff9f 346px,#64ff9b 364px,#75ff8a 366px,#9eff61 368px,#ebff14 371px,#fbff04 372px,#ffef00 376px,#fff300 432px,#ffff00 442px,#ffff00 502px)"></i><i style="height:4px;background:linear-gradient(90deg,#cfff30 0px,#cbff34 46px,#b1ff4e 51px,#62ff9d 59px,#51ffae 65px,#45ffba 92px,#38ffc7 137px,#16ffe9 144px,#00fcff 147px,#00d8ff 153px,#00b0ff 174px,#00bcff 189px,#00a9ff 206px,#00b7ff 222px,#00caff 239px,#05fffa 247px,#37ffc8 255px,#52ffad 275px,#56ffa9 320px,#60ff9f 350px,#66ff99 365px,#7bff84 367px,#f1ff0e 372px,#fffe00 373px,#fff000 376px,#fff300 432px,#ffff00 442px,#ffff00 502px)"></i><i style="height:4px;background:linear-gradient(90deg,#cfff30 0px,#caff35 41px,#a9ff56 46px,#62ff9d 53px,#51ffae 59px,#44ffbb 85px,#34ffcb 134px,#2fffd0 139px,#02fffd 145px,#00c7ff 152px,#00a2ff 169px,#00b4ff 188px,#009fff 204px,#00d4ff 235px,#01fffe 242px,#32ffcd 250px,#3effc1 259px,#45ffba 265px,#51ffae 273px,#56ffa9 330px,#60ff9f 359px,#68ff97 366px,#81ff7e 368px,#e4ff1b 372px,#f7ff08 373px,#fff400 375px,#fff200 431px,#ffff00 442px,#ffff00 502px)"></i><i style="height:4px;background:linear-gradient(90deg,#cfff30 0px,#caff35 35px,#adff52 40px,#64ff9b 47px,#52ffad 52px,#43ffbc 78px,#31ffce 134px,#28ffd7 140px,#00feff 145px,#00c3ff 152px,#00a6ff 163px,#00a6ff 172px,#00baff 186px,#00a5ff 202px,#00ddff 231px,#00ffff 237px,#2effd1 245px,#38ffc7 256px,#35ffca 263px,#50ffaf 270px,#56ffa9 340px,#65ff9a 366px,#78ff87 368px,#beff41 371px,#eeff11 373px,#fdff02 374px,#ffef00 378px,#fff300 432px,#ffff00 442px,#ffff00 502px)"></i><i style="height:4px;background:linear-gradient(90deg,#cfff30 0px,#caff35 29px,#adff52 34px,#66ff99 41px,#51ffae 47px,#30ffcf 121px,#2cffd3 139px,#0ffff0 144px,#00f3ff 147px,#00c6ff 154px,#00b2ff 165px,#00cdff 185px,#00beff 201px,#00efff 228px,#04fffb 232px,#32ffcd 244px,#37ffc8 264px,#4fffb0 272px,#56ffa9 349px,#67ff98 367px,#7dff82 369px,#f4ff0b 374px,#fffd00 375px,#ffef00 379px,#fff300 432px,#ffff00 442px,#ffff00 502px)"></i><i style="height:4px;background:linear-gradient(90deg,#cfff30 0px,#caff35 23px,#adff52 28px,#66ff99 35px,#51ffae 41px,#30ffcf 107px,#25ffda 139px,#0efff1 145px,#00f7ff 148px,#00cdff 157px,#00c8ff 165px,#00e1ff 183px,#00dcff 201px,#04fffb 225px,#15ffea 231px,#04fffb 237px,#2fffd0 244px,#36ffc9 266px,#4fffb0 275px,#56ffa9 359px,#61ff9e 367px,#71ff8e 369px,#98ff67 371px,#e5ff1a 374px,#f7ff08 375px,#fff400 377px,#fff200 431px,#ffff00 442px,#ffff00 502px)"></i><i style="height:4px;background:linear-gradient(90deg,#cfff30 0px,#caff35 17px,#adff52 22px,#66ff99 29px,#51ffae 35px,#30ffcf 94px,#26ffd9 127px,#1affe5 144px,#00fcff 150px,#00daff 158px,#00e3ff 167px,#00f4ff 181px,#00f9ff 201px,#0efff1 218px,#1dffe2 230px,#00fbff 236px,#06fff9 239px,#2affd5 243px,#30ffcf 258px,#36ffc9 269px,#4fffb0 277px,#56ffa9 367px,#6aff95 370px,#92ff6d 372px,#e1ff1e 375px,#fffd00 377px,#ffef00 381px,#fff300 432px,#ffff00 442px,#ffff00 502px)"></i><i style="height:4px;background:linear-gradient(90deg,#cfff30 0px,#c7ff38 12px,#a3ff5c 17px,#66ff99 23px,#51ffae 29px,#30ffcf 80px,#26ffd9 116px,#1affe5 147px,#00f9ff 152px,#00e1ff 157px,#00e8ff 165px,#00fcff 173px,#05fffa 198px,#20ffdf 227px,#1bffe4 239px,#30ffcf 246px,#35ffca 271px,#4fffb0 280px,#54ffab 369px,#62ff9d 371px,#86ff79 373px,#edff12 377px,#fcff03 378px,#fff000 382px,#fff300 432px,#ffff00 442px,#ffff00 502px)"></i><i style="height:4px;background:linear-gradient(90deg,#cfff30 0px,#c2ff3d 7px,#98ff67 12px,#5fffa0 18px,#50ffaf 25px,#30ffcf 67px,#27ffd8 103px,#1bffe4 148px,#00faff 152px,#00e2ff 156px,#00e4ff 164px,#00feff 171px,#05fffa 197px,#10ffef 208px,#20ffdf 224px,#27ffd8 242px,#30ffcf 256px,#35ffca 274px,#4fffb0 283px,#52ffad 370px,#67ff98 373px,#91ff6e 375px,#e1ff1e 378px,#fffd00 380px,#ffef00 384px,#fff300 432px,#ffff00 442px,#ffff00 502px)"></i><i style="height:4px;background:linear-gradient(90deg,#c5ff3a 0px,#a3ff5c 5px,#66ff99 11px,#51ffae 17px,#31ffce 52px,#27ffd8 91px,#1bffe4 148px,#00faff 152px,#00e1ff 156px,#00e4ff 164px,#00feff 171px,#05fffa 197px,#10ffef 207px,#20ffdf 225px,#26ffd9 244px,#30ffcf 257px,#36ffc9 277px,#4fffb0 285px,#53ffac 372px,#60ff9f 374px,#82ff7d 376px,#e9ff16 380px,#faff05 381px,#fff000 385px,#fff300 432px,#ffff00 442px,#ffff00 502px)"></i><i style="height:4px;background:linear-gradient(90deg,#8dff72 0px,#5affa5 7px,#32ffcd 36px,#27ffd8 80px,#1bffe4 148px,#00faff 152px,#00e1ff 156px,#00e4ff 164px,#00feff 171px,#04fffb 197px,#10ffef 207px,#20ffdf 225px,#27ffd8 247px,#30ffcf 262px,#34ffcb 279px,#4fffb0 288px,#54ffab 374px,#65ff9a 376px,#8cff73 378px,#f1ff0e 382px,#ffff00 383px,#ffef00 387px,#fff300 432px,#ffff00 442px,#ffff00 502px)"></i><i style="height:4px;background:linear-gradient(90deg,#56ffa9 0px,#31ffce 26px,#27ffd8 68px,#20ffdf 132px,#1bffe4 148px,#00faff 152px,#00e1ff 156px,#00e4ff 164px,#00feff 171px,#04fffb 197px,#10ffef 207px,#20ffdf 225px,#25ffda 249px,#30ffcf 262px,#35ffca 282px,#4fffb0 291px,#52ffad 375px,#6bff94 378px,#b2ff4d 381px,#e5ff1a 383px,#fffb00 385px,#ffef00 389px,#fff300 432px,#ffff00 442px,#ffff00 502px)"></i><i style="height:4px;background:linear-gradient(90deg,#46ffb9 0px,#30ffcf 19px,#27ffd8 57px,#20ffdf 121px,#1bffe4 148px,#00faff 152px,#00e1ff 156px,#00e4ff 164px,#00feff 171px,#04fffb 197px,#10ffef 207px,#20ffdf 225px,#26ffd9 252px,#30ffcf 266px,#36ffc9 285px,#4fffb0 293px,#54ffab 377px,#62ff9d 379px,#87ff78 381px,#edff12 385px,#fdff02 386px,#fff000 390px,#fff300 432px,#ffff00 442px,#ffff00 502px)"></i><i style="height:4px;background:linear-gradient(90deg,#34ffcb 0px,#26ffd9 46px,#1bffe4 148px,#00faff 152px,#00e1ff 156px,#00e4ff 164px,#00feff 171px,#04fffb 197px,#10ffef 207px,#20ffdf 225px,#25ffda 254px,#30ffcf 267px,#35ffca 287px,#4fffb0 296px,#52ffad 378px,#67ff98 381px,#91ff6e 383px,#e1ff1e 386px,#fffd00 388px,#ffef00 392px,#fff300 432px,#ffff00 442px,#ffff00 502px)"></i><i style="height:4px;background:linear-gradient(90deg,#30ffcf 0px,#27ffd8 34px,#20ffdf 101px,#1bffe4 148px,#00faff 152px,#00e1ff 156px,#00e4ff 164px,#00feff 171px,#04fffb 197px,#10ffef 207px,#20ffdf 225px,#25ffda 257px,#30ffcf 270px,#36ffc9 290px,#4fffb0 298px,#53ffac 380px,#60ff9f 382px,#82ff7d 384px,#eaff15 388px,#faff05 389px,#fff000 393px,#fff300 432px,#ffff00 442px,#ffff00 502px)"></i><i style="height:3px;background:linear-gradient(90deg,#30ffcf 0px,#2affd5 21px,#20ffdf 48px,#1bffe4 148px,#00faff 152px,#00e1ff 156px,#00e4ff 164px,#00feff 171px,#04fffb 197px,#10ffef 207px,#20ffdf 225px,#25ffda 259px,#30ffcf 270px,#35ffca 292px,#4fffb0 300px,#55ffaa 382px,#67ff98 384px,#92ff6d 386px,#e5ff1a 389px,#f8ff07 390px,#fff100 393px,#fff300 432px,#ffff00 442px,#ffff00 502px)"></i></div></div></div><div class="p" style="left:106.5px;top:594.4px"><div class="o"><div class="rw"><i style="height:5px;background:linear-gradient(90deg,#ff5900 0px,#ff6600 209px,#ff5600 244px,#ff4900 426px,#ff4600 502px)"></i><i style="height:5px;background:linear-gradient(90deg,#ff5900 0px,#ff6200 211px,#ff5700 254px,#ff4900 428px,#ff4600 502px)"></i><i style="height:5px;background:linear-gradient(90deg,#ff5a00 0px,#ff6000 156px,#ff4800 429px,#ff4600 502px)"></i><i style="height:5px;background:linear-gradient(90deg,#ff5a00 0px,#ff5f00 112px,#ff4a00 423px,#ff4600 502px)"></i><i style="height:5px;background:linear-gradient(90deg,#ff5c00 0px,#ff5f00 124px,#ff4b00 420px,#ff4600 502px)"></i><i style="height:5px;background:linear-gradient(90deg,#ff5e00 0px,#ff5e00 152px,#ff4b00 417px,#ff4600 502px)"></i><i style="height:5px;background:linear-gradient(90deg,#ff5f00 0px,#ff5f00 163px,#ff4b00 416px,#ff4600 502px)"></i><i style="height:5px;background:linear-gradient(90deg,#ff6000 0px,#ff6100 132px,#ff4c00 414px,#ff4600 502px)"></i><i style="height:5px;background:linear-gradient(90deg,#ff6100 0px,#ff6300 107px,#ff4d00 412px,#ff4600 502px)"></i><i style="height:5px;background:linear-gradient(90deg,#ff6500 0px,#ff6100 165px,#ff4d00 411px,#ff4700 502px)"></i><i style="height:5px;background:linear-gradient(90deg,#ff6c00 0px,#ff4e00 407px,#ff4900 477px,#ff4900 502px)"></i><i style="height:5px;background:linear-gradient(90deg,#ff7300 0px,#ff5e00 228px,#ff4d00 408px,#ff4a00 478px,#ff4a00 502px)"></i><i style="height:5px;background:linear-gradient(90deg,#ff7700 0px,#ff6500 134px,#ff4f00 403px,#ff4900 470px,#ff4c00 502px)"></i><i style="height:5px;background:linear-gradient(90deg,#ff7900 0px,#ff6600 129px,#ff5100 399px,#ff4a00 467px,#ff4c00 502px)"></i><i style="height:5px;background:linear-gradient(90deg,#ff7c00 0px,#ff7200 56px,#ff6500 154px,#ff5400 393px,#ff4a00 463px,#ff4d00 502px)"></i><i style="height:5px;background:linear-gradient(90deg,#ff8100 0px,#ff7600 55px,#ff6a00 103px,#ff5900 382px,#ff4a00 458px,#ff4e00 502px)"></i><i style="height:5px;background:linear-gradient(90deg,#ff8800 0px,#ff7800 56px,#ff6c00 96px,#ff5f00 360px,#ff4b00 457px,#ff4f00 502px)"></i><i style="height:5px;background:linear-gradient(90deg,#ff8d00 0px,#ff7c00 55px,#ff6e00 90px,#ff6600 330px,#ff4c00 458px,#ff4f00 502px)"></i><i style="height:5px;background:linear-gradient(90deg,#ff9200 0px,#ff8100 54px,#ff7100 87px,#ff6d00 299px,#ff4d00 458px,#ff5000 502px)"></i><i style="height:5px;background:linear-gradient(90deg,#ff9900 0px,#ff8700 53px,#ff7500 86px,#ff7400 269px,#ff5400 407px,#ff5000 492px,#ff5000 502px)"></i><i style="height:5px;background:linear-gradient(90deg,#ffa300 0px,#ff8e00 53px,#ff7a00 86px,#ff7a00 241px,#ff5600 402px,#ff5100 480px,#ff5000 502px)"></i><i style="height:5px;background:linear-gradient(90deg,#ffaf00 0px,#ff9d00 47px,#ff8100 84px,#ff8000 218px,#ff5700 398px,#ff5100 476px,#ff5100 502px)"></i><i style="height:5px;background:linear-gradient(90deg,#ffbe00 0px,#ffae00 40px,#ff8900 84px,#ff8300 208px,#ff5800 395px,#ff5200 473px,#ff5300 502px)"></i><i style="height:5px;background:linear-gradient(90deg,#ffd100 0px,#ffbd00 39px,#ff9200 84px,#ff7e00 238px,#ff5900 393px,#ff5200 472px,#ff5500 502px)"></i><i style="height:5px;background:linear-gradient(90deg,#ffe300 0px,#ffc700 43px,#ff9a00 85px,#ff5b00 388px,#ff5200 468px,#ff5600 502px)"></i><i style="height:5px;background:linear-gradient(90deg,#fff100 0px,#ffd100 46px,#ffa100 87px,#ff5b00 388px,#ff5300 469px,#ff5600 502px)"></i><i style="height:5px;background:linear-gradient(90deg,#fffa00 0px,#ffd900 49px,#ffa600 89px,#ff8c00 172px,#ff5c00 386px,#ff5400 468px,#ff5700 502px)"></i><i style="height:5px;background:linear-gradient(90deg,#fbff04 0px,#fff000 39px,#ffab00 93px,#ff9100 150px,#ff5c00 385px,#ff5400 467px,#ff5800 502px)"></i><i style="height:5px;background:linear-gradient(90deg,#f4ff0b 0px,#fff900 42px,#ffb200 95px,#ff9200 148px,#ff5d00 384px,#ff5600 467px,#ff5b00 502px)"></i><i style="height:5px;background:linear-gradient(90deg,#ebff14 0px,#fffb00 50px,#ffbd00 95px,#ff9300 150px,#ff5e00 383px,#ff5700 466px,#ff5d00 502px)"></i><i style="height:5px;background:linear-gradient(90deg,#e1ff1e 0px,#f3ff0c 46px,#fff800 60px,#ffc300 99px,#ff9300 158px,#ff5e00 382px,#ff5800 465px,#ff5f00 502px)"></i><i style="height:5px;background:linear-gradient(90deg,#d3ff2c 0px,#e4ff1b 44px,#fff900 66px,#ffaf00 130px,#ff8c00 182px,#ff5f00 381px,#ff5a00 465px,#ff5f00 502px)"></i><i style="height:5px;background:linear-gradient(90deg,#c1ff3e 0px,#d7ff28 46px,#fffa00 72px,#ff9600 169px,#ff7800 277px,#ff6000 381px,#ff5c00 467px,#ff6000 502px)"></i><i style="height:5px;background:linear-gradient(90deg,#afff50 0px,#c9ff36 47px,#fffd00 78px,#ff9200 184px,#ff6c00 340px,#ff5b00 437px,#ff6100 502px)"></i><i style="height:5px;background:linear-gradient(90deg,#a3ff5c 0px,#b9ff46 46px,#f6ff09 79px,#fff400 98px,#ff9000 197px,#ff6b00 347px,#ff5e00 447px,#ff6400 502px)"></i><i style="height:5px;background:linear-gradient(90deg,#9aff65 0px,#adff52 46px,#ecff13 81px,#fff900 104px,#ff8d00 210px,#ff6b00 349px,#ff6200 456px,#ff6800 502px)"></i><i style="height:5px;background:linear-gradient(90deg,#91ff6e 0px,#a3ff5c 48px,#e2ff1d 83px,#fff900 115px,#ff8b00 223px,#ff6c00 350px,#ff6600 463px,#ff6c00 502px)"></i><i style="height:5px;background:linear-gradient(90deg,#88ff77 0px,#9bff64 50px,#d9ff26 86px,#fffa00 125px,#ff8800 236px,#ff6c00 350px,#ff6a00 472px,#ff6e00 502px)"></i><i style="height:5px;background:linear-gradient(90deg,#82ff7d 0px,#93ff6c 50px,#d3ff2c 91px,#fffa00 136px,#ff8600 249px,#ff6d00 350px,#ff6e00 485px,#ff6f00 502px)"></i><i style="height:5px;background:linear-gradient(90deg,#7fff80 0px,#8cff73 50px,#d2ff2d 101px,#fffa00 147px,#ff8300 262px,#ff6e00 349px,#ff7000 502px)"></i><i style="height:5px;background:linear-gradient(90deg,#7dff82 0px,#87ff78 51px,#f8ff07 147px,#ffea00 172px,#ff8000 276px,#ff6f00 350px,#ff7100 502px)"></i><i style="height:5px;background:linear-gradient(90deg,#79ff86 0px,#84ff7b 53px,#fffa00 168px,#ff7e00 288px,#ff7000 348px,#ff7200 502px)"></i><i style="height:5px;background:linear-gradient(90deg,#74ff8b 0px,#82ff7d 58px,#fffa00 179px,#ff7c00 301px,#ff7100 348px,#ff7400 502px)"></i><i style="height:5px;background:linear-gradient(90deg,#71ff8e 0px,#7fff80 65px,#fffb00 189px,#ff7900 314px,#ff7200 352px,#ff7500 502px)"></i><i style="height:5px;background:linear-gradient(90deg,#70ff8f 0px,#7bff84 69px,#fffb00 198px,#ff7500 326px,#ff7600 485px,#ff7600 502px)"></i><i style="height:5px;background:linear-gradient(90deg,#6fff90 0px,#74ff8b 68px,#a2ff5d 117px,#fffa00 206px,#ff7400 334px,#ff7800 502px)"></i><i style="height:5px;background:linear-gradient(90deg,#6dff92 0px,#6eff91 65px,#89ff76 100px,#fffb00 211px,#ff7500 338px,#ff7a00 502px)"></i><i style="height:5px;background:linear-gradient(90deg,#69ff96 0px,#6aff95 67px,#84ff7b 101px,#fffa00 216px,#ff7800 339px,#ff7d00 502px)"></i><i style="height:5px;background:linear-gradient(90deg,#61ff9e 0px,#69ff96 77px,#fffa00 220px,#ff7a00 340px,#ff8000 502px)"></i><i style="height:5px;background:linear-gradient(90deg,#58ffa7 0px,#69ff96 85px,#fffa00 224px,#ff7c00 341px,#ff8200 502px)"></i><i style="height:5px;background:linear-gradient(90deg,#53ffac 0px,#66ff99 88px,#fffa00 228px,#ff7e00 341px,#ff8300 502px)"></i><i style="height:5px;background:linear-gradient(90deg,#50ffaf 0px,#61ff9e 87px,#fffb00 232px,#ff8100 341px,#ff8600 502px)"></i><i style="height:5px;background:linear-gradient(90deg,#50ffaf 0px,#5cffa3 86px,#fffb00 236px,#ff8f00 328px,#ff8400 352px,#ff8800 502px)"></i><i style="height:5px;background:linear-gradient(90deg,#4fffb0 0px,#59ffa6 85px,#fffa00 241px,#ff8900 341px,#ff8a00 502px)"></i><i style="height:5px;background:linear-gradient(90deg,#4fffb0 0px,#57ffa8 86px,#fffa00 245px,#ff9000 341px,#ff9000 487px,#ff8d00 502px)"></i><i style="height:5px;background:linear-gradient(90deg,#4dffb2 0px,#57ffa8 90px,#fffa00 249px,#ff9800 341px,#ff9400 478px,#ff9400 502px)"></i><i style="height:5px;background:linear-gradient(90deg,#4cffb3 0px,#57ffa8 94px,#fffa00 253px,#ffa500 337px,#ff9a00 376px,#ff9d00 485px,#ff9b00 502px)"></i><i style="height:5px;background:linear-gradient(90deg,#4affb5 0px,#57ffa8 97px,#fffb00 256px,#ffb700 325px,#ffa400 368px,#ffa200 501px,#ffa200 502px)"></i><i style="height:5px;background:linear-gradient(90deg,#4affb5 0px,#56ffa9 99px,#fffa00 260px,#ffc500 316px,#ffb100 369px,#ffaf00 497px,#ffab00 502px)"></i><i style="height:5px;background:linear-gradient(90deg,#49ffb6 0px,#54ffab 100px,#fffa00 263px,#ffd000 310px,#ffc000 373px,#ffbf00 498px,#ffbd00 502px)"></i><i style="height:5px;background:linear-gradient(90deg,#49ffb6 0px,#52ffad 100px,#fffb00 266px,#ffd800 306px,#ffd000 377px,#ffd600 502px)"></i><i style="height:5px;background:linear-gradient(90deg,#48ffb7 0px,#50ffaf 102px,#fffa00 270px,#ffe100 303px,#ffde00 357px,#ffe000 422px,#ffed00 502px)"></i><i style="height:5px;background:linear-gradient(90deg,#45ffba 0px,#50ffaf 105px,#fffb00 273px,#ffe800 301px,#ffef00 354px,#ffee00 381px,#fff000 418px,#fffb00 502px)"></i><i style="height:5px;background:linear-gradient(90deg,#43ffbc 0px,#50ffaf 109px,#fffb00 277px,#fff100 303px,#fffe00 353px,#fffc00 382px,#fcff03 502px)"></i><i style="height:5px;background:linear-gradient(90deg,#41ffbe 0px,#4fffb0 112px,#fffc00 281px,#fffa00 308px,#f6ff09 359px,#f6ff09 500px,#f6ff09 502px)"></i><i style="height:5px;background:linear-gradient(90deg,#40ffbf 0px,#4dffb2 112px,#ffff00 285px,#f7ff08 318px,#ebff14 359px,#edff12 498px,#efff10 502px)"></i><i style="height:5px;background:linear-gradient(90deg,#3fffc0 0px,#49ffb6 108px,#9fff60 195px,#f8ff07 283px,#f6ff09 311px,#e1ff1e 355px,#e3ff1c 494px,#e8ff17 502px)"></i><i style="height:5px;background:linear-gradient(90deg,#3effc1 0px,#46ffb9 102px,#72ff8d 157px,#efff10 278px,#f3ff0c 307px,#d8ff27 354px,#daff25 491px,#e3ff1c 502px)"></i><i style="height:5px;background:linear-gradient(90deg,#3bffc4 0px,#44ffbb 100px,#75ff8a 163px,#e7ff18 274px,#eeff11 305px,#cfff30 354px,#cdff32 488px,#daff25 502px)"></i><i style="height:5px;background:linear-gradient(90deg,#36ffc9 0px,#42ffbd 97px,#78ff87 169px,#dfff20 271px,#e9ff16 303px,#c6ff39 355px,#bfff40 488px,#c6ff39 502px)"></i><i style="height:5px;background:linear-gradient(90deg,#33ffcc 0px,#40ffbf 93px,#7dff82 176px,#d8ff27 268px,#e4ff1b 301px,#bcff43 358px,#b4ff4b 460px,#aaff55 502px)"></i><i style="height:5px;background:linear-gradient(90deg,#31ffce 0px,#3dffc2 88px,#82ff7d 184px,#d2ff2d 267px,#dfff20 300px,#b1ff4e 360px,#a7ff58 459px,#9cff63 490px,#92ff6d 502px)"></i><i style="height:5px;background:linear-gradient(90deg,#30ffcf 0px,#3affc5 83px,#87ff78 192px,#cfff30 268px,#dbff24 298px,#a7ff58 361px,#9aff65 458px,#91ff6e 490px,#85ff7a 502px)"></i><i style="height:5px;background:linear-gradient(90deg,#2fffd0 0px,#38ffc7 80px,#8dff72 201px,#cfff30 273px,#d5ff2a 298px,#9eff61 360px,#8dff72 439px,#87ff78 492px,#81ff7e 502px)"></i><i style="height:5px;background:linear-gradient(90deg,#2effd1 0px,#35ffca 78px,#95ff6a 211px,#d1ff2e 282px,#cbff34 303px,#95ff6a 362px,#83ff7c 442px,#7fff80 502px)"></i><i style="height:5px;background:linear-gradient(90deg,#2cffd3 0px,#34ffcb 78px,#97ff68 217px,#ceff31 285px,#beff41 308px,#87ff78 372px,#7aff85 477px,#7aff85 502px)"></i><i style="height:5px;background:linear-gradient(90deg,#27ffd8 0px,#35ffca 81px,#9eff61 229px,#c8ff37 289px,#80ff7f 373px,#72ff8d 482px,#71ff8e 502px)"></i><i style="height:5px;background:linear-gradient(90deg,#23ffdc 0px,#35ffca 84px,#a5ff5a 244px,#beff41 291px,#7aff85 373px,#64ff9b 502px)"></i><i style="height:5px;background:linear-gradient(90deg,#21ffde 0px,#35ffca 87px,#b5ff4a 286px,#8fff70 339px,#73ff8c 376px,#5affa5 502px)"></i><i style="height:5px;background:linear-gradient(90deg,#20ffdf 0px,#36ffc9 93px,#a9ff56 281px,#a1ff5e 311px,#80ff7f 347px,#66ff99 404px,#55ffaa 502px)"></i><i style="height:5px;background:linear-gradient(90deg,#20ffdf 0px,#35ffca 97px,#4dffb2 122px,#61ff9e 160px,#95ff6a 249px,#a3ff5c 301px,#84ff7b 342px,#71ff8e 364px,#5dffa2 429px,#53ffac 502px)"></i><i style="height:2px;background:linear-gradient(90deg,#20ffdf 0px,#33ffcc 97px,#4dffb2 119px,#5cffa3 156px,#6bff94 185px,#83ff7c 230px,#9cff63 268px,#9dff62 310px,#81ff7e 343px,#70ff8f 363px,#60ff9f 409px,#53ffac 502px)"></i></div></div><div class="l" style="clip-path:path('M36.5 -0.2 L36.1 2.1 L32.5 3.9 L31.9 9.9 L27.1 12.3 L28.9 14.7 L34.9 24.4 L40.9 32.8 L48.2 38.8 L54.2 46.2 L58.3 50.4 L61.3 53.7 L63.3 57.9 L64.4 61.2 L64.8 65.0 L66.3 67.5 L66.7 70.0 L67.9 72.9 L70.0 76.6 L72.1 80.0 L74.6 84.6 L78.3 93.0 L74.6 100.2 L77.1 108.7 L80.7 115.2 L83.1 122.4 L82.5 129.6 L80.1 135.6 L77.1 138.0 L72.2 142.8 L69.2 146.5 L67.4 153.7 L66.2 160.9 L63.8 168.1 L60.8 172.9 L60.2 180.2 L61.4 185.0 L60.2 189.8 L60.2 193.4 L62.6 199.4 L67.4 204.2 L72.2 211.5 L77.1 221.1 L81.6 231.1 L89.6 243.9 L88.8 250.3 L92.9 267.9 L95.3 282.4 L99.3 292.0 L105.7 301.6 L112.9 307.2 L116.9 314.4 L121.7 327.2 L128.1 336.8 L132.1 344.8 L129.7 351.2 L127.3 352.8 L129.7 359.2 L132.9 367.2 L139.3 370.4 L148.9 372.8 L155.3 370.4 L168.1 368.0 L179.3 364.0 L192.1 365.1 L200.7 366.3 L211.5 364.5 L222.2 361.0 L234.7 353.8 L247.2 344.9 L257.9 335.9 L266.9 327.0 L274.0 318.1 L283.0 310.9 L288.3 305.6 L290.1 298.4 L291.9 289.5 L292.8 282.3 L290.1 278.7 L295.5 275.2 L304.4 269.8 L315.1 264.4 L319.6 257.3 L321.4 246.6 L320.5 235.8 L316.9 230.5 L311.6 219.8 L313.3 212.6 L318.1 207.9 L325.5 203.5 L333.0 199.0 L340.4 193.1 L349.3 188.7 L356.7 185.7 L364.1 182.7 L370.0 176.8 L375.9 167.9 L378.9 160.5 L376.7 142.7 L375.9 127.9 L376.5 120.3 L374.2 114.7 L369.4 111.1 L365.8 105.1 L364.6 99.0 L363.3 91.8 L362.1 84.6 L362.1 77.4 L358.5 72.5 L357.3 67.7 L358.5 60.5 L362.1 54.5 L365.8 49.7 L368.2 44.9 L370.6 38.8 L373.0 32.8 L380.2 26.8 L386.2 20.8 L392.2 13.5 L398.3 7.5 L406.7 0.3 L407.5 -0.2 L407.5 -11.7 L36.5 -11.7Z M471.5 132.4 L476.6 136.8 L481.1 147.2 L482.6 157.6 L484.0 167.9 L479.6 167.9 L477.4 170.9 L478.1 181.3 L475.2 187.2 L472.2 202.0 L467.8 216.8 L466.2 219.3 L461.4 231.1 L457.4 246.4 L453.4 256.7 L448.6 268.0 L438.9 272.0 L429.3 275.2 L419.7 272.0 L413.3 266.4 L410.1 258.3 L410.5 250.3 L407.0 243.3 L406.3 237.5 L409.3 231.1 L413.3 224.7 L417.5 219.3 L418.9 213.8 L415.9 202.0 L414.4 190.1 L417.4 181.2 L420.4 176.8 L429.2 173.8 L438.1 170.9 L447.0 166.4 L451.5 160.5 L457.4 153.1 L463.3 144.2 L467.8 133.8Z')"><div class="rw"><i style="height:4px;background:linear-gradient(90deg,#ff8f00 0px,#ff9500 52px,#ff9300 71px,#ff9400 159px,#ff9000 205px,#ff9300 238px,#ffbe00 246px,#ffc900 250px,#fff500 253px,#f5ff0a 254px,#c9ff36 257px,#c3ff3c 261px,#deff21 264px,#fffe00 266px,#ffd800 269px,#ffc200 280px,#ffb000 286px,#ffb300 306px,#ffce00 309px,#feff01 312px,#e3ff1c 315px,#ceff31 319px,#81ff7e 324px,#6fff90 328px,#62ff9d 336px,#79ff86 339px,#e6ff19 344px,#feff01 347px,#fff000 350px,#ffae00 355px,#ff9f00 359px,#ff8b00 364px,#ff7100 369px,#ff6000 389px,#ff6000 502px)"></i><i style="height:4px;background:linear-gradient(90deg,#ff8f00 0px,#ff9500 52px,#ff9300 71px,#ff9400 159px,#ff9400 238px,#ffbd00 246px,#ffcb00 250px,#fff500 253px,#e3ff1c 255px,#c5ff3a 258px,#caff35 262px,#eeff11 265px,#ffff00 266px,#ffda00 269px,#ffc200 280px,#ffb000 286px,#ffb400 306px,#ffce00 309px,#ffff00 312px,#e3ff1c 315px,#cdff32 319px,#82ff7d 324px,#6fff90 328px,#63ff9c 336px,#7aff85 339px,#e5ff1a 344px,#feff01 347px,#ffef00 350px,#ffaf00 355px,#ff9d00 360px,#ff7200 369px,#ff6000 389px,#ff6000 502px)"></i><i style="height:4px;background:linear-gradient(90deg,#ff8f00 0px,#ff9600 53px,#ff9100 154px,#ff9000 211px,#ff9500 236px,#ffcb00 249px,#fffa00 253px,#d0ff2f 257px,#c9ff36 260px,#e4ff1b 264px,#fbff04 266px,#ffd600 272px,#ffb000 287px,#ffb300 304px,#ffc800 308px,#fff900 312px,#bcff43 320px,#81ff7e 325px,#66ff99 332px,#69ff96 336px,#83ff7c 339px,#e8ff17 345px,#fcff03 347px,#ffc700 353px,#ffa000 358px,#ff7100 370px,#ff6000 392px,#ff6000 502px)"></i><i style="height:4px;background:linear-gradient(90deg,#ff8f00 0px,#ff9600 54px,#ff9200 146px,#ff9600 235px,#ffca00 248px,#feff01 253px,#cfff30 257px,#c8ff37 260px,#fffa00 268px,#ffc400 277px,#ffac00 290px,#ffb200 303px,#ffd900 309px,#ffff00 313px,#79ff86 327px,#66ff99 332px,#6dff92 336px,#93ff6c 340px,#faff05 347px,#ff9c00 358px,#ff7500 368px,#ff6000 393px,#ff6000 502px)"></i><i style="height:4px;background:linear-gradient(90deg,#ff8f00 0px,#ff9600 55px,#ff9100 132px,#ff9600 235px,#ffcf00 248px,#fffb00 252px,#c4ff3b 257px,#bdff42 260px,#fdff02 268px,#ffbc00 279px,#ffaa00 288px,#ffae00 301px,#ffd700 308px,#feff01 313px,#74ff8b 328px,#66ff99 333px,#7bff84 338px,#b9ff46 343px,#f9ff06 347px,#ffa700 356px,#ff7f00 363px,#ff6200 385px,#ff6000 502px)"></i><i style="height:4px;background:linear-gradient(90deg,#ff8f00 0px,#ff9600 55px,#ff9200 135px,#ff9600 235px,#ffcc00 247px,#f9ff06 252px,#b7ff48 257px,#b2ff4d 260px,#ffff00 269px,#ffb000 282px,#ffa700 293px,#ffb000 301px,#fbff04 313px,#71ff8e 329px,#6dff92 334px,#85ff7a 339px,#b7ff48 343px,#f9ff06 347px,#ffbe00 353px,#ff8800 360px,#ff7000 371px,#ff6200 393px,#ff6000 502px)"></i><i style="height:4px;background:linear-gradient(90deg,#ff8f00 0px,#ff9600 56px,#ff9200 137px,#ff9400 235px,#ffc500 246px,#fcff03 251px,#b4ff4b 256px,#a8ff57 259px,#cfff30 264px,#ffff00 269px,#ffac00 282px,#ffa200 291px,#ffa800 300px,#fff100 311px,#f6ff09 314px,#80ff7f 328px,#7aff85 332px,#9aff65 340px,#caff35 344px,#fbff04 347px,#ffb300 354px,#ff8200 361px,#ff6400 383px,#ff6400 409px,#ff6000 502px)"></i><i style="height:4px;background:linear-gradient(90deg,#ff8f00 0px,#ff9700 59px,#ff8f00 107px,#ff9200 226px,#ff9400 236px,#ffbb00 245px,#ffdb00 248px,#fffd00 250px,#b0ff4f 255px,#a3ff5c 258px,#c1ff3e 262px,#fcff03 268px,#ffad00 280px,#ff9c00 287px,#ffa100 300px,#ffd000 308px,#fffd00 314px,#92ff6d 327px,#91ff6e 331px,#beff41 342px,#feff01 347px,#ffbb00 353px,#ff8600 360px,#ff6e00 372px,#ff6500 392px,#ff6700 410px,#ff6000 430px,#ff6000 502px)"></i><i style="height:4px;background:linear-gradient(90deg,#ff8f00 0px,#ff9700 62px,#ff9500 101px,#ff8c00 129px,#ff9000 155px,#ff9200 224px,#ff9200 236px,#ffb700 245px,#ffdb00 248px,#faff05 250px,#afff50 254px,#9eff61 257px,#bcff43 261px,#fffb00 268px,#ffae00 278px,#ff9700 285px,#ff9900 300px,#ffbd00 307px,#fcff03 316px,#aaff55 325px,#a1ff5e 329px,#ccff33 338px,#d8ff27 343px,#fffb00 347px,#ffb200 354px,#ff8300 361px,#ff6a00 376px,#ff6800 395px,#ff6900 412px,#ff6000 425px,#ff6000 502px)"></i><i style="height:4px;background:linear-gradient(90deg,#ff8f00 0px,#ff9700 65px,#ff9b00 96px,#ff8a00 127px,#ff8900 153px,#ff9600 197px,#ff9000 236px,#ffb300 245px,#ffdb00 248px,#f6ff09 250px,#b3ff4c 253px,#9cff63 255px,#a2ff5d 258px,#fffe00 267px,#ffaa00 277px,#ff9300 284px,#ff8f00 298px,#ffa500 305px,#ffff00 317px,#b6ff49 325px,#b4ff4b 328px,#eaff15 337px,#f2ff0d 344px,#fffe00 346px,#ff9900 357px,#ff7800 365px,#ff6500 387px,#ff6e00 413px,#ff6000 424px,#ff6500 497px,#ff7400 502px)"></i><i style="height:4px;background:linear-gradient(90deg,#ff8f00 0px,#ff9800 68px,#ff9f00 93px,#ff7f00 144px,#ff9500 187px,#ff8f00 224px,#ff8e00 236px,#ffb000 245px,#ffda00 248px,#fff000 249px,#f4ff0b 250px,#aeff51 253px,#99ff66 255px,#a5ff5a 258px,#feff01 266px,#ffa200 277px,#ff8e00 284px,#ff8a00 298px,#ffa100 306px,#fffd00 318px,#caff35 324px,#c6ff39 327px,#feff01 335px,#fff200 340px,#fff500 345px,#ffcb00 351px,#ff8e00 359px,#ff7000 370px,#ff6800 390px,#ff7000 415px,#ff6000 425px,#ff6400 490px,#ff7f00 496px,#ffa800 502px)"></i><i style="height:4px;background:linear-gradient(90deg,#ff8f00 0px,#ff9700 69px,#ffa000 92px,#ff7c00 148px,#ff9300 182px,#ff8f00 221px,#ff8c00 236px,#ffad00 245px,#ffd300 248px,#fcff03 250px,#b6ff49 253px,#a1ff5e 255px,#adff52 258px,#fdff02 265px,#ff9a00 277px,#ff8800 286px,#ff8600 298px,#ff9b00 306px,#fffb00 319px,#d5ff2a 325px,#e2ff1d 329px,#fffc00 333px,#ffde00 338px,#ffe400 347px,#ffb300 354px,#ff8700 361px,#ff7000 372px,#ff6900 388px,#ff7300 417px,#ff6000 426px,#ff6400 483px,#ff8500 490px,#ffb700 498px,#ffbe00 502px)"></i><i style="height:4px;background:linear-gradient(90deg,#ff8f00 0px,#ff9500 69px,#ff9f00 93px,#ff7b00 147px,#ff9400 183px,#ff8d00 222px,#ff8b00 236px,#ffad00 246px,#ffd700 249px,#faff05 251px,#c2ff3d 254px,#b7ff48 256px,#c8ff37 259px,#fffd00 264px,#ffa400 274px,#ff8d00 280px,#ff8400 297px,#ff9c00 306px,#fff600 320px,#f6ff09 322px,#e2ff1d 326px,#f2ff0d 330px,#fff500 333px,#ffd800 338px,#ffde00 348px,#ffaf00 355px,#ff8500 362px,#ff7000 374px,#ff6a00 387px,#ff7600 419px,#ff6000 428px,#ff6400 476px,#ff8500 483px,#ffb600 491px,#ffbf00 502px)"></i><i style="height:4px;background:linear-gradient(90deg,#ff8f00 0px,#ff9500 49px,#ff9200 67px,#ff9d00 95px,#ff7b00 146px,#ff9400 184px,#ff8b00 223px,#ff8a00 236px,#ffa400 246px,#ffc400 249px,#fffb00 252px,#ddff22 255px,#daff25 258px,#fbff04 262px,#ffa200 273px,#ff8a00 280px,#ff8600 298px,#ffa500 307px,#ffd200 316px,#ffff00 323px,#f0ff0f 327px,#ffff00 331px,#ffd700 338px,#ffd700 349px,#ffad00 356px,#ff8400 363px,#ff6900 382px,#ff7900 421px,#ff6000 430px,#ff6400 469px,#ff8500 476px,#ffb600 484px,#ffbf00 499px,#ffbf00 502px)"></i><i style="height:4px;background:linear-gradient(90deg,#ff8f00 0px,#ff9500 49px,#ff9000 67px,#ff9a00 98px,#ff7c00 142px,#ff8b00 164px,#ff9300 201px,#ff8700 235px,#ffa000 247px,#ffcc00 251px,#fff800 255px,#feff01 259px,#ffe700 263px,#ffa700 271px,#ff8800 279px,#ff8500 297px,#ffae00 308px,#ffe100 321px,#fffd00 327px,#fff200 332px,#ffd600 339px,#ffcf00 350px,#ffa300 358px,#ff7d00 366px,#ff6a00 381px,#ff7c00 423px,#ff6100 432px,#ff6600 463px,#ff8400 469px,#ffb300 476px,#ffbf00 486px,#ffbf00 502px)"></i><i style="height:4px;background:linear-gradient(90deg,#ff8f00 0px,#ff9400 49px,#ff9400 56px,#ff8c00 65px,#ff9800 100px,#ff7d00 139px,#ff8300 157px,#ff9500 190px,#ff8600 236px,#ff9a00 248px,#ffd100 256px,#ffd900 261px,#ff8d00 276px,#ff8300 286px,#ff8a00 298px,#ffc000 314px,#ffe000 324px,#ffec00 331px,#ffd200 343px,#ffbc00 354px,#ff7f00 366px,#ff6b00 379px,#ff7f00 425px,#ff6100 434px,#ff6500 456px,#ff8400 462px,#ffb600 470px,#ffbf00 482px,#ffbf00 502px)"></i><i style="height:4px;background:linear-gradient(90deg,#ff8f00 0px,#ff9500 50px,#ff9400 57px,#ff8a00 66px,#ff9700 101px,#ff7c00 139px,#ff8500 158px,#ff9500 192px,#ff8300 237px,#ff9600 250px,#ffbe00 262px,#ffa300 270px,#ff8300 279px,#ff8500 295px,#ffb900 313px,#ffe300 332px,#ffb200 356px,#ff7a00 368px,#ff6d00 379px,#ff8200 427px,#ff6100 436px,#ff6400 450px,#ff8500 456px,#ffb500 463px,#ffbf00 475px,#ffbf00 502px)"></i><i style="height:4px;background:linear-gradient(90deg,#ff8f00 0px,#ff9400 50px,#ff9600 57px,#ff8700 67px,#ff9900 101px,#ff7e00 140px,#ff8b00 162px,#ff9100 201px,#ff8000 236px,#ff9900 253px,#ffb300 263px,#ff9600 272px,#ff8300 280px,#ff8a00 295px,#ffb200 310px,#ffe100 334px,#ffa900 358px,#ff7600 369px,#ff6f00 380px,#ff8300 430px,#ff6200 439px,#ff6900 446px,#ff9400 452px,#ffb600 457px,#ffbf00 468px,#ffbf00 502px)"></i><i style="height:4px;background:linear-gradient(90deg,#ff8f00 0px,#ff9300 50px,#ff9900 57px,#ff8500 69px,#ff9c00 101px,#ff7f00 142px,#ff9300 189px,#ff8100 222px,#ff8000 237px,#ff9800 253px,#ffac00 262px,#ff9a00 270px,#ff8600 278px,#ff8d00 294px,#ffaf00 308px,#ffe200 335px,#ffa800 358px,#ff7300 370px,#ff7400 387px,#ff8700 432px,#ff6c00 440px,#ff7b00 444px,#ffb400 451px,#ffbf00 459px,#ffbf00 502px)"></i><i style="height:4px;background:linear-gradient(90deg,#ff8f00 0px,#ff9400 51px,#ff9b00 57px,#ff8200 70px,#ff9f00 100px,#ff8100 144px,#ff9100 189px,#ff8000 220px,#ff7c00 235px,#ff9b00 254px,#ffa300 265px,#ff8900 277px,#ff9100 293px,#ffae00 308px,#ffe200 335px,#ffc600 347px,#ff9400 362px,#ff7200 370px,#ff8900 435px,#ff8000 440px,#ff9f00 444px,#ffba00 448px,#ffbf00 502px)"></i><i style="height:4px;background:linear-gradient(90deg,#ff8f00 0px,#ff9300 51px,#ff9d00 57px,#ff8000 72px,#ffa000 99px,#ff8400 147px,#ff9000 191px,#ff7e00 220px,#ff7800 233px,#ff9b00 260px,#ff8c00 282px,#ff9f00 297px,#ffc700 321px,#ffe200 336px,#ffbb00 351px,#ff8400 365px,#ff7000 372px,#ff9300 439px,#ffbc00 446px,#ffbf00 502px)"></i><i style="height:4px;background:linear-gradient(90deg,#ff8f00 0px,#ff9400 52px,#ff9d00 58px,#ff7e00 74px,#ff9d00 96px,#ff9e00 110px,#ff8600 146px,#ff8f00 193px,#ff7c00 220px,#ff7400 232px,#ff9400 258px,#ff9300 287px,#ffbd00 315px,#ffe600 335px,#ffd700 343px,#ff7300 370px,#ff9800 439px,#ffbd00 447px,#ffbf00 502px)"></i><i style="height:4px;background:linear-gradient(90deg,#ff8f00 0px,#ff9300 52px,#ff9f00 58px,#ff7b00 76px,#ff9f00 103px,#ff8a00 153px,#ff8c00 199px,#ff7900 219px,#ff7000 232px,#ff9200 253px,#ff9600 287px,#ffb600 309px,#ffde00 320px,#fffb00 334px,#ffeb00 342px,#ffaa00 354px,#ff7300 371px,#ff9a00 441px,#ffbe00 450px,#ffbf00 502px)"></i><i style="height:4px;background:linear-gradient(90deg,#ff8f00 0px,#ff9400 53px,#ffa000 59px,#ff7900 76px,#ff9f00 111px,#ff8b00 152px,#ff8b00 201px,#ff7800 217px,#ff6800 230px,#ff9000 248px,#ff9900 288px,#ffbb00 308px,#fff200 316px,#f6ff09 323px,#e2ff1d 332px,#f3ff0c 340px,#fff900 343px,#ffb100 351px,#ff7300 371px,#ff9f00 444px,#ffbe00 452px,#ffbf00 502px)"></i><i style="height:4px;background:linear-gradient(90deg,#ff8f00 0px,#ff9300 54px,#ff9f00 60px,#ff8800 70px,#ff7600 80px,#ff9400 104px,#ff9e00 113px,#ff8d00 155px,#ff8900 203px,#ff7400 218px,#ff6200 229px,#ff8f00 245px,#ff9600 265px,#ff9900 287px,#ffbf00 307px,#fcff03 314px,#d9ff26 321px,#c0ff3f 330px,#d3ff2c 338px,#fbff04 343px,#ffb200 350px,#ff9200 359px,#ff7300 372px,#ffa000 446px,#ffbe00 455px,#ffbf00 502px)"></i><i style="height:4px;background:linear-gradient(90deg,#ff8f00 0px,#ff8400 46px,#ff8400 54px,#ff9f00 60px,#ff7300 82px,#ff8800 102px,#ff9e00 113px,#ff8f00 159px,#ff8800 203px,#ff7300 218px,#ff5f00 229px,#ff8f00 243px,#ff9900 262px,#ff9900 284px,#ffbd00 305px,#ffdb00 309px,#fffe00 312px,#d0ff2f 317px,#a9ff56 327px,#b8ff47 335px,#d9ff26 340px,#fdff02 343px,#ffb400 349px,#ff9800 355px,#ff7400 373px,#ffa500 449px,#ffbe00 457px,#ffbf00 502px)"></i><i style="height:4px;background:linear-gradient(90deg,#ff8e00 0px,#ff6e00 53px,#ff8500 57px,#ff9d00 60px,#ff9200 65px,#ff6f00 86px,#ff7f00 101px,#ff9e00 114px,#ff8f00 169px,#ff8600 204px,#ff6d00 221px,#ff6400 230px,#ff9100 243px,#ff9b00 262px,#ff9a00 283px,#ffba00 303px,#ffd800 308px,#fdff02 312px,#cdff32 318px,#b4ff4b 326px,#c7ff38 334px,#f2ff0d 340px,#fff700 342px,#ffad00 349px,#ff9300 356px,#ff7500 374px,#ffa600 451px,#ffbf00 460px,#ffbf00 502px)"></i><i style="height:4px;background:linear-gradient(90deg,#ff7f00 0px,#ff6a00 39px,#ff6c00 54px,#ff8800 58px,#ff9e00 61px,#ff8b00 71px,#ff6e00 87px,#ff7d00 100px,#ffa200 115px,#ff8e00 169px,#ff8600 204px,#ff6900 230px,#ff9100 243px,#ff9c00 263px,#ff9800 284px,#ffc000 305px,#feff01 314px,#d9ff26 321px,#daff25 328px,#fffb00 336px,#ffab00 347px,#ff8800 361px,#ff7600 376px,#ffaa00 454px,#ffbf00 462px,#ffbf00 502px)"></i><i style="height:4px;background:linear-gradient(90deg,#ff6c00 0px,#ff6e00 55px,#ffa000 62px,#ff8c00 70px,#ff7100 88px,#ff8400 99px,#ffaa00 114px,#ff9f00 133px,#ff8d00 155px,#ff8300 207px,#ff7300 232px,#ff8f00 242px,#ff9d00 265px,#ff9000 284px,#ffc300 307px,#ffff00 318px,#fcff03 325px,#ffed00 331px,#ffab00 343px,#ff7b00 369px,#ff7a00 382px,#ffac00 456px,#ffbf00 465px,#ffbf00 502px)"></i><i style="height:4px;background:linear-gradient(90deg,#ff6a00 0px,#ff6d00 55px,#ff8700 59px,#ff9f00 62px,#ff9100 67px,#ff7400 87px,#ff8800 97px,#ffb000 112px,#ffaf00 127px,#ff9400 141px,#ff8800 180px,#ff7c00 226px,#ff7a00 233px,#ff9000 244px,#ff9d00 268px,#ff8700 284px,#ff9d00 294px,#ffe200 319px,#ffcf00 330px,#ff9900 347px,#ff7700 377px,#ffb000 459px,#ffbf00 469px,#ffbf00 502px)"></i><i style="height:4px;background:linear-gradient(90deg,#ff7800 0px,#ff7000 43px,#ff7c00 57px,#ffa200 63px,#ff8c00 71px,#ff7900 87px,#ff9300 97px,#ffb700 110px,#ffba00 124px,#ff9400 140px,#ff8500 178px,#ff8100 234px,#ff9c00 262px,#ff9700 274px,#ff8000 286px,#ffbf00 311px,#ffbc00 328px,#ff9200 351px,#ff7700 378px,#ffb300 462px,#ffbf00 473px,#ffbf00 502px)"></i><i style="height:4px;background:linear-gradient(90deg,#ff8c00 0px,#ff8000 56px,#ff9700 61px,#ffa300 64px,#ff8b00 71px,#ff7e00 87px,#ffbb00 107px,#ffc200 122px,#ff9500 139px,#ff8200 179px,#ff8700 236px,#ff9c00 272px,#ff7a00 287px,#ff9900 297px,#ffa800 306px,#ff9b00 317px,#ffa400 331px,#ff7800 379px,#ffb700 465px,#ffbf00 481px,#ffbf00 502px)"></i><i style="height:4px;background:linear-gradient(90deg,#ff8f00 0px,#ff8600 48px,#ff8500 58px,#ffa400 64px,#ff8b00 72px,#ff8300 87px,#ffc000 106px,#ffc800 121px,#ff9600 138px,#ff7f00 179px,#ff8700 238px,#ff9900 272px,#ff6f00 288px,#ff8900 296px,#ff9900 302px,#ff7c00 315px,#ff9600 332px,#ff7900 381px,#ffbb00 469px,#ffbf00 502px)"></i><i style="height:4px;background:linear-gradient(90deg,#ff8f00 0px,#ff8d00 59px,#ffa600 65px,#ff8b00 72px,#ff8800 87px,#ffc200 105px,#ffca00 120px,#ff9600 139px,#ff7d00 178px,#ff8000 227px,#ff9300 271px,#ff5c00 287px,#ff6800 293px,#ff9100 301px,#ff8000 309px,#ff7300 316px,#ff9600 332px,#ff7a00 382px,#ffbf00 481px,#ffbf00 502px)"></i><i style="height:4px;background:linear-gradient(90deg,#ff8d00 0px,#ff9300 60px,#ffa700 65px,#ff8a00 73px,#ff8e00 87px,#ffc200 104px,#ffca00 119px,#ff9400 141px,#ff7b00 177px,#ff7900 212px,#ff8a00 271px,#ff4600 287px,#ff5000 292px,#ff8c00 301px,#ff8500 307px,#ff6f00 316px,#ff9000 327px,#ff9c00 335px,#ff7900 382px,#ffbf00 483px,#ffbf00 502px)"></i><i style="height:4px;background:linear-gradient(90deg,#ff8500 0px,#ff8f00 44px,#ff9500 61px,#ffa700 66px,#ff8a00 73px,#ff9300 87px,#ffc400 104px,#ffca00 118px,#ff9200 144px,#ff7900 177px,#ff7200 204px,#ff8300 270px,#ff6800 277px,#ff3600 287px,#ff3c00 291px,#ff8700 301px,#ff8700 306px,#ff6c00 316px,#ff8800 325px,#ffa100 333px,#ff8c00 358px,#ff7a00 383px,#ffbf00 484px,#ffc600 502px)"></i><i style="height:4px;background:linear-gradient(90deg,#ff8000 0px,#ff9600 62px,#ffa700 67px,#ff8900 74px,#ff9900 87px,#ffc500 104px,#ffc900 117px,#ff8e00 149px,#ff6d00 189px,#ff7a00 269px,#ff6500 276px,#ff3000 287px,#ff3900 291px,#ff8500 302px,#ff8200 307px,#ff6a00 316px,#ff8500 324px,#ffa600 333px,#ff8e00 355px,#ff8200 372px,#ff7a00 384px,#ffc100 477px,#ffe500 496px,#fff300 502px)"></i><i style="height:4px;background:linear-gradient(90deg,#ff8000 0px,#ff8c00 43px,#ff9400 62px,#ffa800 67px,#ff8900 75px,#ff9e00 88px,#ffc100 103px,#ffc600 115px,#ff8500 155px,#ff6800 194px,#ff7600 256px,#ff6a00 273px,#ff3200 286px,#ff3f00 291px,#ff8100 302px,#ff8100 307px,#ff6800 316px,#ff8500 324px,#ffa700 333px,#ff9000 354px,#ff8600 370px,#ff7800 384px,#ffb500 473px,#fff800 483px,#f3ff0c 490px,#f1ff0e 498px,#faff05 502px)"></i><i style="height:4px;background:linear-gradient(90deg,#ff8000 0px,#ff8800 52px,#ff9300 63px,#ffa800 68px,#ff8900 75px,#ff9800 88px,#ffb100 100px,#ffb800 115px,#ff7b00 158px,#ff6600 194px,#ff6f00 247px,#ff6100 273px,#ff2f00 286px,#ff4500 292px,#ff7c00 303px,#ff7a00 309px,#ff6900 317px,#ffa400 333px,#ff9200 352px,#ff8a00 368px,#ff7400 385px,#ffa600 471px,#ffbb00 474px,#fffc00 479px,#e5ff1a 484px,#f1ff0e 492px,#fff800 497px,#ffe700 502px)"></i><i style="height:4px;background:linear-gradient(90deg,#ff8000 0px,#ff8600 62px,#ffa600 69px,#ff8800 76px,#ff8f00 89px,#ffa100 99px,#ffa200 117px,#ff6d00 164px,#ff6400 195px,#ff6a00 237px,#ff5700 273px,#ff2900 286px,#ff3e00 293px,#ff7400 305px,#ff7100 312px,#ff6900 318px,#ff9d00 332px,#ff9800 341px,#ff8e00 365px,#ff7200 386px,#ff7d00 423px,#ff9d00 470px,#ffb800 473px,#fffe00 478px,#f1ff0e 482px,#fff800 489px,#ffe100 498px,#ffdf00 502px)"></i><i style="height:4px;background:linear-gradient(90deg,#ff8000 0px,#ff8300 63px,#ffa500 69px,#ff9500 73px,#ff8500 78px,#ff8700 90px,#ff9100 100px,#ff8e00 118px,#ff6500 170px,#ff6200 196px,#ff6500 235px,#ff4b00 274px,#ff2600 286px,#ff3600 294px,#ff6700 306px,#ff6b00 314px,#ff6e00 320px,#ff9700 333px,#ff9300 362px,#ff7100 385px,#ff7200 420px,#ff8d00 467px,#ffa300 470px,#fff900 476px,#f3ff0c 479px,#fff600 483px,#ffe200 489px,#ffdf00 502px)"></i><i style="height:4px;background:linear-gradient(90deg,#ff8200 0px,#ff8300 64px,#ffa400 70px,#ff8300 78px,#ff7e00 91px,#ff7e00 116px,#ff5c00 183px,#ff6200 231px,#ff3b00 277px,#ff2300 287px,#ff3400 296px,#ff6200 311px,#ff6e00 321px,#ff9400 337px,#ff9700 359px,#ff7000 385px,#ff6c00 426px,#ff8200 465px,#ff9900 468px,#ffff00 475px,#efff10 478px,#ffff00 481px,#ffe200 486px,#ffdf00 502px)"></i><i style="height:4px;background:linear-gradient(90deg,#ff9f00 0px,#ff8200 26px,#ff8400 65px,#ffa500 71px,#ff7f00 79px,#ff6f00 112px,#ff5900 185px,#ff5f00 228px,#ff2b00 281px,#ff2300 291px,#ff9000 339px,#ff9900 357px,#ff6f00 385px,#ff6700 433px,#ff7a00 462px,#ff9b00 467px,#fff900 474px,#f5ff0a 478px,#fff600 481px,#ffda00 486px,#ffd600 502px)"></i><i style="height:4px;background:linear-gradient(90deg,#ffc800 0px,#ff9c00 28px,#ff8200 52px,#ff8600 66px,#ffa400 71px,#ff9b00 74px,#ff7b00 80px,#ff6400 114px,#ff5900 188px,#ff5a00 231px,#ff2a00 277px,#ff2100 292px,#ff4b00 312px,#ff8e00 340px,#ff9600 356px,#ff6f00 383px,#ff6200 437px,#ff7000 456px,#ff9600 464px,#fffa00 474px,#fffc00 478px,#ffc900 486px,#ffc400 502px)"></i><i style="height:4px;background:linear-gradient(90deg,#ffcf00 0px,#ffc200 32px,#ff8d00 65px,#ffa700 72px,#ff8b00 77px,#ff7300 83px,#ff5f00 116px,#ff5900 189px,#ff5700 234px,#ff2900 268px,#ff2300 297px,#ff4700 313px,#ff8000 334px,#ff9200 354px,#ff7100 379px,#ff5e00 439px,#ff6900 451px,#ffb800 465px,#fffa00 473px,#fff600 477px,#ffc500 485px,#ffbf00 502px)"></i><i style="height:4px;background:linear-gradient(90deg,#ffcf00 0px,#ffc700 53px,#ffb000 73px,#ff7500 82px,#ff5d00 103px,#ff5700 188px,#ff5600 235px,#ff3100 256px,#ff3600 285px,#ff2200 298px,#ff3400 309px,#ff6300 323px,#ff8700 343px,#ff8900 355px,#ff7000 379px,#ff5c00 439px,#ff6c00 448px,#fffd00 472px,#fff400 476px,#ffc800 484px,#ffbf00 502px)"></i><i style="height:4px;background:linear-gradient(90deg,#ffcf00 0px,#ffc900 70px,#ffa500 76px,#ff6f00 84px,#ff5800 104px,#ff5900 194px,#ff5300 236px,#ff3800 248px,#ff4500 264px,#ff5200 283px,#ff2900 299px,#ff3400 310px,#ff5f00 322px,#ff8200 343px,#ff8200 355px,#ff5900 430px,#ff6300 441px,#ff8800 449px,#ffda00 460px,#ffff00 469px,#fff500 474px,#ffcf00 482px,#ffc000 502px)"></i><i style="height:4px;background:linear-gradient(90deg,#ffcf00 0px,#ffca00 71px,#ff9f00 78px,#ff6a00 86px,#ff5300 107px,#ff5400 234px,#ff3d00 244px,#ff6c00 280px,#ff6100 287px,#ff3400 299px,#ff3a00 310px,#ff6800 328px,#ff8100 350px,#ff5900 432px,#ff7000 441px,#ffa500 449px,#fffc00 460px,#f2ff0d 467px,#fffd00 471px,#ffcf00 480px,#ffc700 502px)"></i><i style="height:4px;background:linear-gradient(90deg,#ffcf00 0px,#ffcc00 72px,#ffae00 78px,#ff7100 87px,#ff5000 110px,#ff5100 231px,#ff4500 242px,#ff7d00 276px,#ff7e00 285px,#ff3d00 302px,#ff5e00 323px,#ff7e00 348px,#ff5a00 429px,#ff7000 438px,#ffaa00 446px,#fdff02 456px,#e1ff1e 461px,#e7ff18 466px,#feff01 470px,#ffcb00 478px,#ffce00 502px)"></i><i style="height:4px;background:linear-gradient(90deg,#ffcf00 0px,#ffcd00 75px,#ffa400 82px,#ff8100 89px,#ff6a00 101px,#ff5100 108px,#ff5000 219px,#ff4e00 240px,#ff8f00 277px,#ff9000 287px,#ff5900 299px,#ff4400 304px,#ff7d00 348px,#ff5a00 426px,#ff7200 436px,#ffbb00 445px,#fffe00 452px,#d2ff2d 458px,#d1ff2e 462px,#fffe00 470px,#ffc900 477px,#ffc100 486px,#ffcb00 502px)"></i><i style="height:4px;background:linear-gradient(90deg,#ffcf00 0px,#ffd500 69px,#ffde00 76px,#ff9e00 88px,#ff8400 99px,#ff5400 107px,#ff5200 201px,#ff4f00 231px,#ffa200 280px,#ffa200 289px,#ff7e00 297px,#ff4d00 304px,#ff4e00 312px,#ff7d00 348px,#ff6600 396px,#ff5b00 426px,#ff7300 435px,#ffbf00 444px,#fcff03 450px,#c4ff3b 456px,#bdff42 460px,#edff12 468px,#ffff00 470px,#ffcc00 476px,#ffc000 483px,#ffc200 502px)"></i><i style="height:4px;background:linear-gradient(90deg,#ffcf00 0px,#ffd500 56px,#ffff00 74px,#ffe800 79px,#ffbd00 87px,#ff9e00 97px,#ff5700 107px,#ff5100 118px,#ff5500 154px,#ff4d00 197px,#ff5300 227px,#ffb300 281px,#ffb400 291px,#ff9600 297px,#ff5400 305px,#ff4f00 311px,#ff7c00 347px,#ff7100 380px,#ff5a00 425px,#ff7600 435px,#ffd200 445px,#f9ff06 449px,#bbff44 454px,#a9ff56 457px,#b3ff4c 461px,#f2ff0d 469px,#fff500 471px,#ffcd00 476px,#ffc100 493px,#ffc000 502px)"></i><i style="height:4px;background:linear-gradient(90deg,#ffcf00 0px,#ffd500 43px,#faff05 62px,#f2ff0d 75px,#fff700 80px,#ffb300 96px,#ff5c00 107px,#ff5100 113px,#ff5800 153px,#ff4800 196px,#ff5a00 224px,#ffc300 282px,#ffc700 292px,#ffad00 297px,#ff5c00 306px,#ff5200 311px,#ff7b00 346px,#ff7200 382px,#ff5a00 424px,#ff7400 434px,#ffbb00 442px,#faff05 448px,#a6ff59 454px,#96ff69 457px,#a6ff59 461px,#e4ff1b 468px,#fdff02 470px,#ffd500 475px,#ffc400 502px)"></i><i style="height:4px;background:linear-gradient(90deg,#ffcf00 0px,#ffd600 31px,#faff05 49px,#efff10 71px,#fbff04 81px,#ffd300 93px,#ff5d00 108px,#ff5400 115px,#ff5d00 152px,#ff4500 195px,#ff5e00 221px,#ffc900 282px,#ffcf00 293px,#ffb000 298px,#ff5e00 307px,#ff5500 312px,#ff7a00 344px,#ff7100 386px,#ff5b00 424px,#ff7900 434px,#ffcd00 443px,#ffff00 447px,#9bff64 454px,#8cff73 457px,#a9ff56 462px,#f4ff0b 469px,#fffd00 470px,#ffd800 474px,#ffcf00 483px,#ffcd00 502px)"></i><i style="height:4px;background:linear-gradient(90deg,#ffcf00 0px,#ffda00 20px,#faff05 36px,#efff10 58px,#f4ff0b 81px,#fff700 87px,#ffd200 94px,#ff6800 107px,#ff5b00 113px,#ff6500 150px,#ff4800 194px,#ff6200 221px,#ffa400 261px,#ffbe00 285px,#ffbf00 294px,#ff9e00 299px,#ff6100 306px,#ff5600 311px,#ff7900 343px,#ff7100 390px,#ff5d00 423px,#ff7a00 433px,#ffce00 442px,#fffa00 446px,#cdff32 450px,#9bff64 454px,#93ff6c 457px,#bdff42 463px,#fffc00 469px,#ffd800 473px,#ffcf00 482px,#ffcf00 502px)"></i><i style="height:4px;background:linear-gradient(90deg,#ffd200 0px,#ffee00 15px,#fbff04 23px,#efff10 43px,#f4ff0b 82px,#fff800 88px,#ffcd00 95px,#ff7400 106px,#ff6400 113px,#ff6e00 148px,#ff4c00 192px,#ff6500 221px,#ff9a00 258px,#ffa200 270px,#ffa900 294px,#ff8e00 299px,#ff5f00 305px,#ff5800 311px,#ff7800 342px,#ff7000 395px,#ff5f00 422px,#ff7d00 432px,#ffd000 441px,#faff05 446px,#a8ff57 453px,#9eff61 456px,#c6ff39 462px,#fcff03 467px,#ffd600 472px,#ffcf00 487px,#ffcf00 502px)"></i><i style="height:4px;background:linear-gradient(90deg,#ffec00 0px,#fbff04 10px,#efff10 30px,#f5ff0a 80px,#fffc00 88px,#ffd000 95px,#ff7f00 105px,#ff6e00 113px,#ff7700 146px,#ff5200 189px,#ff6700 221px,#ff9100 255px,#ff9200 269px,#ff8f00 295px,#ff6e00 301px,#ff5800 306px,#ff7700 343px,#ff6f00 400px,#ff6200 422px,#ff8000 431px,#ffc700 439px,#f9ff06 445px,#acff53 453px,#acff53 456px,#e2ff1d 463px,#fffb00 466px,#ffd500 471px,#ffcf00 502px)"></i><i style="height:4px;background:linear-gradient(90deg,#f4ff0b 0px,#f3ff0c 70px,#fffb00 89px,#ffb900 98px,#ff8600 105px,#ff7600 118px,#ff8100 143px,#ff5e00 176px,#ff5c00 204px,#ff8700 254px,#ff7300 297px,#ff5900 305px,#ff7600 341px,#ff6e00 405px,#ff6600 422px,#ff8800 431px,#faff05 444px,#b9ff46 451px,#b4ff4b 454px,#d9ff26 460px,#fffe00 464px,#ffd600 469px,#ffcf00 485px,#ffcf00 502px)"></i><i style="height:4px;background:linear-gradient(90deg,#efff10 0px,#f5ff0a 64px,#feff01 83px,#fffa00 90px,#ff9300 104px,#ff7f00 117px,#ff8800 142px,#ff6800 173px,#ff5e00 192px,#ff7a00 238px,#ff7c00 255px,#ff5c00 307px,#ff7500 340px,#ff6d00 410px,#ff6b00 422px,#ff8e00 431px,#ffff00 443px,#c2ff3d 450px,#c2ff3d 454px,#ffff00 462px,#ffd700 467px,#ffcf00 478px,#ffcf00 502px)"></i><i style="height:4px;background:linear-gradient(90deg,#efff10 0px,#f5ff0a 57px,#ffff00 81px,#fffc00 91px,#ff9700 105px,#ff8400 121px,#ff8c00 141px,#ff7000 170px,#ff6200 187px,#ff6e00 218px,#ff7e00 248px,#ff5a00 302px,#ff7400 340px,#ff6c00 416px,#ff7600 424px,#ff9c00 432px,#fcff03 443px,#ccff33 449px,#ceff31 453px,#fffe00 460px,#ffcf00 466px,#ffcf00 502px)"></i><i style="height:4px;background:linear-gradient(90deg,#efff10 0px,#f5ff0a 49px,#ffff00 75px,#fffb00 93px,#ff9c00 106px,#ff8800 119px,#ff8c00 143px,#ff7500 169px,#ff6500 187px,#ff7100 218px,#ff8100 247px,#ff5b00 301px,#ff7300 339px,#ff7300 421px,#ff9600 430px,#fffc00 442px,#d6ff29 448px,#dbff24 452px,#fffc00 458px,#ffc700 465px,#ffc400 475px,#ffcf00 502px)"></i><i style="height:4px;background:linear-gradient(90deg,#efff10 0px,#f5ff0a 41px,#ffff00 67px,#fcff03 93px,#ffe700 98px,#ffa200 107px,#ff8e00 117px,#ff8600 158px,#ff6800 185px,#ff7300 216px,#ff8400 247px,#ff7000 268px,#ff5d00 302px,#ff7200 339px,#ff7500 420px,#ff9900 430px,#fbff04 443px,#e3ff1c 447px,#eeff11 452px,#fffe00 455px,#ffc700 463px,#ffc000 477px,#ffce00 502px)"></i><i style="height:4px;background:linear-gradient(90deg,#efff10 0px,#f6ff09 34px,#ffff00 58px,#f9ff06 94px,#fff400 98px,#ffa200 109px,#ff8d00 123px,#ff8600 161px,#ff6b00 185px,#ff7600 216px,#ff8700 247px,#ff7000 265px,#ff5f00 302px,#ff7100 339px,#ff7800 420px,#ffa100 432px,#fffe00 444px,#f6ff09 449px,#fff600 453px,#ffc400 461px,#ffc200 494px,#ffc700 502px)"></i><i style="height:4px;background:linear-gradient(90deg,#efff10 0px,#f8ff07 28px,#ffff00 62px,#f8ff07 95px,#fff900 99px,#ffa700 110px,#ff9200 121px,#ff8700 163px,#ff6f00 185px,#ff7900 216px,#ff8a00 247px,#ff7100 265px,#ff6200 303px,#ff7100 343px,#ff7d00 421px,#ffa700 434px,#ffee00 445px,#ffef00 450px,#ffb300 461px,#ffbf00 491px,#ffc000 502px)"></i><i style="height:4px;background:linear-gradient(90deg,#efff10 0px,#fcff03 24px,#f9ff06 66px,#f8ff07 97px,#fff500 101px,#ffaa00 111px,#ff9400 123px,#ff8800 165px,#ff7500 185px,#ff7f00 217px,#ff8f00 248px,#ff7800 265px,#ff6900 291px,#ff6500 306px,#ff7600 361px,#ff8100 421px,#ffa700 435px,#ffd700 445px,#ffd800 450px,#ffa400 461px,#ffbf00 492px,#ffbf00 502px)"></i><i style="height:4px;background:linear-gradient(90deg,#efff10 0px,#ffff00 32px,#f7ff08 97px,#fffb00 101px,#ffad00 112px,#ff9600 125px,#ff8b00 167px,#ff7d00 185px,#ff8600 217px,#ff9800 249px,#ff8600 264px,#ff7600 289px,#ff6500 300px,#ff7c00 386px,#ff8600 422px,#ffc500 448px,#ffa100 460px,#ffa900 481px,#ffbe00 500px,#ffbf00 502px)"></i><i style="height:4px;background:linear-gradient(90deg,#f3ff0c 0px,#ffff00 23px,#f5ff0a 96px,#fffa00 102px,#ffb100 113px,#ff9b00 125px,#ff9200 156px,#ff8e00 169px,#ff8600 193px,#ff9400 225px,#ffa100 250px,#ff9500 266px,#ff7f00 289px,#ff6800 298px,#ff8a00 424px,#ffb400 448px,#ff9f00 460px,#ffa700 491px,#ffb600 502px)"></i><i style="height:4px;background:linear-gradient(90deg,#fcff03 0px,#f9ff06 38px,#f8ff07 100px,#fffa00 103px,#ffb000 115px,#ff9a00 132px,#ff9200 154px,#ff9400 169px,#ff9400 215px,#ffab00 251px,#ff9700 282px,#ff6b00 298px,#ff8e00 426px,#ff9e00 439px,#ffa000 451px,#ff9e00 462px,#ffa400 502px)"></i><i style="height:4px;background:linear-gradient(90deg,#ffff00 0px,#f5ff0a 86px,#fbff04 102px,#ffe900 107px,#ffb100 117px,#ff9100 146px,#ff9900 174px,#ff9f00 220px,#ffb500 253px,#ffaa00 277px,#ff9000 288px,#ff6f00 298px,#ff9300 430px,#ff9300 452px,#ff9f00 485px,#ff9f00 502px)"></i><i style="height:4px;background:linear-gradient(90deg,#ffff00 0px,#f5ff0a 62px,#fbff04 103px,#ffeb00 108px,#ffb400 118px,#ff9500 147px,#ffa100 179px,#ffa800 220px,#ffc200 259px,#ffb200 279px,#ff8a00 291px,#ff7600 299px,#ff9200 441px,#ff9500 467px,#ff9f00 491px,#ff9f00 502px)"></i><i style="height:4px;background:linear-gradient(90deg,#fdff02 0px,#f5ff0a 59px,#faff05 104px,#fff200 108px,#ffb900 119px,#ff9d00 146px,#ffa800 176px,#ffaf00 216px,#ffd000 260px,#ffc700 270px,#ffa500 287px,#ff8400 297px,#ff9c00 422px,#ff8f00 460px,#ff9f00 498px,#ff9f00 502px)"></i><i style="height:4px;background:linear-gradient(90deg,#f8ff07 0px,#faff05 105px,#fff200 109px,#ffc100 119px,#ffa600 144px,#ffb100 171px,#ffb600 213px,#ffe000 261px,#ffd700 269px,#ffbb00 282px,#ff9200 297px,#ffa800 403px,#ff9900 426px,#ff8f00 451px,#ff9700 483px,#ff9f00 502px)"></i><i style="height:4px;background:linear-gradient(90deg,#f6ff09 0px,#faff05 106px,#ffee00 111px,#ffc200 122px,#ffaf00 143px,#ffba00 169px,#ffbc00 210px,#fff000 262px,#ffe200 270px,#ffc300 281px,#ffa100 298px,#ffb500 387px,#ffa500 413px,#ff9000 430px,#ff9500 488px,#ff9f00 502px)"></i><i style="height:4px;background:linear-gradient(90deg,#f5ff0a 0px,#faff05 107px,#fff100 112px,#ffc800 123px,#ffb900 142px,#ffc300 167px,#ffc200 207px,#fff200 248px,#ffff00 264px,#ffe900 272px,#ffc700 283px,#ffb100 298px,#ffc300 372px,#ffaf00 402px,#ff9100 418px,#ff9400 495px,#ff9c00 502px)"></i><i style="height:4px;background:linear-gradient(90deg,#f5ff0a 0px,#faff05 109px,#ffef00 115px,#ffce00 125px,#ffc300 142px,#ffcc00 166px,#ffc600 203px,#faff05 249px,#f2ff0d 264px,#fffc00 271px,#ffcf00 283px,#ffc100 298px,#ffd100 357px,#ffb800 392px,#ff9300 407px,#ff9300 502px)"></i><i style="height:4px;background:linear-gradient(90deg,#f5ff0a 0px,#faff05 113px,#ffee00 119px,#ffd600 131px,#ffcf00 145px,#ffd400 166px,#ffc700 198px,#ffee00 227px,#f9ff06 242px,#e5ff1a 255px,#efff10 269px,#fffb00 274px,#ffd900 284px,#ffd500 300px,#ffde00 344px,#ffc300 381px,#ff9300 398px,#ff9000 502px)"></i><i style="height:4px;background:linear-gradient(90deg,#f5ff0a 0px,#f3ff0c 116px,#fff700 122px,#ffd900 143px,#ffdc00 168px,#ffc900 195px,#ffe100 218px,#fbff04 233px,#d8ff27 251px,#e8ff17 270px,#fffb00 277px,#ffe500 287px,#ffea00 332px,#ffcc00 371px,#ff9400 388px,#ff8f00 502px)"></i><i style="height:4px;background:linear-gradient(90deg,#f5ff0a 0px,#f2ff0d 108px,#e3ff1c 116px,#fffe00 128px,#ffe600 145px,#ffe300 169px,#ffcb00 196px,#ffe400 217px,#fbff04 229px,#e1ff1e 237px,#c4ff3b 243px,#d2ff2d 260px,#e5ff1a 272px,#fffb00 281px,#fff400 324px,#ffd600 360px,#ff9600 378px,#ff8f00 418px,#ff8f00 502px)"></i><i style="height:4px;background:linear-gradient(90deg,#f5ff0a 0px,#f2ff0d 102px,#d4ff2b 115px,#fffb00 137px,#ffe700 170px,#ffce00 198px,#fff200 221px,#f9ff06 227px,#daff25 235px,#9dff62 243px,#9aff65 248px,#c8ff37 262px,#f6ff09 284px,#fff900 320px,#ffe000 350px,#ffbe00 357px,#ff9200 364px,#ff8f00 502px)"></i><i style="height:4px;background:linear-gradient(90deg,#f5ff0a 0px,#f1ff0e 97px,#d0ff2f 110px,#d5ff2a 123px,#f7ff08 141px,#fff500 165px,#ffd500 196px,#ffde00 208px,#fbff04 224px,#d5ff2a 233px,#7aff85 243px,#6dff92 248px,#8fff70 255px,#c2ff3d 265px,#e7ff18 282px,#fff900 324px,#ffe400 345px,#ffc300 350px,#ff8a00 356px,#ff7500 362px,#ff8f00 373px,#ff8f00 502px)"></i><i style="height:4px;background:linear-gradient(90deg,#f5ff0a 0px,#f1ff0e 91px,#d0ff2f 105px,#cdff32 126px,#e7ff18 141px,#fff900 173px,#ffe800 204px,#fbff04 220px,#d2ff2d 231px,#66ff99 242px,#51ffae 248px,#60ff9f 253px,#bdff42 265px,#e0ff1f 280px,#fffa00 327px,#ffe100 339px,#ffb100 351px,#ff7c00 359px,#ff7600 364px,#ff8f00 372px,#ff8f00 502px)"></i><i style="height:4px;background:linear-gradient(90deg,#f5ff0a 0px,#f1ff0e 85px,#d0ff2f 99px,#c9ff36 121px,#c2ff3d 127px,#d7ff28 141px,#e8ff17 168px,#faff05 205px,#dbff24 226px,#b9ff46 232px,#67ff98 240px,#4effb1 245px,#54ffab 250px,#7eff81 257px,#bcff43 264px,#ddff22 279px,#fffb00 323px,#ffc300 341px,#ffb600 355px,#ff8700 364px,#ff8f00 384px,#ff8f00 502px)"></i><i style="height:4px;background:linear-gradient(90deg,#f5ff0a 0px,#f1ff0e 79px,#d0ff2f 93px,#c8ff37 121px,#b7ff48 128px,#c7ff38 141px,#cfff30 167px,#daff25 208px,#d2ff2d 220px,#c9ff36 227px,#a8ff57 232px,#6bff94 239px,#5bffa4 245px,#75ff8a 253px,#c2ff3d 264px,#dfff20 283px,#f7ff08 318px,#fff500 321px,#ffcc00 328px,#ffbf00 341px,#ffba00 360px,#ff9100 370px,#ff8f00 502px)"></i><i style="height:4px;background:linear-gradient(90deg,#f5ff0a 0px,#f1ff0e 73px,#d0ff2f 87px,#c7ff38 115px,#a8ff57 127px,#b8ff47 142px,#b9ff46 168px,#bbff44 211px,#b8ff47 227px,#7cff83 237px,#78ff87 245px,#95ff6a 255px,#c4ff3b 263px,#e4ff1b 291px,#e5ff1a 312px,#e9ff16 318px,#fffa00 322px,#ffcb00 328px,#ffbf00 337px,#ffb900 364px,#ff9200 371px,#ff8f00 502px)"></i><i style="height:4px;background:linear-gradient(90deg,#f5ff0a 0px,#f1ff0e 67px,#d0ff2f 81px,#c7ff38 107px,#a2ff5d 122px,#a5ff5a 153px,#a0ff5f 175px,#a6ff59 221px,#a3ff5c 229px,#92ff6d 237px,#adff52 255px,#cbff34 265px,#e0ff1f 293px,#e5ff1a 322px,#fffe00 327px,#ffcb00 334px,#ffbf00 343px,#ffbc00 364px,#ff9200 372px,#ff8f00 502px)"></i><i style="height:4px;background:linear-gradient(90deg,#f5ff0a 0px,#f1ff0e 61px,#d0ff2f 75px,#c8ff37 99px,#a1ff5e 114px,#92ff6d 151px,#8aff75 173px,#93ff6c 217px,#b5ff4a 249px,#d5ff2a 275px,#d8ff27 304px,#e5ff1a 328px,#fffe00 333px,#ffcb00 340px,#ffbf00 349px,#ffbb00 365px,#ff9100 373px,#ff8f00 502px)"></i><i style="height:4px;background:linear-gradient(90deg,#f5ff0a 0px,#f1ff0e 55px,#d0ff2f 69px,#c7ff38 92px,#a2ff5d 105px,#98ff67 131px,#75ff8a 160px,#83ff7c 193px,#84ff7b 211px,#bcff43 249px,#cfff30 273px,#d6ff29 312px,#e5ff1a 334px,#fffc00 339px,#ffcd00 345px,#ffbf00 353px,#ffb900 366px,#ff9200 373px,#ff8f00 502px)"></i><i style="height:4px;background:linear-gradient(90deg,#f5ff0a 0px,#f1ff0e 49px,#d0ff2f 63px,#c7ff38 84px,#a1ff5e 99px,#96ff69 125px,#82ff7d 137px,#74ff8b 146px,#61ff9e 156px,#76ff89 180px,#77ff88 194px,#77ff88 208px,#c5ff3a 255px,#d8ff27 323px,#e7ff18 340px,#fffa00 345px,#ffc900 352px,#ffb800 367px,#ff9100 374px,#ff8f00 502px)"></i><i style="height:4px;background:linear-gradient(90deg,#f5ff0a 0px,#efff10 44px,#d1ff2e 56px,#c7ff38 76px,#a1ff5e 91px,#96ff69 114px,#74ff8b 131px,#73ff8c 141px,#4fffb0 154px,#68ff97 178px,#72ff8d 189px,#6cff93 205px,#bdff42 249px,#c2ff3d 264px,#cfff30 282px,#d6ff29 331px,#e7ff18 346px,#fffa00 351px,#ffc900 358px,#ffb600 368px,#ff9300 374px,#ff8f00 502px)"></i><i style="height:4px;background:linear-gradient(90deg,#f5ff0a 0px,#f0ff0f 38px,#d0ff2f 51px,#c7ff38 69px,#a2ff5d 82px,#92ff6d 104px,#71ff8e 122px,#6dff92 140px,#45ffba 154px,#5fffa0 176px,#6eff91 188px,#67ff98 204px,#b2ff4d 245px,#c6ff39 264px,#cfff30 277px,#d6ff29 340px,#eaff15 353px,#fffa00 357px,#ffc900 364px,#ffad00 370px,#ff9200 375px,#ff8f00 502px)"></i><i style="height:4px;background:linear-gradient(90deg,#f5ff0a 0px,#f0ff0f 32px,#d0ff2f 45px,#c5ff3a 62px,#a2ff5d 75px,#92ff6d 92px,#72ff8d 110px,#69ff96 141px,#43ffbc 155px,#5cffa3 174px,#6dff92 189px,#69ff96 205px,#bdff42 254px,#ccff33 269px,#d5ff2a 349px,#e9ff16 359px,#fffa00 363px,#ff9800 374px,#ff8f00 383px,#ff8f00 502px)"></i><i style="height:4px;background:linear-gradient(90deg,#f5ff0a 0px,#f0ff0f 26px,#d0ff2f 39px,#c5ff3a 54px,#a1ff5e 68px,#89ff76 85px,#71ff8e 99px,#66ff99 139px,#43ffbc 158px,#6dff92 188px,#6eff91 207px,#a0ff5f 237px,#bdff42 245px,#c5ff3a 268px,#cfff30 282px,#d4ff2b 358px,#e7ff18 365px,#fdff02 368px,#ffc500 372px,#ff9d00 375px,#ff9000 379px,#ff8f00 502px)"></i><i style="height:4px;background:linear-gradient(90deg,#f5ff0a 0px,#eeff11 21px,#d0ff2f 33px,#c3ff3c 47px,#9eff61 61px,#72ff8d 87px,#66ff99 127px,#57ffa8 148px,#43ffbc 158px,#6eff91 188px,#75ff8a 212px,#8dff72 234px,#bcff43 243px,#c6ff39 271px,#cfff30 286px,#d4ff2b 366px,#eaff15 370px,#f8ff07 371px,#ffde00 373px,#ffa500 376px,#ff9100 379px,#ff8f00 502px)"></i><i style="height:4px;background:linear-gradient(90deg,#f5ff0a 0px,#eeff11 15px,#d0ff2f 27px,#c2ff3d 40px,#9bff64 53px,#72ff8d 74px,#65ff9a 117px,#59ffa6 149px,#41ffbe 157px,#4affb5 165px,#5fffa0 173px,#6fff90 194px,#77ff88 214px,#80ff7f 230px,#8bff74 237px,#baff45 244px,#c7ff38 274px,#cfff30 290px,#d3ff2c 369px,#ebff14 372px,#fcff03 373px,#ffac00 377px,#ff9300 380px,#ff8f00 502px)"></i><i style="height:4px;background:linear-gradient(90deg,#f5ff0a 0px,#e8ff17 11px,#d0ff2f 22px,#bfff40 33px,#84ff7b 52px,#70ff8f 67px,#66ff99 104px,#5bffa4 149px,#41ffbe 156px,#45ffba 164px,#5effa1 171px,#69ff96 183px,#70ff8f 205px,#79ff86 215px,#84ff7b 238px,#bbff44 247px,#c5ff3a 276px,#cfff30 290px,#d4ff2b 371px,#f2ff0d 374px,#fff900 375px,#ffa600 379px,#ff9200 382px,#ff8f00 502px)"></i><i style="height:4px;background:linear-gradient(90deg,#f2ff0d 0px,#cfff30 16px,#baff45 26px,#82ff7d 41px,#70ff8f 56px,#66ff99 92px,#5bffa4 149px,#41ffbe 156px,#45ffba 164px,#5fffa0 171px,#69ff96 183px,#70ff8f 205px,#79ff86 215px,#85ff7a 241px,#baff45 249px,#c6ff39 279px,#cfff30 294px,#d2ff2d 372px,#e8ff17 375px,#f9ff06 376px,#ffaf00 380px,#ff9300 383px,#ff8f00 502px)"></i><i style="height:4px;background:linear-gradient(90deg,#e2ff1d 0px,#bbff44 17px,#7dff82 32px,#70ff8f 48px,#65ff9a 82px,#5bffa4 149px,#41ffbe 156px,#45ffba 164px,#5fffa0 171px,#69ff96 183px,#70ff8f 205px,#79ff86 215px,#80ff7f 237px,#87ff78 244px,#bbff44 252px,#c7ff38 282px,#cfff30 298px,#d3ff2c 374px,#eeff11 377px,#fffd00 378px,#ffa900 382px,#ff9200 385px,#ff8f00 502px)"></i><i style="height:4px;background:linear-gradient(90deg,#cfff30 0px,#b9ff46 9px,#80ff7f 20px,#70ff8f 33px,#66ff99 69px,#5bffa4 149px,#41ffbe 156px,#45ffba 164px,#5fffa0 171px,#69ff96 183px,#70ff8f 205px,#79ff86 215px,#80ff7f 237px,#85ff7a 246px,#bcff43 255px,#c5ff3a 284px,#cfff30 298px,#d1ff2e 375px,#e6ff19 378px,#f5ff0a 379px,#fff400 380px,#ffb200 383px,#ff9400 386px,#ff8f00 502px)"></i><i style="height:4px;background:linear-gradient(90deg,#b1ff4e 0px,#78ff87 13px,#6fff90 37px,#60ff9f 85px,#5bffa4 149px,#41ffbe 156px,#45ffba 164px,#5fffa0 171px,#69ff96 183px,#70ff8f 205px,#79ff86 215px,#80ff80 237px,#86ff79 249px,#baff45 257px,#c6ff39 287px,#cfff30 301px,#d2ff2d 377px,#ebff14 380px,#fdff02 381px,#ffab00 385px,#ff9300 388px,#ff8f00 502px)"></i><i style="height:4px;background:linear-gradient(90deg,#7cff83 0px,#70ff8f 17px,#63ff9c 50px,#5bffa4 149px,#41ffbe 156px,#45ffba 164px,#5fffa0 171px,#69ff96 183px,#70ff8f 205px,#79ff86 215px,#80ff80 237px,#84ff7b 251px,#bbff44 260px,#c5ff3a 289px,#cfff30 302px,#d4ff2b 379px,#f2ff0d 382px,#fff800 383px,#ffa600 387px,#ff9200 390px,#ff8f00 502px)"></i><i style="height:4px;background:linear-gradient(90deg,#70ff8f 0px,#66ff99 34px,#60ff9f 101px,#5bffa4 149px,#41ffbe 156px,#45ffba 164px,#5fffa0 171px,#69ff96 183px,#70ff8f 205px,#79ff86 215px,#80ff80 237px,#85ff7a 254px,#bcff43 263px,#c6ff39 292px,#cfff30 307px,#d2ff2d 380px,#e8ff17 383px,#f9ff06 384px,#ffae00 388px,#ff9300 391px,#ff8f00 502px)"></i><i style="height:3px;background:linear-gradient(90deg,#70ff8f 0px,#6aff95 21px,#60ff9f 48px,#5bffa4 149px,#41ffbe 156px,#45ffba 164px,#5fffa0 171px,#69ff96 183px,#70ff8f 205px,#79ff86 215px,#80ff80 237px,#84ff7b 256px,#a8ff57 261px,#beff41 265px,#c6ff39 294px,#cfff30 306px,#d3ff2c 382px,#e3ff1c 384px,#fff700 386px,#ffb200 389px,#ff9900 391px,#ff8f00 397px,#ff8f00 502px)"></i></div></div></div><div class="p" style="left:871.0px;top:594.4px"><div class="o"><div class="rw"><i style="height:5px;background:linear-gradient(90deg,#ff5900 0px,#ff6600 209px,#ff5600 244px,#ff4900 426px,#ff4600 502px)"></i><i style="height:5px;background:linear-gradient(90deg,#ff5900 0px,#ff6200 211px,#ff5700 254px,#ff4900 428px,#ff4600 502px)"></i><i style="height:5px;background:linear-gradient(90deg,#ff5a00 0px,#ff6000 156px,#ff4800 429px,#ff4600 502px)"></i><i style="height:5px;background:linear-gradient(90deg,#ff5a00 0px,#ff5f00 112px,#ff4a00 423px,#ff4600 502px)"></i><i style="height:5px;background:linear-gradient(90deg,#ff5c00 0px,#ff5f00 124px,#ff4b00 420px,#ff4600 502px)"></i><i style="height:5px;background:linear-gradient(90deg,#ff5e00 0px,#ff5e00 152px,#ff4b00 417px,#ff4600 502px)"></i><i style="height:5px;background:linear-gradient(90deg,#ff5f00 0px,#ff5f00 163px,#ff4b00 416px,#ff4600 502px)"></i><i style="height:5px;background:linear-gradient(90deg,#ff6000 0px,#ff6100 132px,#ff4c00 414px,#ff4600 502px)"></i><i style="height:5px;background:linear-gradient(90deg,#ff6100 0px,#ff6300 107px,#ff4d00 412px,#ff4600 502px)"></i><i style="height:5px;background:linear-gradient(90deg,#ff6500 0px,#ff6100 165px,#ff4d00 411px,#ff4700 502px)"></i><i style="height:5px;background:linear-gradient(90deg,#ff6c00 0px,#ff4e00 407px,#ff4900 477px,#ff4900 502px)"></i><i style="height:5px;background:linear-gradient(90deg,#ff7300 0px,#ff5e00 228px,#ff4d00 408px,#ff4a00 478px,#ff4a00 502px)"></i><i style="height:5px;background:linear-gradient(90deg,#ff7700 0px,#ff6500 134px,#ff4f00 403px,#ff4900 470px,#ff4c00 502px)"></i><i style="height:5px;background:linear-gradient(90deg,#ff7900 0px,#ff6600 129px,#ff5100 399px,#ff4a00 467px,#ff4c00 502px)"></i><i style="height:5px;background:linear-gradient(90deg,#ff7c00 0px,#ff7200 56px,#ff6500 154px,#ff5400 393px,#ff4a00 463px,#ff4d00 502px)"></i><i style="height:5px;background:linear-gradient(90deg,#ff8100 0px,#ff7600 55px,#ff6a00 103px,#ff5900 382px,#ff4a00 458px,#ff4e00 502px)"></i><i style="height:5px;background:linear-gradient(90deg,#ff8800 0px,#ff7800 56px,#ff6c00 96px,#ff5f00 360px,#ff4b00 457px,#ff4f00 502px)"></i><i style="height:5px;background:linear-gradient(90deg,#ff8d00 0px,#ff7c00 55px,#ff6e00 90px,#ff6600 330px,#ff4c00 458px,#ff4f00 502px)"></i><i style="height:5px;background:linear-gradient(90deg,#ff9200 0px,#ff8100 54px,#ff7100 87px,#ff6d00 299px,#ff4d00 458px,#ff5000 502px)"></i><i style="height:5px;background:linear-gradient(90deg,#ff9900 0px,#ff8700 53px,#ff7500 86px,#ff7400 269px,#ff5400 407px,#ff5000 492px,#ff5000 502px)"></i><i style="height:5px;background:linear-gradient(90deg,#ffa300 0px,#ff8e00 53px,#ff7a00 86px,#ff7a00 241px,#ff5600 402px,#ff5100 480px,#ff5000 502px)"></i><i style="height:5px;background:linear-gradient(90deg,#ffaf00 0px,#ff9d00 47px,#ff8100 84px,#ff8000 218px,#ff5700 398px,#ff5100 476px,#ff5100 502px)"></i><i style="height:5px;background:linear-gradient(90deg,#ffbe00 0px,#ffae00 40px,#ff8900 84px,#ff8300 208px,#ff5800 395px,#ff5200 473px,#ff5300 502px)"></i><i style="height:5px;background:linear-gradient(90deg,#ffd100 0px,#ffbd00 39px,#ff9200 84px,#ff7e00 238px,#ff5900 393px,#ff5200 472px,#ff5500 502px)"></i><i style="height:5px;background:linear-gradient(90deg,#ffe300 0px,#ffc700 43px,#ff9a00 85px,#ff5b00 388px,#ff5200 468px,#ff5600 502px)"></i><i style="height:5px;background:linear-gradient(90deg,#fff100 0px,#ffd100 46px,#ffa100 87px,#ff5b00 388px,#ff5300 469px,#ff5600 502px)"></i><i style="height:5px;background:linear-gradient(90deg,#fffa00 0px,#ffd900 49px,#ffa600 89px,#ff8c00 172px,#ff5c00 386px,#ff5400 468px,#ff5700 502px)"></i><i style="height:5px;background:linear-gradient(90deg,#fbff04 0px,#fff000 39px,#ffab00 93px,#ff9100 150px,#ff5c00 385px,#ff5400 467px,#ff5800 502px)"></i><i style="height:5px;background:linear-gradient(90deg,#f4ff0b 0px,#fff900 42px,#ffb200 95px,#ff9200 148px,#ff5d00 384px,#ff5600 467px,#ff5b00 502px)"></i><i style="height:5px;background:linear-gradient(90deg,#ebff14 0px,#fffb00 50px,#ffbd00 95px,#ff9300 150px,#ff5e00 383px,#ff5700 466px,#ff5d00 502px)"></i><i style="height:5px;background:linear-gradient(90deg,#e1ff1e 0px,#f3ff0c 46px,#fff800 60px,#ffc300 99px,#ff9300 158px,#ff5e00 382px,#ff5800 465px,#ff5f00 502px)"></i><i style="height:5px;background:linear-gradient(90deg,#d3ff2c 0px,#e4ff1b 44px,#fff900 66px,#ffaf00 130px,#ff8c00 182px,#ff5f00 381px,#ff5a00 465px,#ff5f00 502px)"></i><i style="height:5px;background:linear-gradient(90deg,#c1ff3e 0px,#d7ff28 46px,#fffa00 72px,#ff9600 169px,#ff7800 277px,#ff6000 381px,#ff5c00 467px,#ff6000 502px)"></i><i style="height:5px;background:linear-gradient(90deg,#afff50 0px,#c9ff36 47px,#fffd00 78px,#ff9200 184px,#ff6c00 340px,#ff5b00 437px,#ff6100 502px)"></i><i style="height:5px;background:linear-gradient(90deg,#a3ff5c 0px,#b9ff46 46px,#f6ff09 79px,#fff400 98px,#ff9000 197px,#ff6b00 347px,#ff5e00 447px,#ff6400 502px)"></i><i style="height:5px;background:linear-gradient(90deg,#9aff65 0px,#adff52 46px,#ecff13 81px,#fff900 104px,#ff8d00 210px,#ff6b00 349px,#ff6200 456px,#ff6800 502px)"></i><i style="height:5px;background:linear-gradient(90deg,#91ff6e 0px,#a3ff5c 48px,#e2ff1d 83px,#fff900 115px,#ff8b00 223px,#ff6c00 350px,#ff6600 463px,#ff6c00 502px)"></i><i style="height:5px;background:linear-gradient(90deg,#88ff77 0px,#9bff64 50px,#d9ff26 86px,#fffa00 125px,#ff8800 236px,#ff6c00 350px,#ff6a00 472px,#ff6e00 502px)"></i><i style="height:5px;background:linear-gradient(90deg,#82ff7d 0px,#93ff6c 50px,#d3ff2c 91px,#fffa00 136px,#ff8600 249px,#ff6d00 350px,#ff6e00 485px,#ff6f00 502px)"></i><i style="height:5px;background:linear-gradient(90deg,#7fff80 0px,#8cff73 50px,#d2ff2d 101px,#fffa00 147px,#ff8300 262px,#ff6e00 349px,#ff7000 502px)"></i><i style="height:5px;background:linear-gradient(90deg,#7dff82 0px,#87ff78 51px,#f8ff07 147px,#ffea00 172px,#ff8000 276px,#ff6f00 350px,#ff7100 502px)"></i><i style="height:5px;background:linear-gradient(90deg,#79ff86 0px,#84ff7b 53px,#fffa00 168px,#ff7e00 288px,#ff7000 348px,#ff7200 502px)"></i><i style="height:5px;background:linear-gradient(90deg,#74ff8b 0px,#82ff7d 58px,#fffa00 179px,#ff7c00 301px,#ff7100 348px,#ff7400 502px)"></i><i style="height:5px;background:linear-gradient(90deg,#71ff8e 0px,#7fff80 65px,#fffb00 189px,#ff7900 314px,#ff7200 352px,#ff7500 502px)"></i><i style="height:5px;background:linear-gradient(90deg,#70ff8f 0px,#7bff84 69px,#fffb00 198px,#ff7500 326px,#ff7600 485px,#ff7600 502px)"></i><i style="height:5px;background:linear-gradient(90deg,#6fff90 0px,#74ff8b 68px,#a2ff5d 117px,#fffa00 206px,#ff7400 334px,#ff7800 502px)"></i><i style="height:5px;background:linear-gradient(90deg,#6dff92 0px,#6eff91 65px,#89ff76 100px,#fffb00 211px,#ff7500 338px,#ff7a00 502px)"></i><i style="height:5px;background:linear-gradient(90deg,#69ff96 0px,#6aff95 67px,#84ff7b 101px,#fffa00 216px,#ff7800 339px,#ff7d00 502px)"></i><i style="height:5px;background:linear-gradient(90deg,#61ff9e 0px,#69ff96 77px,#fffa00 220px,#ff7a00 340px,#ff8000 502px)"></i><i style="height:5px;background:linear-gradient(90deg,#58ffa7 0px,#69ff96 85px,#fffa00 224px,#ff7c00 341px,#ff8200 502px)"></i><i style="height:5px;background:linear-gradient(90deg,#53ffac 0px,#66ff99 88px,#fffa00 228px,#ff7e00 341px,#ff8300 502px)"></i><i style="height:5px;background:linear-gradient(90deg,#50ffaf 0px,#61ff9e 87px,#fffb00 232px,#ff8100 341px,#ff8600 502px)"></i><i style="height:5px;background:linear-gradient(90deg,#50ffaf 0px,#5cffa3 86px,#fffb00 236px,#ff8f00 328px,#ff8400 352px,#ff8800 502px)"></i><i style="height:5px;background:linear-gradient(90deg,#4fffb0 0px,#59ffa6 85px,#fffa00 241px,#ff8900 341px,#ff8a00 502px)"></i><i style="height:5px;background:linear-gradient(90deg,#4fffb0 0px,#57ffa8 86px,#fffa00 245px,#ff9000 341px,#ff9000 487px,#ff8d00 502px)"></i><i style="height:5px;background:linear-gradient(90deg,#4dffb2 0px,#57ffa8 90px,#fffa00 249px,#ff9800 341px,#ff9400 478px,#ff9400 502px)"></i><i style="height:5px;background:linear-gradient(90deg,#4cffb3 0px,#57ffa8 94px,#fffa00 253px,#ffa500 337px,#ff9a00 376px,#ff9d00 485px,#ff9b00 502px)"></i><i style="height:5px;background:linear-gradient(90deg,#4affb5 0px,#57ffa8 97px,#fffb00 256px,#ffb700 325px,#ffa400 368px,#ffa200 501px,#ffa200 502px)"></i><i style="height:5px;background:linear-gradient(90deg,#4affb5 0px,#56ffa9 99px,#fffa00 260px,#ffc500 316px,#ffb100 369px,#ffaf00 497px,#ffab00 502px)"></i><i style="height:5px;background:linear-gradient(90deg,#49ffb6 0px,#54ffab 100px,#fffa00 263px,#ffd000 310px,#ffc000 373px,#ffbf00 498px,#ffbd00 502px)"></i><i style="height:5px;background:linear-gradient(90deg,#49ffb6 0px,#52ffad 100px,#fffb00 266px,#ffd800 306px,#ffd000 377px,#ffd600 502px)"></i><i style="height:5px;background:linear-gradient(90deg,#48ffb7 0px,#50ffaf 102px,#fffa00 270px,#ffe100 303px,#ffde00 357px,#ffe000 422px,#ffed00 502px)"></i><i style="height:5px;background:linear-gradient(90deg,#45ffba 0px,#50ffaf 105px,#fffb00 273px,#ffe800 301px,#ffef00 354px,#ffee00 381px,#fff000 418px,#fffb00 502px)"></i><i style="height:5px;background:linear-gradient(90deg,#43ffbc 0px,#50ffaf 109px,#fffb00 277px,#fff100 303px,#fffe00 353px,#fffc00 382px,#fcff03 502px)"></i><i style="height:5px;background:linear-gradient(90deg,#41ffbe 0px,#4fffb0 112px,#fffc00 281px,#fffa00 308px,#f6ff09 359px,#f6ff09 500px,#f6ff09 502px)"></i><i style="height:5px;background:linear-gradient(90deg,#40ffbf 0px,#4dffb2 112px,#ffff00 285px,#f7ff08 318px,#ebff14 359px,#edff12 498px,#efff10 502px)"></i><i style="height:5px;background:linear-gradient(90deg,#3fffc0 0px,#49ffb6 108px,#9fff60 195px,#f8ff07 283px,#f6ff09 311px,#e1ff1e 355px,#e3ff1c 494px,#e8ff17 502px)"></i><i style="height:5px;background:linear-gradient(90deg,#3effc1 0px,#46ffb9 102px,#72ff8d 157px,#efff10 278px,#f3ff0c 307px,#d8ff27 354px,#daff25 491px,#e3ff1c 502px)"></i><i style="height:5px;background:linear-gradient(90deg,#3bffc4 0px,#44ffbb 100px,#75ff8a 163px,#e7ff18 274px,#eeff11 305px,#cfff30 354px,#cdff32 488px,#daff25 502px)"></i><i style="height:5px;background:linear-gradient(90deg,#36ffc9 0px,#42ffbd 97px,#78ff87 169px,#dfff20 271px,#e9ff16 303px,#c6ff39 355px,#bfff40 488px,#c6ff39 502px)"></i><i style="height:5px;background:linear-gradient(90deg,#33ffcc 0px,#40ffbf 93px,#7dff82 176px,#d8ff27 268px,#e4ff1b 301px,#bcff43 358px,#b4ff4b 460px,#aaff55 502px)"></i><i style="height:5px;background:linear-gradient(90deg,#31ffce 0px,#3dffc2 88px,#82ff7d 184px,#d2ff2d 267px,#dfff20 300px,#b1ff4e 360px,#a7ff58 459px,#9cff63 490px,#92ff6d 502px)"></i><i style="height:5px;background:linear-gradient(90deg,#30ffcf 0px,#3affc5 83px,#87ff78 192px,#cfff30 268px,#dbff24 298px,#a7ff58 361px,#9aff65 458px,#91ff6e 490px,#85ff7a 502px)"></i><i style="height:5px;background:linear-gradient(90deg,#2fffd0 0px,#38ffc7 80px,#8dff72 201px,#cfff30 273px,#d5ff2a 298px,#9eff61 360px,#8dff72 439px,#87ff78 492px,#81ff7e 502px)"></i><i style="height:5px;background:linear-gradient(90deg,#2effd1 0px,#35ffca 78px,#95ff6a 211px,#d1ff2e 282px,#cbff34 303px,#95ff6a 362px,#83ff7c 442px,#7fff80 502px)"></i><i style="height:5px;background:linear-gradient(90deg,#2cffd3 0px,#34ffcb 78px,#97ff68 217px,#ceff31 285px,#beff41 308px,#87ff78 372px,#7aff85 477px,#7aff85 502px)"></i><i style="height:5px;background:linear-gradient(90deg,#27ffd8 0px,#35ffca 81px,#9eff61 229px,#c8ff37 289px,#80ff7f 373px,#72ff8d 482px,#71ff8e 502px)"></i><i style="height:5px;background:linear-gradient(90deg,#23ffdc 0px,#35ffca 84px,#a5ff5a 244px,#beff41 291px,#7aff85 373px,#64ff9b 502px)"></i><i style="height:5px;background:linear-gradient(90deg,#21ffde 0px,#35ffca 87px,#b5ff4a 286px,#8fff70 339px,#73ff8c 376px,#5affa5 502px)"></i><i style="height:5px;background:linear-gradient(90deg,#20ffdf 0px,#36ffc9 93px,#a9ff56 281px,#a1ff5e 311px,#80ff7f 347px,#66ff99 404px,#55ffaa 502px)"></i><i style="height:5px;background:linear-gradient(90deg,#20ffdf 0px,#35ffca 97px,#4dffb2 122px,#61ff9e 160px,#95ff6a 249px,#a3ff5c 301px,#84ff7b 342px,#71ff8e 364px,#5dffa2 429px,#53ffac 502px)"></i><i style="height:2px;background:linear-gradient(90deg,#20ffdf 0px,#33ffcc 97px,#4dffb2 119px,#5cffa3 156px,#6bff94 185px,#83ff7c 230px,#9cff63 268px,#9dff62 310px,#81ff7e 343px,#70ff8f 363px,#60ff9f 409px,#53ffac 502px)"></i></div></div><div class="l" style="clip-path:path('M36.5 -0.2 L36.1 2.1 L32.5 3.9 L31.9 9.9 L27.1 12.3 L28.9 14.7 L34.9 24.4 L40.9 32.8 L48.2 38.8 L54.2 46.2 L58.3 50.4 L61.3 53.7 L63.3 57.9 L64.4 61.2 L64.8 65.0 L66.3 67.5 L66.7 70.0 L67.9 72.9 L70.0 76.6 L72.1 80.0 L74.6 84.6 L78.3 93.0 L74.6 100.2 L77.1 108.7 L80.7 115.2 L83.1 122.4 L82.5 129.6 L80.1 135.6 L77.1 138.0 L72.2 142.8 L69.2 146.5 L67.4 153.7 L66.2 160.9 L63.8 168.1 L60.8 172.9 L60.2 180.2 L61.4 185.0 L60.2 189.8 L60.2 193.4 L62.6 199.4 L67.4 204.2 L72.2 211.5 L77.1 221.1 L81.6 231.1 L89.6 243.9 L88.8 250.3 L92.9 267.9 L95.3 282.4 L99.3 292.0 L105.7 301.6 L112.9 307.2 L116.9 314.4 L121.7 327.2 L128.1 336.8 L132.1 344.8 L129.7 351.2 L127.3 352.8 L129.7 359.2 L132.9 367.2 L139.3 370.4 L148.9 372.8 L155.3 370.4 L168.1 368.0 L179.3 364.0 L192.1 365.1 L200.7 366.3 L211.5 364.5 L222.2 361.0 L234.7 353.8 L247.2 344.9 L257.9 335.9 L266.9 327.0 L274.0 318.1 L283.0 310.9 L288.3 305.6 L290.1 298.4 L291.9 289.5 L292.8 282.3 L290.1 278.7 L295.5 275.2 L304.4 269.8 L315.1 264.4 L319.6 257.3 L321.4 246.6 L320.5 235.8 L316.9 230.5 L311.6 219.8 L313.3 212.6 L318.1 207.9 L325.5 203.5 L333.0 199.0 L340.4 193.1 L349.3 188.7 L356.7 185.7 L364.1 182.7 L370.0 176.8 L375.9 167.9 L378.9 160.5 L376.7 142.7 L375.9 127.9 L376.5 120.3 L374.2 114.7 L369.4 111.1 L365.8 105.1 L364.6 99.0 L363.3 91.8 L362.1 84.6 L362.1 77.4 L358.5 72.5 L357.3 67.7 L358.5 60.5 L362.1 54.5 L365.8 49.7 L368.2 44.9 L370.6 38.8 L373.0 32.8 L380.2 26.8 L386.2 20.8 L392.2 13.5 L398.3 7.5 L406.7 0.3 L407.5 -0.2 L407.5 -11.7 L36.5 -11.7Z M471.5 132.4 L476.6 136.8 L481.1 147.2 L482.6 157.6 L484.0 167.9 L479.6 167.9 L477.4 170.9 L478.1 181.3 L475.2 187.2 L472.2 202.0 L467.8 216.8 L466.2 219.3 L461.4 231.1 L457.4 246.4 L453.4 256.7 L448.6 268.0 L438.9 272.0 L429.3 275.2 L419.7 272.0 L413.3 266.4 L410.1 258.3 L410.5 250.3 L407.0 243.3 L406.3 237.5 L409.3 231.1 L413.3 224.7 L417.5 219.3 L418.9 213.8 L415.9 202.0 L414.4 190.1 L417.4 181.2 L420.4 176.8 L429.2 173.8 L438.1 170.9 L447.0 166.4 L451.5 160.5 L457.4 153.1 L463.3 144.2 L467.8 133.8Z')"><div class="rw"><i style="height:4px;background:linear-gradient(90deg,#ff8f00 0px,#ff9500 52px,#ff9300 71px,#ff9400 159px,#ff9000 205px,#ff9300 238px,#ffbe00 246px,#ffc900 250px,#fff500 253px,#f5ff0a 254px,#c9ff36 257px,#c3ff3c 261px,#deff21 264px,#fffe00 266px,#ffd800 269px,#ffc200 280px,#ffb000 286px,#ffb300 306px,#ffce00 309px,#feff01 312px,#e3ff1c 315px,#ceff31 319px,#81ff7e 324px,#6fff90 328px,#62ff9d 336px,#79ff86 339px,#e6ff19 344px,#feff01 347px,#fff000 350px,#ffae00 355px,#ff9f00 359px,#ff8b00 364px,#ff7100 369px,#ff6000 389px,#ff6000 502px)"></i><i style="height:4px;background:linear-gradient(90deg,#ff8f00 0px,#ff9500 52px,#ff9300 71px,#ff9400 159px,#ff9400 238px,#ffbd00 246px,#ffcb00 250px,#fff500 253px,#e3ff1c 255px,#c5ff3a 258px,#caff35 262px,#eeff11 265px,#ffff00 266px,#ffda00 269px,#ffc200 280px,#ffb000 286px,#ffb400 306px,#ffce00 309px,#ffff00 312px,#e3ff1c 315px,#cdff32 319px,#82ff7d 324px,#6fff90 328px,#63ff9c 336px,#7aff85 339px,#e5ff1a 344px,#feff01 347px,#ffef00 350px,#ffaf00 355px,#ff9d00 360px,#ff7200 369px,#ff6000 389px,#ff6000 502px)"></i><i style="height:4px;background:linear-gradient(90deg,#ff8f00 0px,#ff9600 53px,#ff9100 154px,#ff9000 211px,#ff9500 236px,#ffcb00 249px,#fffa00 253px,#d0ff2f 257px,#c9ff36 260px,#e4ff1b 264px,#fbff04 266px,#ffd600 272px,#ffb000 287px,#ffb300 304px,#ffc800 308px,#fff900 312px,#bcff43 320px,#81ff7e 325px,#66ff99 332px,#69ff96 336px,#83ff7c 339px,#e8ff17 345px,#fcff03 347px,#ffc700 353px,#ffa000 358px,#ff7100 370px,#ff6000 392px,#ff6000 502px)"></i><i style="height:4px;background:linear-gradient(90deg,#ff8f00 0px,#ff9600 54px,#ff9200 146px,#ff9600 235px,#ffca00 248px,#feff01 253px,#cfff30 257px,#c8ff37 260px,#fffa00 268px,#ffc400 277px,#ffac00 290px,#ffb200 303px,#ffd900 309px,#ffff00 313px,#79ff86 327px,#66ff99 332px,#6dff92 336px,#93ff6c 340px,#faff05 347px,#ff9c00 358px,#ff7500 368px,#ff6000 393px,#ff6000 502px)"></i><i style="height:4px;background:linear-gradient(90deg,#ff8f00 0px,#ff9600 55px,#ff9100 132px,#ff9600 235px,#ffcf00 248px,#fffb00 252px,#c4ff3b 257px,#bdff42 260px,#fdff02 268px,#ffbc00 279px,#ffaa00 288px,#ffae00 301px,#ffd700 308px,#feff01 313px,#74ff8b 328px,#66ff99 333px,#7bff84 338px,#b9ff46 343px,#f9ff06 347px,#ffa700 356px,#ff7f00 363px,#ff6200 385px,#ff6000 502px)"></i><i style="height:4px;background:linear-gradient(90deg,#ff8f00 0px,#ff9600 55px,#ff9200 135px,#ff9600 235px,#ffcc00 247px,#f9ff06 252px,#b7ff48 257px,#b2ff4d 260px,#ffff00 269px,#ffb000 282px,#ffa700 293px,#ffb000 301px,#fbff04 313px,#71ff8e 329px,#6dff92 334px,#85ff7a 339px,#b7ff48 343px,#f9ff06 347px,#ffbe00 353px,#ff8800 360px,#ff7000 371px,#ff6200 393px,#ff6000 502px)"></i><i style="height:4px;background:linear-gradient(90deg,#ff8f00 0px,#ff9600 56px,#ff9200 137px,#ff9100 230px,#ff9e00 238px,#ffce00 247px,#fcff03 251px,#b4ff4b 256px,#a8ff57 259px,#cfff30 264px,#ffff00 269px,#ffac00 282px,#ffa200 291px,#ffa800 300px,#fff100 311px,#f6ff09 314px,#80ff7f 328px,#7aff85 332px,#9aff65 340px,#caff35 344px,#fbff04 347px,#ffb300 354px,#ff8200 361px,#ff6400 383px,#ff6400 409px,#ff6000 502px)"></i><i style="height:4px;background:linear-gradient(90deg,#ff8f00 0px,#ff9700 59px,#ff8f00 107px,#ff9200 226px,#ff9400 236px,#ffbb00 245px,#ffdb00 248px,#fffc00 250px,#b1ff4e 255px,#a3ff5c 258px,#c1ff3e 262px,#fcff03 268px,#ffad00 280px,#ff9c00 287px,#ffa100 300px,#ffd000 308px,#fffd00 314px,#92ff6d 327px,#91ff6e 331px,#beff41 342px,#feff01 347px,#ffbb00 353px,#ff8600 360px,#ff6e00 372px,#ff6500 392px,#ff6700 410px,#ff6000 430px,#ff6000 502px)"></i><i style="height:4px;background:linear-gradient(90deg,#ff8f00 0px,#ff9700 62px,#ff9400 101px,#ff8b00 129px,#ff8f00 155px,#ff9200 224px,#ff9200 236px,#ffb700 245px,#ffdb00 248px,#faff05 250px,#afff50 254px,#9eff61 257px,#bcff43 261px,#fffb00 268px,#ffae00 278px,#ff9700 285px,#ff9900 300px,#ffbd00 307px,#fcff03 316px,#aaff55 325px,#a1ff5e 329px,#ccff33 338px,#d8ff27 343px,#fffb00 347px,#ffb200 354px,#ff8300 361px,#ff6a00 376px,#ff6800 395px,#ff6900 412px,#ff6000 425px,#ff6000 502px)"></i><i style="height:4px;background:linear-gradient(90deg,#ff8f00 0px,#ff9700 65px,#ff9a00 96px,#ff8900 127px,#ff8800 153px,#ff9600 196px,#ff9000 236px,#ffb300 245px,#ffdb00 248px,#f6ff09 250px,#b3ff4c 253px,#9cff63 255px,#a2ff5d 258px,#fffd00 267px,#ffaa00 277px,#ff9300 284px,#ff8f00 298px,#ffa500 305px,#ffff00 317px,#b6ff49 325px,#b4ff4b 328px,#eaff15 337px,#f2ff0d 344px,#fffe00 346px,#ff9900 357px,#ff7800 365px,#ff6500 387px,#ff6e00 413px,#ff6000 424px,#ff6500 497px,#ff7400 502px)"></i><i style="height:4px;background:linear-gradient(90deg,#ff8f00 0px,#ff9800 69px,#ff9e00 93px,#ff8200 137px,#ff8300 153px,#ff9400 184px,#ff8f00 223px,#ff8e00 236px,#ffb000 245px,#ffda00 248px,#fff000 249px,#f4ff0b 250px,#aeff51 253px,#99ff66 255px,#a5ff5a 258px,#feff01 266px,#ffa200 277px,#ff8e00 284px,#ff8a00 298px,#ffa100 306px,#fffd00 318px,#caff35 324px,#c6ff39 327px,#feff01 335px,#fff200 340px,#fff500 345px,#ffcb00 351px,#ff8e00 359px,#ff7000 370px,#ff6800 390px,#ff7000 415px,#ff6000 425px,#ff6400 490px,#ff7f00 496px,#ffa800 502px)"></i><i style="height:4px;background:linear-gradient(90deg,#ff8f00 0px,#ff9700 69px,#ffa000 92px,#ff7a00 146px,#ff9300 183px,#ff8f00 221px,#ff8c00 236px,#ffad00 245px,#ffd300 248px,#fcff03 250px,#b6ff49 253px,#a1ff5e 255px,#adff52 258px,#fdff02 265px,#ff9a00 277px,#ff8800 286px,#ff8600 298px,#ff9b00 306px,#fffb00 319px,#d5ff2a 325px,#e2ff1d 329px,#fffc00 333px,#ffde00 338px,#ffe400 347px,#ffb300 354px,#ff8700 361px,#ff7000 372px,#ff6900 388px,#ff7300 417px,#ff6000 426px,#ff6400 483px,#ff8500 490px,#ffb700 498px,#ffbe00 502px)"></i><i style="height:4px;background:linear-gradient(90deg,#ff8f00 0px,#ff9500 69px,#ff9f00 93px,#ff7800 145px,#ff9400 184px,#ff8d00 222px,#ff8b00 236px,#ffad00 246px,#ffd700 249px,#faff05 251px,#c2ff3d 254px,#b7ff48 256px,#c8ff37 259px,#fffd00 264px,#ffa400 274px,#ff8d00 280px,#ff8400 297px,#ff9c00 306px,#fff600 320px,#f6ff09 322px,#e2ff1d 326px,#f2ff0d 330px,#fff500 333px,#ffd800 338px,#ffde00 348px,#ffaf00 355px,#ff8500 362px,#ff7000 374px,#ff6a00 387px,#ff7600 419px,#ff6000 428px,#ff6400 476px,#ff8500 483px,#ffb600 491px,#ffbf00 502px)"></i><i style="height:4px;background:linear-gradient(90deg,#ff8f00 0px,#ff9500 49px,#ff9200 67px,#ff9c00 95px,#ff7900 140px,#ff8000 156px,#ff9400 186px,#ff8a00 224px,#ff8a00 236px,#ffa400 246px,#ffc400 249px,#fffb00 252px,#ddff22 255px,#daff25 258px,#fbff04 262px,#ffa200 273px,#ff8a00 280px,#ff8600 298px,#ffa500 307px,#ffd200 316px,#ffff00 323px,#f0ff0f 327px,#ffff00 331px,#ffd700 338px,#ffd700 349px,#ffad00 356px,#ff8400 363px,#ff6900 382px,#ff7900 421px,#ff6000 430px,#ff6400 469px,#ff8500 476px,#ffb600 484px,#ffbf00 499px,#ffbf00 502px)"></i><i style="height:4px;background:linear-gradient(90deg,#ff8f00 0px,#ff9400 49px,#ff9000 67px,#ff9900 97px,#ff7900 136px,#ff7c00 153px,#ff9300 182px,#ff8a00 223px,#ff8800 236px,#ffa000 247px,#ffcc00 251px,#fff800 255px,#feff01 259px,#ffe700 263px,#ffa700 271px,#ff8800 279px,#ff8500 297px,#ffae00 308px,#ffe100 321px,#fffd00 327px,#fff200 332px,#ffd600 339px,#ffcf00 350px,#ffa300 358px,#ff7d00 366px,#ff6a00 381px,#ff7c00 423px,#ff6100 432px,#ff6600 463px,#ff8400 469px,#ffb300 476px,#ffbf00 486px,#ffbf00 502px)"></i><i style="height:4px;background:linear-gradient(90deg,#ff8f00 0px,#ff9400 49px,#ff9400 56px,#ff8c00 65px,#ff9600 98px,#ff7700 135px,#ff7b00 153px,#ff9200 181px,#ff8900 222px,#ff8700 237px,#ff9a00 248px,#ffd100 256px,#ffd900 261px,#ff8d00 276px,#ff8300 286px,#ff8a00 298px,#ffc000 314px,#ffe000 324px,#ffec00 331px,#ffd200 343px,#ffbc00 354px,#ff7f00 366px,#ff6b00 379px,#ff7f00 425px,#ff6100 434px,#ff6500 456px,#ff8400 462px,#ffb600 470px,#ffbf00 482px,#ffbf00 502px)"></i><i style="height:4px;background:linear-gradient(90deg,#ff8f00 0px,#ff9500 50px,#ff9400 57px,#ff8a00 66px,#ff9400 99px,#ff7400 135px,#ff7b00 154px,#ff9100 181px,#ff8900 219px,#ff8400 238px,#ff9600 250px,#ffbe00 262px,#ffa300 270px,#ff8300 279px,#ff8500 295px,#ffb900 313px,#ffe300 332px,#ffb200 356px,#ff7a00 368px,#ff6d00 379px,#ff8200 427px,#ff6100 436px,#ff6400 450px,#ff8500 456px,#ffb500 463px,#ffbf00 475px,#ffbf00 502px)"></i><i style="height:4px;background:linear-gradient(90deg,#ff8f00 0px,#ff9400 50px,#ff9600 57px,#ff8700 67px,#ff9400 99px,#ff7300 135px,#ff7a00 153px,#ff8f00 179px,#ff8a00 214px,#ff8000 236px,#ff9900 253px,#ffb300 263px,#ff9600 272px,#ff8300 280px,#ff8a00 295px,#ffb200 310px,#ffe100 334px,#ffa900 358px,#ff7600 369px,#ff6f00 380px,#ff8300 430px,#ff6200 439px,#ff6900 446px,#ff9400 452px,#ffb600 457px,#ffbf00 468px,#ffbf00 502px)"></i><i style="height:4px;background:linear-gradient(90deg,#ff8f00 0px,#ff9300 50px,#ff9800 57px,#ff8500 69px,#ff9700 98px,#ff7400 135px,#ff7b00 153px,#ff8e00 179px,#ff8900 213px,#ff7c00 234px,#ff9800 253px,#ffac00 262px,#ff9a00 270px,#ff8600 278px,#ff8d00 294px,#ffaf00 308px,#ffe200 335px,#ffa800 358px,#ff7300 370px,#ff7400 387px,#ff8700 432px,#ff6c00 440px,#ff7b00 444px,#ffb400 451px,#ffbf00 459px,#ffbf00 502px)"></i><i style="height:4px;background:linear-gradient(90deg,#ff8f00 0px,#ff9400 51px,#ff9b00 57px,#ff8100 70px,#ff9800 97px,#ff7400 136px,#ff7d00 154px,#ff8e00 186px,#ff8000 219px,#ff7a00 234px,#ff9700 253px,#ffa300 263px,#ff8800 278px,#ff9300 294px,#ffae00 308px,#ffe200 335px,#ffc600 347px,#ff9400 362px,#ff7200 370px,#ff8900 435px,#ff8000 440px,#ff9f00 444px,#ffba00 448px,#ffbf00 502px)"></i><i style="height:4px;background:linear-gradient(90deg,#ff8f00 0px,#ff9300 51px,#ff9d00 57px,#ff7f00 72px,#ff9800 95px,#ff9000 109px,#ff7500 134px,#ff7c00 153px,#ff8d00 184px,#ff7e00 218px,#ff7500 232px,#ff9a00 260px,#ff8b00 282px,#ff9f00 297px,#ffc700 321px,#ffe200 336px,#ffbb00 351px,#ff8400 365px,#ff7000 372px,#ff9300 439px,#ffbc00 446px,#ffbf00 502px)"></i><i style="height:4px;background:linear-gradient(90deg,#ff8f00 0px,#ff9300 52px,#ff9d00 58px,#ff7c00 74px,#ff9400 93px,#ff9300 108px,#ff7600 133px,#ff7c00 154px,#ff8c00 186px,#ff7b00 218px,#ff7200 232px,#ff9300 258px,#ff9200 287px,#ffbd00 315px,#ffe600 335px,#ffd700 343px,#ff7300 370px,#ff9800 439px,#ffbd00 447px,#ffbf00 502px)"></i><i style="height:4px;background:linear-gradient(90deg,#ff8f00 0px,#ff9400 53px,#ff9d00 59px,#ff7900 76px,#ff8f00 95px,#ff9000 110px,#ff7700 133px,#ff7e00 156px,#ff8b00 190px,#ff7a00 216px,#ff6c00 231px,#ff9000 253px,#ff9500 287px,#ffb600 309px,#ffde00 320px,#fffb00 334px,#ffeb00 342px,#ffaa00 354px,#ff7300 371px,#ff9a00 441px,#ffbe00 450px,#ffbf00 502px)"></i><i style="height:4px;background:linear-gradient(90deg,#ff8f00 0px,#ff9300 53px,#ff9f00 59px,#ff7600 77px,#ff9000 110px,#ff7800 134px,#ff8000 158px,#ff8800 196px,#ff7600 216px,#ff6400 230px,#ff8d00 248px,#ff9900 288px,#ffbb00 308px,#fff200 316px,#f6ff09 323px,#e2ff1d 332px,#f3ff0c 340px,#fff900 343px,#ffb100 351px,#ff7300 371px,#ff9f00 444px,#ffbe00 452px,#ffbf00 502px)"></i><i style="height:4px;background:linear-gradient(90deg,#ff8f00 0px,#ff9200 54px,#ff9e00 60px,#ff7400 78px,#ff8700 104px,#ff8b00 113px,#ff7900 139px,#ff8800 192px,#ff7500 215px,#ff5c00 229px,#ff8b00 245px,#ff9400 265px,#ff9900 287px,#ffbf00 307px,#fcff03 314px,#d9ff26 321px,#c0ff3f 330px,#d3ff2c 338px,#fbff04 343px,#ffb200 350px,#ff9200 359px,#ff7300 372px,#ffa000 446px,#ffbe00 455px,#ffbf00 502px)"></i><i style="height:4px;background:linear-gradient(90deg,#ff8f00 0px,#ff8400 45px,#ff8200 54px,#ff9d00 60px,#ff6e00 83px,#ff7a00 102px,#ff8a00 113px,#ff7b00 144px,#ff8600 193px,#ff7000 216px,#ff5800 229px,#ff8a00 243px,#ff9700 262px,#ff9900 285px,#ffc200 306px,#fff200 311px,#fffe00 312px,#d0ff2f 317px,#a9ff56 327px,#b8ff47 335px,#d9ff26 340px,#fdff02 343px,#ffb400 349px,#ff9800 355px,#ff7400 373px,#ffa500 449px,#ffbe00 457px,#ffbf00 502px)"></i><i style="height:4px;background:linear-gradient(90deg,#ff8e00 0px,#ff6d00 53px,#ff8400 57px,#ff9b00 60px,#ff9000 65px,#ff6800 86px,#ff7100 101px,#ff8900 115px,#ff7e00 151px,#ff8300 195px,#ff6c00 217px,#ff5a00 229px,#ff8b00 243px,#ff9800 262px,#ff9a00 284px,#ffbd00 304px,#ffe100 309px,#fdff02 312px,#cdff32 318px,#b4ff4b 326px,#c7ff38 334px,#f2ff0d 340px,#fff700 342px,#ffad00 349px,#ff9300 356px,#ff7500 374px,#ffa600 451px,#ffbf00 460px,#ffbf00 502px)"></i><i style="height:4px;background:linear-gradient(90deg,#ff7f00 0px,#ff6900 40px,#ff6b00 54px,#ff8600 58px,#ff9c00 61px,#ff6500 87px,#ff6e00 100px,#ff8c00 115px,#ff7e00 152px,#ff7d00 199px,#ff6100 226px,#ff6400 232px,#ff8900 242px,#ff9900 262px,#ff9700 284px,#ffc000 305px,#feff01 314px,#d9ff26 321px,#daff25 328px,#fffb00 336px,#ffab00 347px,#ff8800 361px,#ff7600 376px,#ffaa00 454px,#ffbf00 462px,#ffbf00 502px)"></i><i style="height:4px;background:linear-gradient(90deg,#ff6c00 0px,#ff6c00 55px,#ff9d00 62px,#ff8700 71px,#ff6700 88px,#ff7400 99px,#ff9300 115px,#ff8200 135px,#ff7600 206px,#ff6500 231px,#ff8800 243px,#ff9900 265px,#ff8e00 284px,#ffc300 307px,#ffff00 318px,#fcff03 325px,#ffed00 331px,#ffab00 343px,#ff7b00 369px,#ff7a00 382px,#ffac00 456px,#ffbf00 465px,#ffbf00 502px)"></i><i style="height:4px;background:linear-gradient(90deg,#ff6a00 0px,#ff6b00 55px,#ff8500 59px,#ff9c00 62px,#ff9200 66px,#ff6900 87px,#ff7700 97px,#ff9900 113px,#ff8f00 130px,#ff7d00 141px,#ff6d00 226px,#ff6d00 233px,#ff8600 244px,#ff9900 268px,#ff8600 285px,#ffcd00 311px,#ffe200 320px,#ffcb00 331px,#ff9900 347px,#ff7700 377px,#ffb000 459px,#ffbf00 469px,#ffbf00 502px)"></i><i style="height:4px;background:linear-gradient(90deg,#ff7800 0px,#ff6f00 44px,#ff7900 57px,#ff9e00 63px,#ff8600 71px,#ff6c00 88px,#ff9c00 110px,#ff9c00 125px,#ff7d00 139px,#ff6f00 232px,#ff9300 257px,#ff9700 272px,#ff7f00 286px,#ffbf00 311px,#ffbc00 328px,#ff9200 351px,#ff7700 378px,#ffb300 462px,#ffbf00 473px,#ffbf00 502px)"></i><i style="height:4px;background:linear-gradient(90deg,#ff8b00 0px,#ff7d00 56px,#ff9300 61px,#ff9e00 64px,#ff8500 71px,#ff7500 81px,#ff7200 89px,#ffa000 107px,#ffa400 122px,#ff7c00 138px,#ff6b00 216px,#ff7d00 240px,#ff9900 271px,#ff7800 287px,#ff9800 297px,#ffa800 306px,#ff9b00 317px,#ffa400 331px,#ff7800 379px,#ffb700 465px,#ffbf00 481px,#ffbf00 502px)"></i><i style="height:4px;background:linear-gradient(90deg,#ff8f00 0px,#ff8500 46px,#ff8100 58px,#ff9f00 64px,#ff8300 72px,#ff7300 87px,#ffa200 106px,#ffa600 121px,#ff7a00 138px,#ff6e00 167px,#ff6900 219px,#ff9400 272px,#ff6e00 288px,#ff8800 296px,#ff9900 302px,#ff7c00 315px,#ff9600 332px,#ff7900 381px,#ffbb00 469px,#ffbf00 502px)"></i><i style="height:4px;background:linear-gradient(90deg,#ff8f00 0px,#ff8900 59px,#ff9f00 65px,#ff8200 72px,#ff7600 87px,#ffa200 105px,#ffa400 121px,#ff7900 139px,#ff6a00 167px,#ff6100 212px,#ff8200 254px,#ff8e00 271px,#ff5a00 287px,#ff6700 293px,#ff9000 301px,#ff7f00 309px,#ff7200 316px,#ff9600 332px,#ff7a00 382px,#ffbf00 481px,#ffbf00 502px)"></i><i style="height:4px;background:linear-gradient(90deg,#ff8d00 0px,#ff8e00 60px,#ffa000 65px,#ff8000 73px,#ff7a00 87px,#ffa100 105px,#ffa200 120px,#ff7700 140px,#ff5800 204px,#ff7b00 254px,#ff8500 271px,#ff4400 287px,#ff4e00 292px,#ff8b00 301px,#ff8500 307px,#ff6f00 316px,#ff9000 327px,#ff9c00 335px,#ff7900 382px,#ffbf00 483px,#ffbf00 502px)"></i><i style="height:4px;background:linear-gradient(90deg,#ff8400 0px,#ff8d00 40px,#ff8e00 61px,#ff9f00 66px,#ff7e00 74px,#ff7e00 87px,#ffa000 105px,#ff9f00 119px,#ff7500 143px,#ff5100 200px,#ff7900 258px,#ff7900 272px,#ff3300 287px,#ff3b00 291px,#ff8600 301px,#ff8600 306px,#ff6c00 316px,#ff8800 325px,#ffa100 333px,#ff8c00 358px,#ff7a00 383px,#ffbf00 484px,#ffc600 502px)"></i><i style="height:4px;background:linear-gradient(90deg,#ff7f00 0px,#ff8b00 52px,#ff8f00 62px,#ff9e00 67px,#ff7d00 74px,#ff8400 88px,#ffa000 105px,#ff9d00 118px,#ff7100 148px,#ff4b00 197px,#ff7400 269px,#ff6100 276px,#ff2e00 287px,#ff3800 291px,#ff8500 302px,#ff8200 307px,#ff6900 316px,#ff8400 324px,#ffa600 333px,#ff8d00 355px,#ff8200 372px,#ff7a00 384px,#ffc100 477px,#ffe500 496px,#fff300 502px)"></i><i style="height:4px;background:linear-gradient(90deg,#ff7f00 0px,#ff8c00 62px,#ff9e00 67px,#ff7b00 75px,#ff8800 89px,#ff9c00 105px,#ff9800 117px,#ff6100 161px,#ff4500 196px,#ff6a00 268px,#ff5900 276px,#ff3000 286px,#ff3e00 291px,#ff8100 302px,#ff8000 307px,#ff6800 316px,#ff8500 324px,#ffa700 333px,#ff8f00 354px,#ff8600 370px,#ff7800 384px,#ffb500 473px,#fff800 483px,#f3ff0c 490px,#f1ff0e 498px,#faff05 502px)"></i><i style="height:4px;background:linear-gradient(90deg,#ff7f00 0px,#ff8500 59px,#ff9400 65px,#ff9d00 68px,#ff7a00 75px,#ff7f00 88px,#ff8e00 101px,#ff8a00 117px,#ff4e00 174px,#ff4100 196px,#ff6000 263px,#ff5900 274px,#ff2d00 286px,#ff4800 293px,#ff7b00 303px,#ff7900 309px,#ff6800 317px,#ffa400 333px,#ff9200 352px,#ff8a00 368px,#ff7400 385px,#ffa600 471px,#ffbb00 474px,#fffc00 479px,#e5ff1a 484px,#f1ff0e 492px,#fff800 497px,#ffe700 502px)"></i><i style="height:4px;background:linear-gradient(90deg,#ff7f00 0px,#ff7e00 62px,#ff9b00 69px,#ff7800 76px,#ff7600 89px,#ff7f00 99px,#ff7600 118px,#ff3c00 191px,#ff5500 258px,#ff4d00 275px,#ff2800 285px,#ff3300 291px,#ff7100 304px,#ff7300 311px,#ff6900 318px,#ff9d00 332px,#ff9800 341px,#ff8e00 365px,#ff7200 386px,#ff7d00 423px,#ff9d00 470px,#ffb800 473px,#fffe00 478px,#f1ff0e 482px,#fff800 489px,#ffe100 498px,#ffdf00 502px)"></i><i style="height:4px;background:linear-gradient(90deg,#ff7f00 0px,#ff7c00 64px,#ff9900 69px,#ff8800 73px,#ff7400 78px,#ff6d00 90px,#ff7000 100px,#ff3900 192px,#ff4d00 254px,#ff4200 276px,#ff2300 286px,#ff3500 294px,#ff6600 306px,#ff6a00 314px,#ff6e00 320px,#ff9700 333px,#ff9300 362px,#ff7100 385px,#ff7200 420px,#ff8d00 467px,#ffa300 470px,#fff900 476px,#f3ff0c 479px,#fff600 483px,#ffe200 489px,#ffdf00 502px)"></i><i style="height:4px;background:linear-gradient(90deg,#ff8100 0px,#ff7900 64px,#ff9800 70px,#ff7100 79px,#ff6500 92px,#ff3500 186px,#ff4500 251px,#ff3600 277px,#ff2100 287px,#ff3200 296px,#ff6000 310px,#ff7200 322px,#ff9400 337px,#ff9700 359px,#ff7000 385px,#ff6c00 426px,#ff8200 465px,#ff9900 468px,#ffff00 475px,#efff10 478px,#ffff00 481px,#ffe200 486px,#ffdf00 502px)"></i><i style="height:4px;background:linear-gradient(90deg,#ff9f00 0px,#ff8000 26px,#ff7a00 65px,#ff9800 71px,#ff6e00 79px,#ff4c00 109px,#ff3300 191px,#ff3f00 245px,#ff2900 280px,#ff2000 290px,#ff9000 339px,#ff9900 357px,#ff6f00 385px,#ff6700 433px,#ff7a00 462px,#ff9b00 467px,#fff900 474px,#f5ff0a 478px,#fff600 481px,#ffda00 486px,#ffd600 502px)"></i><i style="height:4px;background:linear-gradient(90deg,#ffc700 0px,#ff9c00 27px,#ff7b00 53px,#ff7a00 66px,#ff9700 71px,#ff8c00 74px,#ff6900 80px,#ff4300 110px,#ff3100 191px,#ff3c00 241px,#ff1f00 291px,#ff4800 311px,#ff8e00 340px,#ff9600 356px,#ff6f00 383px,#ff6200 437px,#ff7000 456px,#ff9600 464px,#fffa00 474px,#fffc00 478px,#ffc900 486px,#ffc400 502px)"></i><i style="height:4px;background:linear-gradient(90deg,#ffce00 0px,#ffc000 31px,#ff8200 65px,#ff9900 72px,#ff7b00 77px,#ff6000 83px,#ff3d00 112px,#ff3000 192px,#ff3b00 240px,#ff2300 269px,#ff2300 298px,#ff4a00 314px,#ff8500 337px,#ff9200 354px,#ff7100 379px,#ff5e00 439px,#ff6900 451px,#ffb800 465px,#fffa00 473px,#fff600 477px,#ffc500 485px,#ffbf00 502px)"></i><i style="height:4px;background:linear-gradient(90deg,#ffcf00 0px,#ffc300 50px,#ffa200 73px,#ff6200 82px,#ff4000 103px,#ff3000 160px,#ff3300 206px,#ff3b00 238px,#ff2600 255px,#ff3500 284px,#ff2100 298px,#ff3400 309px,#ff6300 323px,#ff8700 343px,#ff8900 355px,#ff7000 379px,#ff5c00 439px,#ff6c00 448px,#fffd00 472px,#fff400 476px,#ffc800 484px,#ffbf00 502px)"></i><i style="height:4px;background:linear-gradient(90deg,#ffcf00 0px,#ffc000 68px,#ffad00 73px,#ff6100 83px,#ff4700 94px,#ff3400 120px,#ff3000 199px,#ff3a00 237px,#ff2800 248px,#ff4200 267px,#ff4f00 283px,#ff2800 299px,#ff3400 310px,#ff5f00 322px,#ff8200 343px,#ff8200 355px,#ff5900 430px,#ff6300 441px,#ff8800 449px,#ffda00 460px,#ffff00 469px,#fff500 474px,#ffcf00 482px,#ffc000 502px)"></i><i style="height:4px;background:linear-gradient(90deg,#ffcf00 0px,#ffc000 70px,#ff9f00 76px,#ff5600 86px,#ff3600 107px,#ff2c00 188px,#ff3a00 235px,#ff2c00 244px,#ff6600 277px,#ff6500 285px,#ff3200 300px,#ff3f00 312px,#ff6a00 329px,#ff8100 351px,#ff5900 432px,#ff7000 441px,#ffa500 449px,#fffc00 460px,#f2ff0d 467px,#fffd00 471px,#ffcf00 480px,#ffc700 502px)"></i><i style="height:4px;background:linear-gradient(90deg,#ffce00 0px,#ffc000 71px,#ffa500 77px,#ff5d00 87px,#ff3200 110px,#ff2c00 196px,#ff3500 235px,#ff3400 243px,#ff7600 273px,#ff7c00 285px,#ff3d00 302px,#ff6000 324px,#ff7e00 349px,#ff5a00 429px,#ff7000 438px,#ffaa00 446px,#fdff02 456px,#e1ff1e 461px,#e7ff18 466px,#feff01 470px,#ffcb00 478px,#ffce00 502px)"></i><i style="height:4px;background:linear-gradient(90deg,#ffce00 0px,#ffbf00 75px,#ff9200 82px,#ff6d00 89px,#ff5000 101px,#ff3400 108px,#ff2a00 196px,#ff3900 239px,#ff8800 274px,#ff9000 286px,#ff6400 297px,#ff4300 304px,#ff7d00 347px,#ff5a00 426px,#ff7200 436px,#ffbb00 445px,#fffe00 452px,#d2ff2d 458px,#d1ff2e 462px,#fffe00 470px,#ffc900 477px,#ffc100 486px,#ffcb00 502px)"></i><i style="height:4px;background:linear-gradient(90deg,#ffce00 0px,#ffca00 70px,#ffce00 76px,#ff8a00 88px,#ff6b00 99px,#ff3800 107px,#ff2f00 141px,#ff2700 196px,#ff3700 231px,#ff9b00 276px,#ffa100 289px,#ff7d00 297px,#ff4c00 304px,#ff4e00 312px,#ff7d00 347px,#ff6c00 384px,#ff5a00 425px,#ff7300 435px,#ffbf00 444px,#fcff03 450px,#c4ff3b 456px,#bdff42 460px,#edff12 468px,#ffff00 470px,#ffcc00 476px,#ffc000 483px,#ffc200 502px)"></i><i style="height:4px;background:linear-gradient(90deg,#ffcf00 0px,#ffce00 57px,#fff000 74px,#ffd800 79px,#ffaa00 87px,#ff8700 97px,#ff3c00 107px,#ff3200 117px,#ff2e00 154px,#ff2200 195px,#ff3700 226px,#ffac00 277px,#ffb500 290px,#ff9d00 296px,#ff5400 305px,#ff4f00 311px,#ff7c00 347px,#ff7100 380px,#ff5a00 425px,#ff7600 435px,#ffd200 445px,#f9ff06 449px,#bbff44 454px,#a9ff56 457px,#b3ff4c 461px,#f2ff0d 469px,#fff500 471px,#ffcd00 476px,#ffc100 493px,#ffc000 502px)"></i><i style="height:4px;background:linear-gradient(90deg,#ffcf00 0px,#ffd100 44px,#ffff00 66px,#fffb00 76px,#ff9c00 96px,#ff4200 107px,#ff3400 113px,#ff3200 153px,#ff1d00 194px,#ff3c00 223px,#ffbb00 277px,#ffc600 292px,#ffac00 297px,#ff5c00 306px,#ff5100 311px,#ff7b00 346px,#ff7200 382px,#ff5a00 424px,#ff7400 434px,#ffbb00 442px,#faff05 448px,#a6ff59 454px,#96ff69 457px,#a6ff59 461px,#e4ff1b 468px,#fdff02 470px,#ffd500 475px,#ffc400 502px)"></i><i style="height:4px;background:linear-gradient(90deg,#ffcf00 0px,#ffd300 31px,#fdff02 51px,#fffa00 79px,#ffbe00 93px,#ff4200 108px,#ff3800 115px,#ff3800 152px,#ff1b00 193px,#ff3b00 219px,#ffbb00 273px,#ffce00 293px,#ffb000 298px,#ff5e00 307px,#ff5400 312px,#ff7a00 344px,#ff7100 386px,#ff5b00 424px,#ff7900 434px,#ffcd00 443px,#ffff00 447px,#9bff64 454px,#8cff73 457px,#a9ff56 462px,#f4ff0b 469px,#fffd00 470px,#ffd800 474px,#ffcf00 483px,#ffcd00 502px)"></i><i style="height:4px;background:linear-gradient(90deg,#ffcf00 0px,#ffd800 20px,#fcff03 37px,#f8ff07 61px,#fffa00 81px,#ffcc00 92px,#ff4f00 107px,#ff4000 113px,#ff4100 150px,#ff1e00 192px,#ff3d00 218px,#ff9c00 260px,#ffba00 282px,#ffbe00 294px,#ff9e00 299px,#ff6000 306px,#ff5600 311px,#ff7900 343px,#ff7100 390px,#ff5d00 423px,#ff7a00 433px,#ffce00 442px,#fffa00 446px,#cdff32 450px,#9bff64 454px,#93ff6c 457px,#bdff42 463px,#fffc00 469px,#ffd800 473px,#ffcf00 482px,#ffcf00 502px)"></i><i style="height:4px;background:linear-gradient(90deg,#ffd100 0px,#ffec00 15px,#fbff04 24px,#f4ff0b 46px,#fffb00 82px,#ffd000 92px,#ff5c00 106px,#ff4a00 113px,#ff4c00 148px,#ff2400 190px,#ff3f00 218px,#ff9100 257px,#ff9e00 270px,#ffa800 294px,#ff8e00 299px,#ff5e00 305px,#ff5700 311px,#ff7800 342px,#ff7000 395px,#ff5f00 422px,#ff7d00 432px,#ffd000 441px,#faff05 446px,#a8ff57 453px,#9eff61 456px,#c6ff39 462px,#fcff03 467px,#ffd600 472px,#ffcf00 487px,#ffcf00 502px)"></i><i style="height:4px;background:linear-gradient(90deg,#ffeb00 0px,#faff05 11px,#f2ff0d 33px,#fffa00 81px,#ffe700 89px,#ffa200 98px,#ff6400 106px,#ff5300 117px,#ff5800 145px,#ff2a00 188px,#ff3a00 212px,#ff8000 249px,#ff8f00 278px,#ff8e00 295px,#ff6e00 301px,#ff5800 306px,#ff7700 342px,#ff6f00 400px,#ff6200 422px,#ff8000 431px,#ffc700 439px,#f9ff06 445px,#acff53 453px,#acff53 456px,#e2ff1d 463px,#fffb00 466px,#ffd500 471px,#ffcf00 502px)"></i><i style="height:4px;background:linear-gradient(90deg,#f4ff0b 0px,#f8ff07 64px,#ffef00 88px,#ffc000 95px,#ff7100 105px,#ff5d00 118px,#ff6300 143px,#ff3a00 175px,#ff3100 198px,#ff5300 226px,#ff7c00 253px,#ff7700 294px,#ff5900 305px,#ff7600 341px,#ff6e00 405px,#ff6600 422px,#ff8800 431px,#faff05 444px,#b9ff46 451px,#b4ff4b 454px,#d9ff26 460px,#fffe00 464px,#ffd600 469px,#ffcf00 485px,#ffcf00 502px)"></i><i style="height:4px;background:linear-gradient(90deg,#f0ff0f 0px,#fbff04 63px,#ffef00 89px,#ffbd00 96px,#ff7f00 104px,#ff6800 117px,#ff6c00 142px,#ff4600 172px,#ff3700 189px,#ff4100 212px,#ff7200 251px,#ff6000 297px,#ff5c00 308px,#ff7500 340px,#ff6d00 410px,#ff6b00 422px,#ff8e00 431px,#ffff00 443px,#c2ff3d 450px,#c2ff3d 454px,#ffff00 462px,#ffd700 467px,#ffcf00 478px,#ffcf00 502px)"></i><i style="height:4px;background:linear-gradient(90deg,#f0ff0f 0px,#faff05 56px,#fff100 90px,#ffc100 97px,#ff8500 105px,#ff6d00 121px,#ff7200 141px,#ff5100 169px,#ff3d00 186px,#ff4200 210px,#ff6f00 248px,#ff5b00 305px,#ff7400 339px,#ff6c00 416px,#ff7600 424px,#ff9c00 432px,#fcff03 443px,#ccff33 449px,#ceff31 453px,#fffe00 460px,#ffcf00 466px,#ffcf00 502px)"></i><i style="height:4px;background:linear-gradient(90deg,#f0ff0f 0px,#f8ff07 48px,#fff600 72px,#fff100 92px,#ffc000 99px,#ff8b00 106px,#ff7400 119px,#ff7300 143px,#ff5700 168px,#ff4100 186px,#ff4500 210px,#ff7000 247px,#ff5c00 304px,#ff7300 339px,#ff7300 421px,#ff9600 430px,#fffc00 442px,#d6ff29 448px,#dbff24 452px,#fffc00 458px,#ffc700 465px,#ffc400 475px,#ffcf00 502px)"></i><i style="height:4px;background:linear-gradient(90deg,#efff10 0px,#f8ff07 41px,#fff800 64px,#fff500 93px,#ffd100 99px,#ff8c00 108px,#ff7700 124px,#ff7300 146px,#ff6000 166px,#ff4500 186px,#ff4700 210px,#ff7200 247px,#ff5d00 303px,#ff7200 338px,#ff7500 420px,#ff9900 430px,#fbff04 443px,#e3ff1c 447px,#eeff11 452px,#fffe00 455px,#ffc700 463px,#ffc000 477px,#ffce00 502px)"></i><i style="height:4px;background:linear-gradient(90deg,#efff10 0px,#f8ff07 34px,#fffb00 52px,#fff800 94px,#ffd900 100px,#ff9200 109px,#ff7b00 123px,#ff6f00 160px,#ff4a00 185px,#ff4a00 210px,#ff7400 247px,#ff6900 267px,#ff6000 304px,#ff7100 339px,#ff7800 420px,#ffa100 432px,#fffe00 444px,#f6ff09 449px,#fff600 453px,#ffc400 461px,#ffc200 494px,#ffc700 502px)"></i><i style="height:4px;background:linear-gradient(90deg,#efff10 0px,#f9ff06 28px,#fffb00 67px,#fffb00 95px,#ffdf00 101px,#ff9800 110px,#ff8200 121px,#ff7100 162px,#ff4f00 185px,#ff4d00 210px,#ff7600 248px,#ff6a00 266px,#ff6200 290px,#ff6a00 318px,#ff7d00 421px,#ffa700 434px,#ffee00 445px,#ffef00 450px,#ffb300 461px,#ffbf00 491px,#ffc000 502px)"></i><i style="height:4px;background:linear-gradient(90deg,#efff10 0px,#fdff02 24px,#fffb00 97px,#ffe300 102px,#ff9d00 111px,#ff8600 123px,#ff7400 164px,#ff5600 185px,#ff5300 210px,#ff7d00 248px,#ff7100 266px,#ff6a00 289px,#ff6400 304px,#ff7500 357px,#ff8100 421px,#ffa700 435px,#ffd700 445px,#ffd800 450px,#ffa400 461px,#ffbf00 492px,#ffbf00 502px)"></i><i style="height:4px;background:linear-gradient(90deg,#f0ff0f 0px,#fffe00 30px,#fffc00 98px,#ffe400 103px,#ffa100 112px,#ff8900 125px,#ff7800 166px,#ff6100 185px,#ff5c00 211px,#ff8600 249px,#ff7f00 266px,#ff7600 288px,#ff6500 300px,#ff7c00 381px,#ff8600 422px,#ffc500 448px,#ffa100 460px,#ffa900 481px,#ffbe00 500px,#ffbf00 502px)"></i><i style="height:4px;background:linear-gradient(90deg,#f3ff0c 0px,#fffe00 22px,#fdff02 89px,#fffa00 100px,#ffa200 114px,#ff8b00 131px,#ff8300 158px,#ff7600 172px,#ff6400 210px,#ff9000 250px,#ff8800 283px,#ff6700 299px,#ff8a00 424px,#ffb400 448px,#ff9f00 460px,#ffa700 491px,#ffb600 502px)"></i><i style="height:4px;background:linear-gradient(90deg,#fcff03 0px,#f9ff06 40px,#fffb00 101px,#ffa300 116px,#ff8b00 138px,#ff8500 156px,#ff8100 170px,#ff6e00 212px,#ff9b00 251px,#ff9900 278px,#ff8500 289px,#ff6b00 298px,#ff8e00 426px,#ff9e00 439px,#ffa000 451px,#ff9e00 462px,#ffa400 502px)"></i><i style="height:4px;background:linear-gradient(90deg,#ffff00 0px,#f9ff06 71px,#fffc00 102px,#ffa800 117px,#ff8600 146px,#ff8800 172px,#ff7900 214px,#ffa800 255px,#ffa800 275px,#ff9600 286px,#ff6f00 298px,#ff9300 430px,#ff9300 452px,#ff9f00 485px,#ff9f00 502px)"></i><i style="height:4px;background:linear-gradient(90deg,#ffff00 0px,#f8ff07 57px,#fffa00 104px,#ffad00 118px,#ff8b00 147px,#ff9100 175px,#ff8500 215px,#ffb900 260px,#ffb100 278px,#ff9600 288px,#ff7600 298px,#ff9200 441px,#ff9500 467px,#ff9f00 491px,#ff9f00 502px)"></i><i style="height:4px;background:linear-gradient(90deg,#fdff02 0px,#f7ff08 53px,#fffb00 105px,#ffb200 119px,#ff9500 146px,#ff9b00 173px,#ff9000 213px,#ffbd00 248px,#ffc900 267px,#ffa800 286px,#ff8400 297px,#ff9c00 422px,#ff8f00 460px,#ff9f00 498px,#ff9f00 502px)"></i><i style="height:4px;background:linear-gradient(90deg,#f8ff07 0px,#fffc00 106px,#ffbb00 119px,#ff9f00 144px,#ffa600 170px,#ff9b00 211px,#ffc900 247px,#ffda00 266px,#ffba00 282px,#ff9200 298px,#ffa800 402px,#ff9900 426px,#ff8f00 451px,#ff9700 483px,#ff9f00 502px)"></i><i style="height:4px;background:linear-gradient(90deg,#f6ff09 0px,#feff01 106px,#ffbf00 121px,#ffaa00 143px,#ffb100 168px,#ffa600 209px,#ffd500 246px,#ffea00 265px,#ffc000 282px,#ffa100 298px,#ffb600 386px,#ffa500 413px,#ff9000 430px,#ff9500 488px,#ff9f00 502px)"></i><i style="height:4px;background:linear-gradient(90deg,#f6ff09 0px,#fdff02 107px,#ffc300 123px,#ffb400 142px,#ffbc00 166px,#ffb000 207px,#ffe200 245px,#fffa00 261px,#fff200 269px,#ffc700 282px,#ffb000 298px,#ffc300 372px,#ffaf00 402px,#ff9100 418px,#ff9400 495px,#ff9c00 502px)"></i><i style="height:4px;background:linear-gradient(90deg,#f6ff09 0px,#fdff02 109px,#ffcb00 125px,#ffbf00 142px,#ffc600 165px,#ffb900 204px,#ffef00 244px,#faff05 253px,#f8ff07 267px,#fff500 272px,#ffcc00 284px,#ffc200 299px,#ffd100 357px,#ffb800 392px,#ff9300 407px,#ff9300 502px)"></i><i style="height:4px;background:linear-gradient(90deg,#f6ff09 0px,#fdff02 113px,#ffd800 127px,#ffca00 143px,#ffd000 165px,#ffbd00 199px,#ffdd00 225px,#faff05 245px,#eaff15 256px,#f1ff0e 269px,#fffa00 274px,#ffd900 284px,#ffd500 300px,#ffde00 344px,#ffc300 381px,#ff9300 398px,#ff9000 502px)"></i><i style="height:4px;background:linear-gradient(90deg,#f5ff0a 0px,#f5ff0a 116px,#fff700 121px,#ffd600 143px,#ffd900 167px,#ffc100 196px,#ffda00 220px,#faff05 237px,#dcff23 252px,#eaff15 270px,#fffa00 277px,#ffe500 287px,#ffea00 332px,#ffcc00 371px,#ff9400 388px,#ff8f00 502px)"></i><i style="height:4px;background:linear-gradient(90deg,#f5ff0a 0px,#f3ff0c 108px,#e5ff1a 116px,#fffd00 127px,#ffe400 145px,#ffe100 168px,#ffc500 196px,#ffd600 212px,#fff300 226px,#f8ff07 233px,#c7ff38 244px,#e0ff1f 270px,#fffb00 281px,#fff400 324px,#ffd600 360px,#ff9600 378px,#ff8f00 418px,#ff8f00 502px)"></i><i style="height:4px;background:linear-gradient(90deg,#f5ff0a 0px,#f3ff0c 102px,#d5ff2a 115px,#fffb00 136px,#ffe400 170px,#ffc800 199px,#fff200 223px,#f9ff06 229px,#d8ff27 236px,#a1ff5e 243px,#9dff62 248px,#caff35 262px,#f6ff09 284px,#fff900 320px,#ffe000 350px,#ffbe00 357px,#ff9200 364px,#ff8f00 502px)"></i><i style="height:4px;background:linear-gradient(90deg,#f5ff0a 0px,#f2ff0d 97px,#d2ff2d 110px,#d6ff29 123px,#f9ff06 141px,#fff200 166px,#ffd000 198px,#ffe300 213px,#f9ff06 226px,#d9ff26 233px,#7dff82 243px,#6fff90 248px,#90ff6f 255px,#c3ff3c 265px,#e8ff17 282px,#fff900 324px,#ffe400 345px,#ffc300 350px,#ff8a00 356px,#ff7500 362px,#ff8f00 373px,#ff8f00 502px)"></i><i style="height:4px;background:linear-gradient(90deg,#f5ff0a 0px,#f1ff0e 91px,#d1ff2e 105px,#ceff31 126px,#e8ff17 141px,#fffb00 171px,#ffe500 204px,#f9ff06 222px,#d5ff2a 231px,#69ff96 242px,#53ffac 248px,#62ff9d 253px,#beff41 265px,#e0ff1f 280px,#fffa00 327px,#ffe100 339px,#ffb100 351px,#ff7c00 359px,#ff7600 364px,#ff8f00 372px,#ff8f00 502px)"></i><i style="height:4px;background:linear-gradient(90deg,#f5ff0a 0px,#f1ff0e 85px,#d1ff2e 99px,#caff35 121px,#c3ff3c 127px,#d8ff27 141px,#e9ff16 168px,#fcff03 205px,#deff21 226px,#bbff44 232px,#69ff96 240px,#50ffaf 245px,#55ffaa 250px,#7fff80 257px,#bdff42 264px,#ddff22 279px,#fffb00 323px,#ffc300 341px,#ffb600 355px,#ff8700 364px,#ff8f00 384px,#ff8f00 502px)"></i><i style="height:4px;background:linear-gradient(90deg,#f5ff0a 0px,#f1ff0e 79px,#d1ff2e 93px,#cbff34 120px,#b7ff48 128px,#c8ff37 141px,#d0ff2f 167px,#dcff23 208px,#d4ff2b 220px,#caff35 227px,#a9ff56 232px,#6cff93 239px,#5cffa3 245px,#76ff89 253px,#c2ff3d 264px,#dfff20 283px,#f7ff08 318px,#fff500 321px,#ffcc00 328px,#ffbf00 341px,#ffba00 360px,#ff9100 370px,#ff8f00 502px)"></i><i style="height:4px;background:linear-gradient(90deg,#f5ff0a 0px,#f1ff0e 73px,#d0ff2f 87px,#c8ff37 115px,#a9ff56 127px,#b8ff47 142px,#b9ff46 168px,#bdff42 211px,#b9ff46 227px,#7dff82 237px,#79ff86 245px,#95ff6a 255px,#c4ff3b 263px,#e5ff1a 292px,#e9ff16 318px,#fffa00 322px,#ffcb00 328px,#ffbf00 337px,#ffb900 364px,#ff9200 371px,#ff8f00 502px)"></i><i style="height:4px;background:linear-gradient(90deg,#f5ff0a 0px,#f1ff0e 67px,#d0ff2f 81px,#c8ff37 107px,#a2ff5d 122px,#a6ff59 153px,#a1ff5e 174px,#a7ff58 221px,#a4ff5b 229px,#93ff6c 237px,#abff54 254px,#cbff34 265px,#e0ff1f 293px,#e5ff1a 322px,#fffe00 327px,#ffcb00 334px,#ffbf00 343px,#ffbc00 364px,#ff9200 372px,#ff8f00 502px)"></i><i style="height:4px;background:linear-gradient(90deg,#f5ff0a 0px,#f1ff0e 61px,#d0ff2f 75px,#c8ff37 99px,#a2ff5d 114px,#92ff6d 151px,#8aff75 173px,#94ff6b 217px,#b5ff4a 249px,#d6ff29 275px,#d8ff27 304px,#e5ff1a 328px,#fffe00 333px,#ffcb00 340px,#ffbf00 349px,#ffbb00 365px,#ff9100 373px,#ff8f00 502px)"></i><i style="height:4px;background:linear-gradient(90deg,#f5ff0a 0px,#f1ff0e 55px,#d0ff2f 69px,#c8ff37 92px,#a3ff5c 105px,#98ff67 131px,#76ff89 160px,#83ff7c 193px,#84ff7b 211px,#bcff43 249px,#cfff30 273px,#d6ff29 312px,#e5ff1a 334px,#fffc00 339px,#ffcd00 345px,#ffbf00 353px,#ffb900 366px,#ff9200 373px,#ff8f00 502px)"></i><i style="height:4px;background:linear-gradient(90deg,#f5ff0a 0px,#f1ff0e 49px,#d0ff2f 63px,#c8ff37 84px,#a1ff5e 99px,#96ff69 125px,#82ff7d 137px,#75ff8a 146px,#61ff9e 156px,#76ff89 180px,#78ff87 194px,#78ff87 208px,#c5ff3a 255px,#d8ff27 323px,#e7ff18 340px,#fffa00 345px,#ffc900 352px,#ffb800 367px,#ff9100 374px,#ff8f00 502px)"></i><i style="height:4px;background:linear-gradient(90deg,#f5ff0a 0px,#efff10 44px,#d1ff2e 56px,#c8ff37 76px,#a2ff5d 91px,#96ff69 114px,#74ff8b 131px,#73ff8c 141px,#4fffb0 154px,#68ff97 178px,#72ff8d 189px,#6cff93 205px,#bdff42 249px,#c2ff3d 264px,#cfff30 282px,#d6ff29 331px,#e7ff18 346px,#fffa00 351px,#ffc900 358px,#ffb600 368px,#ff9300 374px,#ff8f00 502px)"></i><i style="height:4px;background:linear-gradient(90deg,#f5ff0a 0px,#f0ff0f 38px,#d0ff2f 51px,#c7ff38 69px,#a2ff5d 82px,#92ff6d 104px,#71ff8e 122px,#6eff91 140px,#45ffba 154px,#5fffa0 176px,#6eff91 188px,#67ff98 204px,#b2ff4d 245px,#c6ff39 264px,#cfff30 277px,#d6ff29 340px,#eaff15 353px,#fffa00 357px,#ffc900 364px,#ffad00 370px,#ff9200 375px,#ff8f00 502px)"></i><i style="height:4px;background:linear-gradient(90deg,#f5ff0a 0px,#f0ff0f 32px,#d0ff2f 45px,#c5ff3a 62px,#a2ff5d 75px,#92ff6d 92px,#72ff8d 110px,#69ff96 141px,#43ffbc 155px,#5cffa3 174px,#6dff92 189px,#69ff96 205px,#bdff42 254px,#ccff33 269px,#d5ff2a 349px,#e9ff16 359px,#fffa00 363px,#ff9800 374px,#ff8f00 383px,#ff8f00 502px)"></i><i style="height:4px;background:linear-gradient(90deg,#f5ff0a 0px,#f0ff0f 26px,#d0ff2f 39px,#c5ff3a 54px,#a1ff5e 68px,#89ff76 85px,#71ff8e 99px,#66ff99 139px,#43ffbc 158px,#6eff91 188px,#6eff91 207px,#a0ff5f 237px,#bdff42 245px,#c5ff3a 268px,#cfff30 282px,#d4ff2b 358px,#e7ff18 365px,#fdff02 368px,#ffc500 372px,#ff9d00 375px,#ff9000 379px,#ff8f00 502px)"></i><i style="height:4px;background:linear-gradient(90deg,#f5ff0a 0px,#eeff11 21px,#d0ff2f 33px,#c3ff3c 47px,#9eff61 61px,#72ff8d 87px,#66ff99 127px,#57ffa8 148px,#43ffbc 158px,#6eff91 188px,#75ff8a 212px,#8dff72 234px,#bcff43 243px,#c6ff39 271px,#cfff30 286px,#d4ff2b 366px,#eaff15 370px,#f8ff07 371px,#ffde00 373px,#ffa500 376px,#ff9100 379px,#ff8f00 502px)"></i><i style="height:4px;background:linear-gradient(90deg,#f5ff0a 0px,#eeff11 15px,#d0ff2f 27px,#c2ff3d 40px,#9bff64 53px,#72ff8d 74px,#65ff9a 117px,#59ffa6 149px,#41ffbe 157px,#4affb5 165px,#5fffa0 173px,#6fff90 194px,#77ff88 214px,#80ff7f 230px,#8bff74 237px,#baff45 244px,#c7ff38 274px,#cfff30 290px,#d3ff2c 369px,#ebff14 372px,#fcff03 373px,#ffac00 377px,#ff9300 380px,#ff8f00 502px)"></i><i style="height:4px;background:linear-gradient(90deg,#f5ff0a 0px,#e8ff17 11px,#d0ff2f 22px,#bfff40 33px,#84ff7b 52px,#70ff8f 67px,#66ff99 104px,#5bffa4 149px,#41ffbe 156px,#45ffba 164px,#5effa1 171px,#69ff96 183px,#70ff8f 205px,#79ff86 215px,#84ff7b 238px,#bbff44 247px,#c5ff3a 276px,#cfff30 290px,#d4ff2b 371px,#f2ff0d 374px,#fff900 375px,#ffa600 379px,#ff9200 382px,#ff8f00 502px)"></i><i style="height:4px;background:linear-gradient(90deg,#f2ff0d 0px,#cfff30 16px,#baff45 26px,#82ff7d 41px,#70ff8f 56px,#66ff99 92px,#5bffa4 149px,#41ffbe 156px,#45ffba 164px,#5fffa0 171px,#69ff96 183px,#70ff8f 205px,#79ff86 215px,#85ff7a 241px,#baff45 249px,#c6ff39 279px,#cfff30 294px,#d2ff2d 372px,#e8ff17 375px,#f9ff06 376px,#ffaf00 380px,#ff9300 383px,#ff8f00 502px)"></i><i style="height:4px;background:linear-gradient(90deg,#e2ff1d 0px,#bbff44 17px,#7dff82 32px,#70ff8f 48px,#65ff9a 82px,#5bffa4 149px,#41ffbe 156px,#45ffba 164px,#5fffa0 171px,#69ff96 183px,#70ff8f 205px,#79ff86 215px,#80ff7f 237px,#87ff78 244px,#bbff44 252px,#c7ff38 282px,#cfff30 298px,#d3ff2c 374px,#eeff11 377px,#fffd00 378px,#ffa900 382px,#ff9200 385px,#ff8f00 502px)"></i><i style="height:4px;background:linear-gradient(90deg,#cfff30 0px,#b9ff46 9px,#80ff7f 20px,#70ff8f 33px,#66ff99 69px,#5bffa4 149px,#41ffbe 156px,#45ffba 164px,#5fffa0 171px,#69ff96 183px,#70ff8f 205px,#79ff86 215px,#80ff7f 237px,#85ff7a 246px,#bcff43 255px,#c5ff3a 284px,#cfff30 298px,#d1ff2e 375px,#e6ff19 378px,#f5ff0a 379px,#fff400 380px,#ffb200 383px,#ff9400 386px,#ff8f00 502px)"></i><i style="height:4px;background:linear-gradient(90deg,#b1ff4e 0px,#78ff87 13px,#6fff90 37px,#60ff9f 85px,#5bffa4 149px,#41ffbe 156px,#45ffba 164px,#5fffa0 171px,#69ff96 183px,#70ff8f 205px,#79ff86 215px,#80ff7f 237px,#86ff79 249px,#baff45 257px,#c6ff39 287px,#cfff30 301px,#d2ff2d 377px,#ebff14 380px,#fdff02 381px,#ffab00 385px,#ff9300 388px,#ff8f00 502px)"></i><i style="height:4px;background:linear-gradient(90deg,#7cff83 0px,#70ff8f 17px,#63ff9c 50px,#5bffa4 149px,#41ffbe 156px,#45ffba 164px,#5fffa0 171px,#69ff96 183px,#70ff8f 205px,#79ff86 215px,#80ff7f 237px,#84ff7b 251px,#bbff44 260px,#c5ff3a 289px,#cfff30 302px,#d4ff2b 379px,#f2ff0d 382px,#fff800 383px,#ffa600 387px,#ff9200 390px,#ff8f00 502px)"></i><i style="height:4px;background:linear-gradient(90deg,#70ff8f 0px,#66ff99 34px,#60ff9f 101px,#5bffa4 149px,#41ffbe 156px,#45ffba 164px,#5fffa0 171px,#69ff96 183px,#70ff8f 205px,#79ff86 215px,#80ff7f 237px,#85ff7a 254px,#bcff43 263px,#c6ff39 292px,#cfff30 307px,#d2ff2d 380px,#e8ff17 383px,#f9ff06 384px,#ffae00 388px,#ff9300 391px,#ff8f00 502px)"></i><i style="height:3px;background:linear-gradient(90deg,#70ff8f 0px,#6aff95 21px,#60ff9f 48px,#5bffa4 149px,#41ffbe 156px,#45ffba 164px,#5fffa0 171px,#69ff96 183px,#70ff8f 205px,#79ff86 215px,#80ff7f 237px,#84ff7b 256px,#a8ff57 261px,#beff41 265px,#c6ff39 294px,#cfff30 306px,#d3ff2c 382px,#e3ff1c 384px,#fff700 386px,#ffb200 389px,#ff9900 391px,#ff8f00 397px,#ff8f00 502px)"></i></div></div></div><svg width="1489" height="1080" viewBox="0 0 1489 1080"><defs><linearGradient id="jet" x1="0" y1="1" x2="0" y2="0"><stop offset="0" stop-color="#000080"/><stop offset=".125" stop-color="#0000ff"/><stop offset=".375" stop-color="#00ffff"/><stop offset=".625" stop-color="#ffff00"/><stop offset=".875" stop-color="#ff0000"/><stop offset="1" stop-color="#800000"/></linearGradient><g id="geo" fill="none" stroke="#000" stroke-width="1.8" stroke-linejoin="round" stroke-linecap="round"><path stroke-width="2" d="M146.5 41.5 L146.1 43.8 L142.5 45.6 L141.9 51.6 L137.1 54.0 L138.9 56.4 L144.9 66.1 L150.9 74.5 L158.2 80.5 L164.2 87.9 L168.3 92.1 L171.3 95.4 L173.3 99.6 L174.4 102.9 L174.8 106.7 L176.3 109.2 L176.7 111.7 L177.9 114.6 L180.0 118.3 L182.1 121.7 L184.6 126.3 L188.3 134.7 L184.6 141.9 L187.1 150.4 L190.7 156.9 L193.1 164.1 L192.5 171.3 L190.1 177.3 L187.1 179.7 L182.2 184.5 L179.2 188.2 L177.4 195.4 L176.2 202.6 L173.8 209.8 L170.8 214.6 L170.2 221.9 L171.4 226.7 L170.2 231.5 L170.2 235.1 L172.6 241.1 L177.4 245.9 L182.2 253.2 L187.1 262.8 L191.6 272.8 L199.6 285.6 L198.8 292.0 L202.9 309.6 L205.3 324.1 L209.3 333.7 L215.7 343.3 L222.9 348.9 L226.9 356.1 L231.7 368.9 L238.1 378.5 L242.1 386.5 L239.7 392.9 L237.3 394.5 L239.7 400.9 L242.9 408.9 L249.3 412.1 L258.9 414.5 L265.3 412.1 L278.1 409.7 L289.3 405.7 L302.1 406.8 L310.7 408.0 L321.5 406.2 L332.2 402.7 L344.7 395.5 L357.2 386.6 L367.9 377.6 L376.9 368.7 L384.0 359.8 L393.0 352.6 L398.3 347.3 L400.1 340.1 L401.9 331.2 L402.8 324.0 L400.1 320.4 L405.5 316.9 L414.4 311.5 L425.1 306.1 L429.6 299.0 L431.4 288.3 L430.5 277.5 L426.9 272.2 L421.6 261.5 L423.3 254.3 L428.1 249.6 L435.5 245.2 L443.0 240.7 L450.4 234.8 L459.3 230.4 L466.7 227.4 L474.1 224.4 L480.0 218.5 L485.9 209.6 L488.9 202.2 L486.7 184.4 L485.9 169.6 L486.5 162.0 L484.2 156.4 L479.4 152.8 L475.8 146.8 L474.6 140.7 L473.3 133.5 L472.1 126.3 L472.1 119.1 L468.5 114.2 L467.3 109.4 L468.5 102.2 L472.1 96.2 L475.8 91.4 L478.2 86.6 L480.6 80.5 L483.0 74.5 L490.2 68.5 L496.2 62.5 L502.2 55.2 L508.3 49.2 L516.7 42.0 L517.5 41.5"/><path stroke-width="2" d="M581.5 174.1 L586.6 178.5 L591.1 188.9 L592.6 199.3 L594.0 209.6 L589.6 209.6 L587.4 212.6 L588.1 223.0 L585.2 228.9 L582.2 243.7 L577.8 258.5 L576.2 261.0 L571.4 272.8 L567.4 288.1 L563.4 298.4 L558.6 309.7 L548.9 313.7 L539.3 316.9 L529.7 313.7 L523.3 308.1 L520.1 300.0 L520.5 292.0 L517.0 285.0 L516.3 279.2 L519.3 272.8 L523.3 266.4 L527.5 261.0 L528.9 255.5 L525.9 243.7 L524.4 231.8 L527.4 222.9 L530.4 218.5 L539.2 215.5 L548.1 212.6 L557.0 208.1 L561.5 202.2 L567.4 194.8 L573.3 185.9 L577.8 175.5Z"/><path d="M194.3 41.5 L193.7 46.8 L199.1 51.6 L199.7 60.1 L198.5 66.1 L196.7 72.1 L193.1 70.3 L189.5 71.5 L187.1 69.7 L182.2 66.7 L179.2 67.3 L178.6 70.9 L175.0 70.9 L169.6 71.5 L169.0 74.5 L170.2 78.1 L172.6 79.3 L173.2 82.5 L172.5 84.6 L170.8 85.4 L168.3 83.8 L165.4 85.0 L164.2 87.9"/><path d="M237.6 41.5 L236.4 49.2 L235.2 54.0 L229.2 58.9 L225.6 62.5 L220.8 68.5 L218.4 73.3 L219.0 78.1 L217.5 83.0 L214.2 88.3 L210.0 91.7 L205.8 94.6 L202.1 98.3 L199.2 97.5 L198.3 92.1 L191.7 93.8 L188.3 97.9 L185.0 95.4 L182.1 92.5 L179.6 93.8 L175.8 96.7 L173.5 99.0"/><path d="M183.3 95.0 L180.0 99.6 L179.2 103.3 L178.8 108.3 L176.5 109.2"/><path d="M177.3 110.5 L183.3 109.2 L193.3 108.8 L205.8 108.8 L222.0 108.5 L225.6 111.8 L230.4 123.9 L234.0 132.3 L242.4 131.7 L252.1 129.9 L254.5 123.9 L256.9 120.9 L266.5 120.3 L268.5 123.5 L281.4 123.9 L281.2 135.0 L281.5 144.0 L284.4 152.0 L285.5 156.0 L285.5 163.8 L295.0 163.2 L304.9 162.4"/><path d="M304.9 162.4 L304.9 183.6 L282.6 184.3 L282.6 217.1 L288.1 224.3 L295.9 231.5"/><path d="M170.8 229.1 L177.4 228.5 L182.2 227.3 L185.8 226.1 L189.5 226.7 L194.3 230.3 L196.7 230.9 L242.4 230.3 L247.3 233.9 L250.9 235.1 L270.0 236.3 L277.2 236.9 L295.9 231.5 L306.1 231.5 L315.7 232.7"/><path d="M271.8 241.1 L297.1 236.9 L300.1 241.7 L306.1 238.7 L317.0 235.1"/><path d="M271.8 241.1 L272.5 279.2 L261.3 279.2 L261.3 347.3"/><path d="M222.9 348.9 L228.5 343.3 L231.7 346.5 L233.3 351.3 L241.3 352.1 L250.9 352.9 L255.7 349.7 L261.3 347.3"/><path d="M262.1 309.6 L268.5 316.1 L269.3 324.1 L268.5 329.7 L278.1 330.5 L286.1 325.7 L290.9 320.9 L292.5 316.1 L297.3 313.7 L303.7 316.1 L310.4 319.0 L319.0 317.5 L323.5 311.0 L326.0 307.5 L335.8 300.8 L342.9 291.8 L351.8 286.5 L362.6 281.1"/><path d="M317.0 235.1 L322.0 240.5 L327.5 248.0 L331.0 252.0 L337.4 255.6 L341.5 259.8 L345.0 266.0 L346.5 272.2 L353.6 277.5 L362.6 281.1"/><path d="M362.6 281.1 L373.0 282.5 L385.8 282.9"/><path d="M315.7 232.7 L320.6 236.3 L335.0 236.3 L341.0 231.5 L348.3 224.3 L356.7 218.3 L360.3 213.4 L371.1 211.6 L374.7 212.2"/><path d="M373.5 205.6 L403.6 195.4"/><path d="M373.5 205.6 L374.7 212.2"/><path d="M374.7 212.2 L376.0 215.2 L385.6 217.1 L397.6 221.9 L402.0 224.3 L403.0 236.0 L402.5 248.0 L402.0 256.0 L400.1 263.2 L396.5 272.2 L385.8 282.9"/><path d="M385.8 282.9 L389.4 293.6 L392.1 304.4 L393.0 315.1 L393.0 322.2"/><path d="M393.0 331.2 L401.9 331.2"/><path d="M304.9 162.4 L309.7 165.9 L318.2 165.3 L319.4 168.9 L326.6 171.9 L336.2 171.9 L339.2 168.9 L342.2 173.1 L347.1 176.1 L354.3 180.9 L359.1 187.6 L365.1 188.2 L368.7 188.8 L368.7 176.1 L366.3 175.5 L361.5 177.3 L356.7 174.9 L353.1 168.9 L354.5 162.0 L354.5 155.0 L354.0 150.4 L352.5 145.5 L354.3 141.9 L359.1 135.3 L368.7 134.7 L378.4 133.5"/><path d="M364.5 93.8 L363.9 99.8 L365.1 107.0 L366.3 114.2 L371.1 119.1 L374.7 125.1 L378.4 132.3 L379.6 134.7"/><path d="M379.6 134.7 L390.4 140.7 L400.0 144.3 L406.0 147.3"/><path d="M406.0 147.3 L409.9 158.5 L407.4 164.0 L406.6 177.0 L403.4 184.0 L401.5 190.5 L403.6 195.4"/><path d="M406.0 147.3 L412.0 148.5 L417.0 154.0 L419.5 160.0 L420.7 169.0 L419.5 178.5 L421.0 186.5 L425.5 192.5 L430.0 196.6 L435.0 203.7 L434.5 213.5 L429.6 217.0 L428.1 227.4"/><path d="M403.6 195.4 L408.7 199.1 L417.5 199.7 L420.0 203.8 L419.3 215.0 L425.3 223.1 L428.1 227.4"/><path d="M420.8 168.4 L430.0 168.2 L435.8 167.0 L441.8 169.6 L452.5 168.6 L458.0 165.6 L467.0 163.5 L474.5 160.8 L480.0 158.8 L484.8 156.5"/><path d="M374.7 57.7 L413.3 57.0"/><path d="M413.9 41.5 L413.3 57.0"/><path d="M413.3 57.0 L430.0 64.9 L454.1 78.1 L455.3 82.9 L472.1 95.0"/><path d="M491.4 41.5 L490.8 54.0 L496.2 61.9"/><path d="M369.9 41.5 L367.5 46.8 L366.3 54.0 L366.9 60.1"/><path d="M366.9 60.1 L374.7 57.7 L379.0 60.1 L380.2 67.3 L379.0 71.5 L375.9 72.7 L376.5 76.9 L380.2 78.1 L379.6 80.5 L374.7 86.5 L371.1 91.4 L367.5 93.8 L364.5 93.8 L363.3 87.7 L362.7 81.7 L362.1 76.9 L359.7 75.1 L358.5 72.7 L360.9 70.3 L361.5 65.5 L363.9 62.5 L366.9 60.1"/><path d="M362.1 76.9 L365.1 75.1 L369.9 73.5 L372.3 71.5 L375.9 72.7"/><path stroke-width="2.6" d="M337.5 359.8 L342.9 354.4 L348.3 350.8 L353.6 349.0 L359.0 350.8 L364.4 356.2 L363.5 363.3 L359.0 365.1 L355.4 366.9 L351.8 370.5 L344.7 370.5 L341.1 366.9 L338.4 363.3Z M393.0 322.2 L387.6 318.7 L382.2 321.3 L379.5 327.6 L381.3 332.1 L387.6 335.6 L393.0 335.6Z"/><g fill="#000" stroke="none"><ellipse cx="114.3" cy="44.6" rx="1.7" ry="2.8" transform="rotate(30 114.3 44.6)"/><ellipse cx="477.6" cy="101.5" rx="2.1" ry="3.7" transform="rotate(10 477.6 101.5)"/><ellipse cx="473.6" cy="110.6" rx="2.5" ry="3.9" transform="rotate(0 473.6 110.6)"/><ellipse cx="478.4" cy="129.6" rx="1.9" ry="3.0" transform="rotate(20 478.4 129.6)"/><ellipse cx="479.4" cy="119.7" rx="0.7" ry="0.7" transform="rotate(0 479.4 119.7)"/><ellipse cx="516.9" cy="168.1" rx="1.8" ry="3.2" transform="rotate(-10 516.9 168.1)"/><ellipse cx="521.5" cy="177.0" rx="1.4" ry="1.1" transform="rotate(0 521.5 177.0)"/><ellipse cx="528.1" cy="175.3" rx="1.6" ry="1.1" transform="rotate(20 528.1 175.3)"/><ellipse cx="537.0" cy="182.2" rx="1.6" ry="1.6" transform="rotate(0 537.0 182.2)"/><ellipse cx="509.6" cy="226.7" rx="1.1" ry="0.8" transform="rotate(0 509.6 226.7)"/><ellipse cx="588.9" cy="224.4" rx="1.0" ry="2.2" transform="rotate(15 588.9 224.4)"/><ellipse cx="580.0" cy="173.6" rx="1.6" ry="1.4"/><ellipse cx="577.8" cy="174.4" rx="1.6" ry="1.4"/><ellipse cx="576.0" cy="177.2" rx="1.6" ry="1.4"/><ellipse cx="573.3" cy="183.4" rx="1.6" ry="1.4"/><ellipse cx="570.1" cy="188.9" rx="1.6" ry="1.4"/><ellipse cx="566.6" cy="194.2" rx="1.6" ry="1.4"/><ellipse cx="563.1" cy="198.6" rx="1.6" ry="1.4"/><ellipse cx="559.8" cy="202.8" rx="1.6" ry="1.4"/><ellipse cx="557.1" cy="206.3" rx="1.6" ry="1.4"/><ellipse cx="553.0" cy="209.0" rx="1.6" ry="1.4"/><ellipse cx="548.5" cy="211.3" rx="1.6" ry="1.4"/><ellipse cx="487.8" cy="161.0" rx="1.0" ry="1.6"/><ellipse cx="487.6" cy="166.0" rx="0.9" ry="1.4"/><ellipse cx="488.0" cy="172.0" rx="0.9" ry="1.5"/><ellipse cx="486.9" cy="180.0" rx="0.8" ry="1.3"/><ellipse cx="484.6" cy="212.0" rx="0.9" ry="1.2"/><ellipse cx="424.6" cy="261.5" rx="0.9" ry="1.4"/></g></g><clipPath id="pc"><rect x="110.0" y="41.7" width="487" height="391"/></clipPath></defs><g transform="translate(0.0 0.0)"><use href="#geo" clip-path="url(#pc)"/><rect x="185.2" y="153.3" width="68.7" height="52.9" fill="none" stroke="#000" stroke-width="4.8" stroke-dasharray="14.9 5.5"/><line x1="289.3" y1="353.7" x2="336.0" y2="337" stroke="#8a2020" stroke-width="1.1"/><path d="M333.1 332.1 L347.4 333.3 L337.5 343.7Z" fill="#d80d0d"/><text x="545" y="111.5" font-size="41.7" fill="#fff" text-anchor="middle">(a)</text><text x="353.6" y="29.9" font-size="28.8" font-weight="bold" fill="#000" text-anchor="middle">Temperature-JJA (La Nina)</text><text x="102.8" y="56.4" font-size="26.5" font-weight="bold" fill="#262626" text-anchor="end">0</text><text x="102.6" y="166.1" font-size="26.5" font-weight="bold" fill="#262626" text-anchor="end">10<tspan font-size="20" dy="-12.5">o</tspan><tspan dy="12.5">S</tspan></text><text x="102.6" y="271.8" font-size="26.5" font-weight="bold" fill="#262626" text-anchor="end">20<tspan font-size="20" dy="-12.5">o</tspan><tspan dy="12.5">S</tspan></text><text x="102.6" y="378.1" font-size="26.5" font-weight="bold" fill="#262626" text-anchor="end">30<tspan font-size="20" dy="-12.5">o</tspan><tspan dy="12.5">S</tspan></text><text x="151.2" y="473.5" font-size="26.5" font-weight="bold" fill="#262626" text-anchor="middle">10<tspan font-size="20" dy="-12.5">o</tspan><tspan dy="12.5">E</tspan></text><text x="260.3" y="473.5" font-size="26.5" font-weight="bold" fill="#262626" text-anchor="middle">20<tspan font-size="20" dy="-12.5">o</tspan><tspan dy="12.5">E</tspan></text><text x="369.5" y="473.5" font-size="26.5" font-weight="bold" fill="#262626" text-anchor="middle">30<tspan font-size="20" dy="-12.5">o</tspan><tspan dy="12.5">E</tspan></text><text x="478.6" y="473.5" font-size="26.5" font-weight="bold" fill="#262626" text-anchor="middle">40<tspan font-size="20" dy="-12.5">o</tspan><tspan dy="12.5">E</tspan></text><text x="587.8" y="473.5" font-size="26.5" font-weight="bold" fill="#262626" text-anchor="middle">50<tspan font-size="20" dy="-12.5">o</tspan><tspan dy="12.5">E</tspan></text><text x="354.1" y="509.2" font-size="28" font-weight="bold" fill="#262626" text-anchor="middle">Longitude</text><text transform="translate(33.9 236.6) rotate(-90)" font-size="28" font-weight="bold" fill="#262626" text-anchor="middle">Latitude</text><rect x="628" y="41.7" width="14" height="391" fill="url(#jet)" stroke="#262626" stroke-width="0.5"/><line x1="639" x2="642" y1="432.7" y2="432.7" stroke="#262626" stroke-width="0.6"/><text x="648.1" y="442.5" font-size="24" font-weight="bold" fill="#262626">0</text><line x1="639" x2="642" y1="371.5" y2="371.5" stroke="#262626" stroke-width="0.6"/><text x="648.1" y="381.3" font-size="24" font-weight="bold" fill="#262626">5</text><line x1="639" x2="642" y1="310.3" y2="310.3" stroke="#262626" stroke-width="0.6"/><text x="648.1" y="320.1" font-size="24" font-weight="bold" fill="#262626">10</text><line x1="639" x2="642" y1="249.1" y2="249.1" stroke="#262626" stroke-width="0.6"/><text x="648.1" y="258.9" font-size="24" font-weight="bold" fill="#262626">15</text><line x1="639" x2="642" y1="187.9" y2="187.9" stroke="#262626" stroke-width="0.6"/><text x="648.1" y="197.7" font-size="24" font-weight="bold" fill="#262626">20</text><line x1="639" x2="642" y1="126.7" y2="126.7" stroke="#262626" stroke-width="0.6"/><text x="648.1" y="136.5" font-size="24" font-weight="bold" fill="#262626">25</text><line x1="639" x2="642" y1="65.5" y2="65.5" stroke="#262626" stroke-width="0.6"/><text x="648.1" y="75.3" font-size="24" font-weight="bold" fill="#262626">30</text><text transform="translate(708.5 237) rotate(-90)" font-size="24" font-weight="bold" fill="#262626" text-anchor="middle">(<tspan font-size="17" dy="-9">o</tspan><tspan dy="9">C)</tspan></text></g><g transform="translate(759.0 0.0)"><use href="#geo" clip-path="url(#pc)"/><rect x="190.7" y="153.3" width="68.7" height="52.9" fill="none" stroke="#000" stroke-width="4.8" stroke-dasharray="14.9 5.5"/><line x1="290.3" y1="353.7" x2="337.0" y2="337" stroke="#8a2020" stroke-width="1.1"/><path d="M334.1 332.1 L348.4 333.3 L338.5 343.7Z" fill="#d80d0d"/><text x="545" y="111.5" font-size="41.7" fill="#fff" text-anchor="middle">(b)</text><text x="353.6" y="29.9" font-size="28.8" font-weight="bold" fill="#000" text-anchor="middle">Temperature-JJA (El Nino)</text><text x="102.8" y="56.4" font-size="26.5" font-weight="bold" fill="#262626" text-anchor="end">0</text><text x="102.6" y="166.1" font-size="26.5" font-weight="bold" fill="#262626" text-anchor="end">10<tspan font-size="20" dy="-12.5">o</tspan><tspan dy="12.5">S</tspan></text><text x="102.6" y="271.8" font-size="26.5" font-weight="bold" fill="#262626" text-anchor="end">20<tspan font-size="20" dy="-12.5">o</tspan><tspan dy="12.5">S</tspan></text><text x="102.6" y="378.1" font-size="26.5" font-weight="bold" fill="#262626" text-anchor="end">30<tspan font-size="20" dy="-12.5">o</tspan><tspan dy="12.5">S</tspan></text><text x="151.2" y="473.5" font-size="26.5" font-weight="bold" fill="#262626" text-anchor="middle">10<tspan font-size="20" dy="-12.5">o</tspan><tspan dy="12.5">E</tspan></text><text x="260.3" y="473.5" font-size="26.5" font-weight="bold" fill="#262626" text-anchor="middle">20<tspan font-size="20" dy="-12.5">o</tspan><tspan dy="12.5">E</tspan></text><text x="369.5" y="473.5" font-size="26.5" font-weight="bold" fill="#262626" text-anchor="middle">30<tspan font-size="20" dy="-12.5">o</tspan><tspan dy="12.5">E</tspan></text><text x="478.6" y="473.5" font-size="26.5" font-weight="bold" fill="#262626" text-anchor="middle">40<tspan font-size="20" dy="-12.5">o</tspan><tspan dy="12.5">E</tspan></text><text x="587.8" y="473.5" font-size="26.5" font-weight="bold" fill="#262626" text-anchor="middle">50<tspan font-size="20" dy="-12.5">o</tspan><tspan dy="12.5">E</tspan></text><text x="354.1" y="509.2" font-size="28" font-weight="bold" fill="#262626" text-anchor="middle">Longitude</text><text transform="translate(33.9 236.6) rotate(-90)" font-size="28" font-weight="bold" fill="#262626" text-anchor="middle">Latitude</text><rect x="628" y="41.7" width="14" height="391" fill="url(#jet)" stroke="#262626" stroke-width="0.5"/><line x1="639" x2="642" y1="432.7" y2="432.7" stroke="#262626" stroke-width="0.6"/><text x="648.1" y="442.5" font-size="24" font-weight="bold" fill="#262626">0</text><line x1="639" x2="642" y1="371.5" y2="371.5" stroke="#262626" stroke-width="0.6"/><text x="648.1" y="381.3" font-size="24" font-weight="bold" fill="#262626">5</text><line x1="639" x2="642" y1="310.3" y2="310.3" stroke="#262626" stroke-width="0.6"/><text x="648.1" y="320.1" font-size="24" font-weight="bold" fill="#262626">10</text><line x1="639" x2="642" y1="249.1" y2="249.1" stroke="#262626" stroke-width="0.6"/><text x="648.1" y="258.9" font-size="24" font-weight="bold" fill="#262626">15</text><line x1="639" x2="642" y1="187.9" y2="187.9" stroke="#262626" stroke-width="0.6"/><text x="648.1" y="197.7" font-size="24" font-weight="bold" fill="#262626">20</text><line x1="639" x2="642" y1="126.7" y2="126.7" stroke="#262626" stroke-width="0.6"/><text x="648.1" y="136.5" font-size="24" font-weight="bold" fill="#262626">25</text><line x1="639" x2="642" y1="65.5" y2="65.5" stroke="#262626" stroke-width="0.6"/><text x="648.1" y="75.3" font-size="24" font-weight="bold" fill="#262626">30</text><text transform="translate(708.5 237) rotate(-90)" font-size="24" font-weight="bold" fill="#262626" text-anchor="middle">(<tspan font-size="17" dy="-9">o</tspan><tspan dy="9">C)</tspan></text></g><g transform="translate(-3.5 552.7)"><use href="#geo" clip-path="url(#pc)"/><text x="545" y="111.5" font-size="41.7" fill="#fff" text-anchor="middle">(c)</text><text x="353.6" y="29.9" font-size="28.8" font-weight="bold" fill="#000" text-anchor="middle">Temperature-SON (La Nina)</text><text x="102.8" y="56.4" font-size="26.5" font-weight="bold" fill="#262626" text-anchor="end">0</text><text x="102.6" y="166.1" font-size="26.5" font-weight="bold" fill="#262626" text-anchor="end">10<tspan font-size="20" dy="-12.5">o</tspan><tspan dy="12.5">S</tspan></text><text x="102.6" y="271.8" font-size="26.5" font-weight="bold" fill="#262626" text-anchor="end">20<tspan font-size="20" dy="-12.5">o</tspan><tspan dy="12.5">S</tspan></text><text x="102.6" y="378.1" font-size="26.5" font-weight="bold" fill="#262626" text-anchor="end">30<tspan font-size="20" dy="-12.5">o</tspan><tspan dy="12.5">S</tspan></text><text x="151.2" y="473.5" font-size="26.5" font-weight="bold" fill="#262626" text-anchor="middle">10<tspan font-size="20" dy="-12.5">o</tspan><tspan dy="12.5">E</tspan></text><text x="260.3" y="473.5" font-size="26.5" font-weight="bold" fill="#262626" text-anchor="middle">20<tspan font-size="20" dy="-12.5">o</tspan><tspan dy="12.5">E</tspan></text><text x="369.5" y="473.5" font-size="26.5" font-weight="bold" fill="#262626" text-anchor="middle">30<tspan font-size="20" dy="-12.5">o</tspan><tspan dy="12.5">E</tspan></text><text x="478.6" y="473.5" font-size="26.5" font-weight="bold" fill="#262626" text-anchor="middle">40<tspan font-size="20" dy="-12.5">o</tspan><tspan dy="12.5">E</tspan></text><text x="587.8" y="473.5" font-size="26.5" font-weight="bold" fill="#262626" text-anchor="middle">50<tspan font-size="20" dy="-12.5">o</tspan><tspan dy="12.5">E</tspan></text><text x="354.1" y="509.2" font-size="28" font-weight="bold" fill="#262626" text-anchor="middle">Longitude</text><text transform="translate(33.9 236.6) rotate(-90)" font-size="28" font-weight="bold" fill="#262626" text-anchor="middle">Latitude</text><rect x="628" y="41.7" width="14" height="391" fill="url(#jet)" stroke="#262626" stroke-width="0.5"/><line x1="639" x2="642" y1="432.7" y2="432.7" stroke="#262626" stroke-width="0.6"/><text x="648.1" y="442.5" font-size="24" font-weight="bold" fill="#262626">0</text><line x1="639" x2="642" y1="371.5" y2="371.5" stroke="#262626" stroke-width="0.6"/><text x="648.1" y="381.3" font-size="24" font-weight="bold" fill="#262626">5</text><line x1="639" x2="642" y1="310.3" y2="310.3" stroke="#262626" stroke-width="0.6"/><text x="648.1" y="320.1" font-size="24" font-weight="bold" fill="#262626">10</text><line x1="639" x2="642" y1="249.1" y2="249.1" stroke="#262626" stroke-width="0.6"/><text x="648.1" y="258.9" font-size="24" font-weight="bold" fill="#262626">15</text><line x1="639" x2="642" y1="187.9" y2="187.9" stroke="#262626" stroke-width="0.6"/><text x="648.1" y="197.7" font-size="24" font-weight="bold" fill="#262626">20</text><line x1="639" x2="642" y1="126.7" y2="126.7" stroke="#262626" stroke-width="0.6"/><text x="648.1" y="136.5" font-size="24" font-weight="bold" fill="#262626">25</text><line x1="639" x2="642" y1="65.5" y2="65.5" stroke="#262626" stroke-width="0.6"/><text x="648.1" y="75.3" font-size="24" font-weight="bold" fill="#262626">30</text><text transform="translate(708.5 237) rotate(-90)" font-size="24" font-weight="bold" fill="#262626" text-anchor="middle">(<tspan font-size="17" dy="-9">o</tspan><tspan dy="9">C)</tspan></text></g><g transform="translate(761.0 552.7)"><use href="#geo" clip-path="url(#pc)"/><text x="545" y="111.5" font-size="41.7" fill="#fff" text-anchor="middle">(d)</text><text x="353.6" y="29.9" font-size="28.8" font-weight="bold" fill="#000" text-anchor="middle">Temperature-SON (El Nino)</text><text x="102.8" y="56.4" font-size="26.5" font-weight="bold" fill="#262626" text-anchor="end">0</text><text x="102.6" y="166.1" font-size="26.5" font-weight="bold" fill="#262626" text-anchor="end">10<tspan font-size="20" dy="-12.5">o</tspan><tspan dy="12.5">S</tspan></text><text x="102.6" y="271.8" font-size="26.5" font-weight="bold" fill="#262626" text-anchor="end">20<tspan font-size="20" dy="-12.5">o</tspan><tspan dy="12.5">S</tspan></text><text x="102.6" y="378.1" font-size="26.5" font-weight="bold" fill="#262626" text-anchor="end">30<tspan font-size="20" dy="-12.5">o</tspan><tspan dy="12.5">S</tspan></text><text x="151.2" y="473.5" font-size="26.5" font-weight="bold" fill="#262626" text-anchor="middle">10<tspan font-size="20" dy="-12.5">o</tspan><tspan dy="12.5">E</tspan></text><text x="260.3" y="473.5" font-size="26.5" font-weight="bold" fill="#262626" text-anchor="middle">20<tspan font-size="20" dy="-12.5">o</tspan><tspan dy="12.5">E</tspan></text><text x="369.5" y="473.5" font-size="26.5" font-weight="bold" fill="#262626" text-anchor="middle">30<tspan font-size="20" dy="-12.5">o</tspan><tspan dy="12.5">E</tspan></text><text x="478.6" y="473.5" font-size="26.5" font-weight="bold" fill="#262626" text-anchor="middle">40<tspan font-size="20" dy="-12.5">o</tspan><tspan dy="12.5">E</tspan></text><text x="587.8" y="473.5" font-size="26.5" font-weight="bold" fill="#262626" text-anchor="middle">50<tspan font-size="20" dy="-12.5">o</tspan><tspan dy="12.5">E</tspan></text><text x="354.1" y="509.2" font-size="28" font-weight="bold" fill="#262626" text-anchor="middle">Longitude</text><text transform="translate(33.9 236.6) rotate(-90)" font-size="28" font-weight="bold" fill="#262626" text-anchor="middle">Latitude</text><rect x="628" y="41.7" width="14" height="391" fill="url(#jet)" stroke="#262626" stroke-width="0.5"/><line x1="639" x2="642" y1="432.7" y2="432.7" stroke="#262626" stroke-width="0.6"/><text x="648.1" y="442.5" font-size="24" font-weight="bold" fill="#262626">0</text><line x1="639" x2="642" y1="371.5" y2="371.5" stroke="#262626" stroke-width="0.6"/><text x="648.1" y="381.3" font-size="24" font-weight="bold" fill="#262626">5</text><line x1="639" x2="642" y1="310.3" y2="310.3" stroke="#262626" stroke-width="0.6"/><text x="648.1" y="320.1" font-size="24" font-weight="bold" fill="#262626">10</text><line x1="639" x2="642" y1="249.1" y2="249.1" stroke="#262626" stroke-width="0.6"/><text x="648.1" y="258.9" font-size="24" font-weight="bold" fill="#262626">15</text><line x1="639" x2="642" y1="187.9" y2="187.9" stroke="#262626" stroke-width="0.6"/><text x="648.1" y="197.7" font-size="24" font-weight="bold" fill="#262626">20</text><line x1="639" x2="642" y1="126.7" y2="126.7" stroke="#262626" stroke-width="0.6"/><text x="648.1" y="136.5" font-size="24" font-weight="bold" fill="#262626">25</text><line x1="639" x2="642" y1="65.5" y2="65.5" stroke="#262626" stroke-width="0.6"/><text x="648.1" y="75.3" font-size="24" font-weight="bold" fill="#262626">30</text><text transform="translate(708.5 237) rotate(-90)" font-size="24" font-weight="bold" fill="#262626" text-anchor="middle">(<tspan font-size="17" dy="-9">o</tspan><tspan dy="9">C)</tspan></text></g></svg></body></html>
